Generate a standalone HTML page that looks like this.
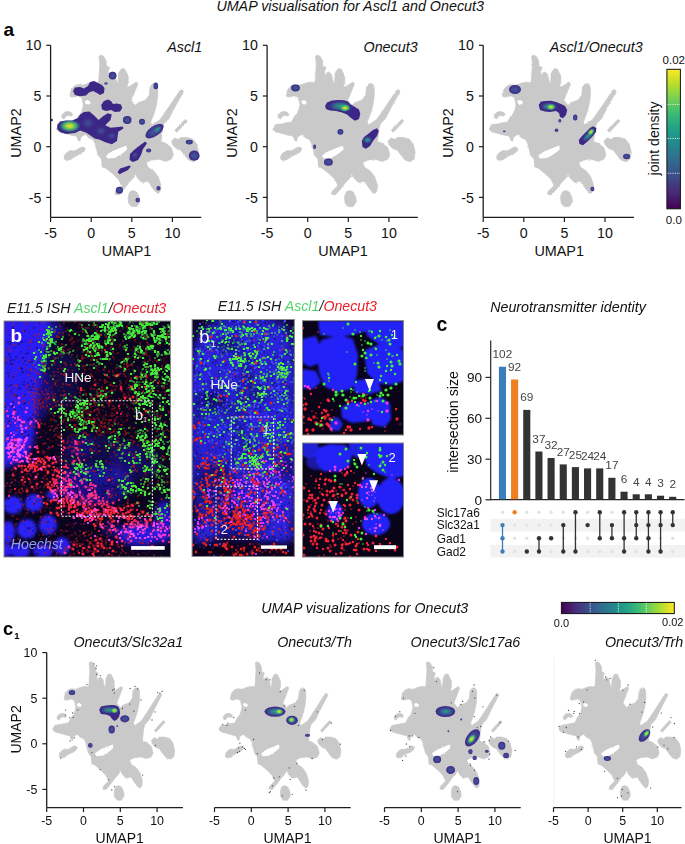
<!DOCTYPE html>
<html><head><meta charset="utf-8"><style>
html,body{margin:0;padding:0;background:#fff;}
svg{display:block;font-family:"Liberation Sans", sans-serif;}
</style></head><body>
<svg width="685" height="844" viewBox="0 0 685 844">
<defs><filter id="rough" x="-5%" y="-5%" width="110%" height="110%"><feTurbulence type="fractalNoise" baseFrequency="0.9" numOctaves="1" seed="4" result="n"/><feDisplacementMap in="SourceGraphic" in2="n" scale="2.2" xChannelSelector="R" yChannelSelector="G"/></filter><g id="umap" filter="url(#rough)"><path d="M286.3,96.2 L287.6,89.6 L291.2,85.7 L295.0,84.6 L300.0,85.3 L304.3,83.5 L309.5,82.2 L314.8,82.6 L315.4,77.8 L316.2,64.7 L315.5,56.2 L317.2,55.2 L319.9,56.2 L322.5,60.8 L322.8,66.0 L325.8,67.3 L325.4,69.7 L324.5,70.6 L324.9,76.5 L326.4,73.2 L328.8,71.9 L331.4,74.2 L332.4,79.2 L333.7,84.4 L334.6,80.5 L335.0,73.2 L338.0,68.7 L340.9,68.9 L344.6,75.9 L344.6,83.1 L342.9,87.0 L346.1,86.4 L352.7,82.1 L354.3,83.8 L350.1,94.3 L347.5,100.2 L351.9,105.4 L354.5,102.8 L361.8,100.2 L365.7,94.9 L366.4,87.0 L369.0,83.8 L372.3,83.8 L374.0,87.0 L374.2,95.0 L373.2,103.0 L371.5,110.0 L369.5,116.0 L367.0,122.0 L368.3,125.0 L376.2,119.9 L385.4,106.8 L396.6,90.3 L398.6,89.7 L399.9,91.6 L390.7,108.1 L385.4,118.6 L380.2,123.8 L378.8,129.1 L377.4,141.7 L381.8,143.1 L387.6,147.5 L389.8,154.8 L387.6,159.2 L381.8,161.4 L375.9,159.2 L368.0,160.0 L362.5,162.5 L364.5,167.5 L370.1,170.9 L374.5,176.7 L377.4,185.5 L376.6,191.3 L374.5,193.5 L371.5,191.3 L367.2,185.5 L364.2,181.1 L358.4,182.6 L354.0,178.2 L351.8,173.8 L349.6,178.2 L345.3,182.6 L340.9,188.4 L335.0,195.0 L331.4,194.2 L332.1,191.3 L338.0,185.5 L335.0,179.6 L329.2,173.8 L321.9,168.0 L318.6,167.0 L317.9,159.2 L314.6,155.2 L312.6,148.0 L311.7,143.9 L309.5,139.6 L305.2,137.8 L301.7,134.3 L297.3,136.9 L296.4,141.3 L294.7,140.4 L292.9,136.1 L288.5,135.2 L281.5,133.4 L275.4,131.7 L272.8,129.0 L275.4,124.7 L281.5,123.8 L285.9,122.9 L291.2,122.0 L292.9,119.4 L294.7,115.9 L297.3,113.3 L299.0,108.9 L299.9,104.5 L299.0,101.0 L298.2,97.5 L294.7,95.8 L288.5,97.1Z M278.0,117.5 L278.5,114.5 L281.0,112.2 L284.5,111.5 L287.5,112.5 L289.0,114.5 L287.5,116.0 L284.5,115.3 L282.0,116.5 L280.5,118.9Z M280.5,159.0 L281.0,155.0 L284.0,152.0 L287.0,150.5 L290.0,151.0 L293.0,150.0 L296.0,148.0 L299.0,147.0 L301.8,148.5 L300.5,151.5 L297.0,154.0 L293.0,155.5 L290.0,157.5 L287.0,159.5 L283.0,160.4Z M344.5,198.0 L346.0,192.0 L349.5,190.6 L353.0,192.0 L355.5,197.0 L356.2,202.0 L353.0,206.6 L348.0,206.6 L345.0,203.0Z M388.0,141.0 L391.0,138.1 L395.0,139.5 L397.2,137.5 L403.0,137.5 L409.0,139.0 L413.0,144.0 L415.0,152.0 L414.0,159.0 L410.0,161.8 L405.0,160.0 L400.0,154.0 L397.0,150.0 L393.0,148.7 L389.0,145.0Z M401.8,119.3 L403.8,121.2 L393.2,132.2 L391.2,130.3Z " fill="#c9c9c9" stroke="#c9c9c9" stroke-width="0.8" stroke-linejoin="round"/><path d="M301.0,101.0 L304.0,100.1 L307.0,102.0 L305.5,104.5 L302.0,104.0Z M322.0,155.5 L328.0,151.5 L334.0,149.0 L339.0,147.0 L343.0,145.5 L343.5,149.5 L339.0,153.2 L335.5,155.6 L331.0,158.0 L324.0,158.6Z " fill="#fff"/></g><linearGradient id="virV" x1="0" y1="1" x2="0" y2="0"><stop offset="0.000" stop-color="#440154"/><stop offset="0.111" stop-color="#482878"/><stop offset="0.222" stop-color="#3e4989"/><stop offset="0.333" stop-color="#31688e"/><stop offset="0.444" stop-color="#26828e"/><stop offset="0.556" stop-color="#1f9e89"/><stop offset="0.667" stop-color="#35b779"/><stop offset="0.778" stop-color="#6ece58"/><stop offset="0.889" stop-color="#b5de2b"/><stop offset="1.000" stop-color="#fde725"/></linearGradient><linearGradient id="virH" x1="0" y1="0" x2="1" y2="0"><stop offset="0.000" stop-color="#440154"/><stop offset="0.111" stop-color="#482878"/><stop offset="0.222" stop-color="#3e4989"/><stop offset="0.333" stop-color="#31688e"/><stop offset="0.444" stop-color="#26828e"/><stop offset="0.556" stop-color="#1f9e89"/><stop offset="0.667" stop-color="#35b779"/><stop offset="0.778" stop-color="#6ece58"/><stop offset="0.889" stop-color="#b5de2b"/><stop offset="1.000" stop-color="#fde725"/></linearGradient><radialGradient id="gP"><stop offset="0" stop-color="#41569a"/><stop offset="0.55" stop-color="#3f4491"/><stop offset="1" stop-color="#3c2787"/></radialGradient>
<radialGradient id="gT"><stop offset="0" stop-color="#2b918b"/><stop offset="0.35" stop-color="#2f738f"/><stop offset="0.7" stop-color="#3e4990"/><stop offset="1" stop-color="#3c2787"/></radialGradient>
<radialGradient id="gY"><stop offset="0" stop-color="#e0e41d"/><stop offset="0.18" stop-color="#a2d93b"/><stop offset="0.38" stop-color="#3cb779"/><stop offset="0.6" stop-color="#2a808e"/><stop offset="0.82" stop-color="#3d4a90"/><stop offset="1" stop-color="#3c2787"/></radialGradient>
<radialGradient id="gI"><stop offset="0" stop-color="#415a9a" stop-opacity="0.9"/><stop offset="1" stop-color="#3f4491" stop-opacity="0"/></radialGradient>
<radialGradient id="gYc"><stop offset="0" stop-color="#e8e41a"/><stop offset="0.3" stop-color="#9ed83f"/><stop offset="0.65" stop-color="#3cb87a" stop-opacity="0.8"/><stop offset="1" stop-color="#2a808e" stop-opacity="0"/></radialGradient>
<radialGradient id="gTc"><stop offset="0" stop-color="#2b9a8a"/><stop offset="0.5" stop-color="#2f7a8f" stop-opacity="0.8"/><stop offset="1" stop-color="#3e4a90" stop-opacity="0"/></radialGradient><filter id="bl1" x="-20%" y="-20%" width="140%" height="140%"><feGaussianBlur stdDeviation="1"/></filter><filter id="bl1.5" x="-20%" y="-20%" width="140%" height="140%"><feGaussianBlur stdDeviation="1.5"/></filter><filter id="bl2" x="-20%" y="-20%" width="140%" height="140%"><feGaussianBlur stdDeviation="2"/></filter><filter id="bl3" x="-20%" y="-20%" width="140%" height="140%"><feGaussianBlur stdDeviation="3"/></filter><filter id="bl4" x="-20%" y="-20%" width="140%" height="140%"><feGaussianBlur stdDeviation="4"/></filter></defs>
<text x="216.4" y="11.1" font-size="14.3" text-anchor="start" font-weight="normal" fill="#111" font-style="italic" >UMAP visualisation for Ascl1 and Onecut3</text>
<text x="3.4" y="35.7" font-size="19" text-anchor="start" font-weight="bold" fill="#000" >a</text>
<use href="#umap" transform="translate(-216.4,0)"/>
<ellipse cx="112.6" cy="75.6" rx="3.9" ry="3.9" fill="url(#gP)"/>
<polygon points="73,91 75,87.5 80,87 84,88.5 88,86 90,82 94,81 98,83 102,85 104.5,88 104,93 100,95 97,93 93,91 89,92.5 86,95.5 80,96.2 75,95" fill="#3c2787"/>
<ellipse cx="106" cy="83.4" rx="1.6" ry="1.2" fill="url(#gP)"/>
<polygon points="101.2,105 104,101 108,99.5 111,101 113,104 117,103.5 121,104.5 122.3,108 120,111.5 115,112 111,110 106,111 102,109.5" fill="#3c2787"/>
<polygon points="57.2,125 60,121.5 66,120.5 72,120.5 78,118 80.2,114.5 84,112 89.4,111.4 94.7,116 98.6,119.9 102.6,116.6 107.8,113.3 111.8,114.6 110.5,119.9 105.2,125.2 110.5,127.8 118,127 122.3,126.6 123.6,128 122.3,129.2 118.3,131.8 117,141 111.8,144.3 105.2,142.3 99.9,139.7 94.7,138.4 86.8,133.1 80.2,130.5 75,133 66,134 60,132 57.2,129" fill="#3c2787"/>
<ellipse cx="88" cy="123" rx="7" ry="6" fill="url(#gI)"/>
<ellipse cx="101" cy="131" rx="6" ry="5" fill="url(#gI)"/>
<ellipse cx="112" cy="136" rx="5" ry="4" fill="url(#gI)"/>
<ellipse cx="69.7" cy="126" rx="11" ry="6.5" fill="url(#gYc)"/>
<ellipse cx="127.2" cy="120" rx="4.3" ry="3.9" fill="url(#gP)"/>
<ellipse cx="142" cy="121.7" rx="3" ry="3" fill="url(#gP)"/>
<ellipse cx="154.5" cy="131.2" rx="10.5" ry="5" fill="url(#gP)" transform="rotate(-34 154.5 131.2)"/>
<ellipse cx="157.5" cy="129.5" rx="5.5" ry="3.2" fill="url(#gTc)" transform="rotate(-34 157.5 129.5)"/>
<polygon points="145.3,141.5 147,143.5 143,149 141,155 138,160 133,162 129.6,160 130,154 134,150 139,146" fill="#3c2787"/>
<ellipse cx="135" cy="155" rx="4" ry="4" fill="url(#gI)"/>
<ellipse cx="148.6" cy="150.5" rx="2.6" ry="2" fill="url(#gP)"/>
<polygon points="117.7,172 120,168.5 125,167 129,165.6 130.9,166.5 128,170 123,172.5 119.5,174.2" fill="#3c2787"/>
<ellipse cx="119.4" cy="190.2" rx="3.6" ry="3.5" fill="url(#gP)"/>
<ellipse cx="158.5" cy="188.3" rx="2" ry="2.3" fill="url(#gP)"/>
<ellipse cx="137.7" cy="200.1" rx="2.3" ry="2.3" fill="url(#gP)"/>
<ellipse cx="194.2" cy="155.7" rx="5.4" ry="5.1" fill="url(#gP)"/>
<ellipse cx="189.3" cy="142.1" rx="3.6" ry="2.3" fill="url(#gP)"/>
<ellipse cx="155.8" cy="85.9" rx="2.3" ry="3.3" fill="url(#gP)"/>
<ellipse cx="51.8" cy="120" rx="1.3" ry="1.3" fill="url(#gP)"/>
<path d="M50.6,45.3 V217.4" stroke="#1e1e1e" stroke-width="1.3" fill="none"/>
<path d="M46.3,45.3 H50.6" stroke="#1e1e1e" stroke-width="1.2"/>
<text x="41.3" y="50.4" font-size="14.2" text-anchor="end" font-weight="normal" fill="#111" >10</text>
<path d="M46.3,96.0 H50.6" stroke="#1e1e1e" stroke-width="1.2"/>
<text x="41.3" y="101.1" font-size="14.2" text-anchor="end" font-weight="normal" fill="#111" >5</text>
<path d="M46.3,146.7 H50.6" stroke="#1e1e1e" stroke-width="1.2"/>
<text x="41.3" y="151.8" font-size="14.2" text-anchor="end" font-weight="normal" fill="#111" >0</text>
<path d="M46.3,197.4 H50.6" stroke="#1e1e1e" stroke-width="1.2"/>
<text x="41.3" y="202.5" font-size="14.2" text-anchor="end" font-weight="normal" fill="#111" >-5</text>
<path d="M50.6,217.4 H201.3" stroke="#1e1e1e" stroke-width="1.2" fill="none"/>
<path d="M50.6,217.4 V221.9" stroke="#1e1e1e" stroke-width="1.2"/>
<text x="50.6" y="237.6" font-size="14.2" text-anchor="middle" font-weight="normal" fill="#111" >-5</text>
<path d="M91.2,217.4 V221.9" stroke="#1e1e1e" stroke-width="1.2"/>
<text x="91.2" y="237.6" font-size="14.2" text-anchor="middle" font-weight="normal" fill="#111" >0</text>
<path d="M131.8,217.4 V221.9" stroke="#1e1e1e" stroke-width="1.2"/>
<text x="131.8" y="237.6" font-size="14.2" text-anchor="middle" font-weight="normal" fill="#111" >5</text>
<path d="M172.4,217.4 V221.9" stroke="#1e1e1e" stroke-width="1.2"/>
<text x="172.4" y="237.6" font-size="14.2" text-anchor="middle" font-weight="normal" fill="#111" >10</text>
<text x="126.6" y="255.6" font-size="14.4" text-anchor="middle" font-weight="normal" fill="#111" >UMAP1</text>
<text x="0.0" y="0.0" font-size="14.4" text-anchor="middle" font-weight="normal" fill="#111" transform="translate(20.6,133) rotate(-90)">UMAP2</text>
<use href="#umap" transform="translate(0.1,0)"/>
<ellipse cx="295.5" cy="88" rx="4.4" ry="3.4" fill="url(#gP)"/>
<polygon points="325.1,106 327,102.5 332,100.5 338,100 344,100.2 348,101.5 350,104 355,107 359,109.5 360.3,114 359,119 355,120.7 351,118 347,114.5 342,112.5 336,111 330,110.5 326,109" fill="#3c2787"/>
<ellipse cx="340" cy="106" rx="12" ry="5.5" fill="url(#gTc)"/>
<ellipse cx="345" cy="108" rx="6" ry="4" fill="url(#gYc)"/>
<ellipse cx="340.4" cy="131.8" rx="3" ry="2.9" fill="url(#gP)"/>
<polygon points="377,128.3 378.8,131 377,136 373,141 370,146 366,148.7 362.5,147 361.8,141 364,137 368,134 373,130" fill="#3c2787"/>
<ellipse cx="367.5" cy="140" rx="5" ry="4" fill="url(#gTc)"/>
<ellipse cx="314.6" cy="146.8" rx="1.5" ry="2.3" fill="url(#gP)"/>
<ellipse cx="328.4" cy="162.2" rx="4.4" ry="3.6" fill="url(#gP)"/>
<path d="M267.1,45.3 V217.4" stroke="#1e1e1e" stroke-width="1.3" fill="none"/>
<path d="M262.8,45.3 H267.1" stroke="#1e1e1e" stroke-width="1.2"/>
<text x="257.8" y="50.4" font-size="14.2" text-anchor="end" font-weight="normal" fill="#111" >10</text>
<path d="M262.8,96.0 H267.1" stroke="#1e1e1e" stroke-width="1.2"/>
<text x="257.8" y="101.1" font-size="14.2" text-anchor="end" font-weight="normal" fill="#111" >5</text>
<path d="M262.8,146.7 H267.1" stroke="#1e1e1e" stroke-width="1.2"/>
<text x="257.8" y="151.8" font-size="14.2" text-anchor="end" font-weight="normal" fill="#111" >0</text>
<path d="M262.8,197.4 H267.1" stroke="#1e1e1e" stroke-width="1.2"/>
<text x="257.8" y="202.5" font-size="14.2" text-anchor="end" font-weight="normal" fill="#111" >-5</text>
<path d="M267.1,217.4 H417.8" stroke="#1e1e1e" stroke-width="1.2" fill="none"/>
<path d="M267.1,217.4 V221.9" stroke="#1e1e1e" stroke-width="1.2"/>
<text x="267.1" y="237.6" font-size="14.2" text-anchor="middle" font-weight="normal" fill="#111" >-5</text>
<path d="M307.7,217.4 V221.9" stroke="#1e1e1e" stroke-width="1.2"/>
<text x="307.7" y="237.6" font-size="14.2" text-anchor="middle" font-weight="normal" fill="#111" >0</text>
<path d="M348.3,217.4 V221.9" stroke="#1e1e1e" stroke-width="1.2"/>
<text x="348.3" y="237.6" font-size="14.2" text-anchor="middle" font-weight="normal" fill="#111" >5</text>
<path d="M388.9,217.4 V221.9" stroke="#1e1e1e" stroke-width="1.2"/>
<text x="388.9" y="237.6" font-size="14.2" text-anchor="middle" font-weight="normal" fill="#111" >10</text>
<text x="343.1" y="255.6" font-size="14.4" text-anchor="middle" font-weight="normal" fill="#111" >UMAP1</text>
<text x="0.0" y="0.0" font-size="14.4" text-anchor="middle" font-weight="normal" fill="#111" transform="translate(237.1,133) rotate(-90)">UMAP2</text>
<use href="#umap" transform="translate(216.2,0)"/>
<ellipse cx="515" cy="89.5" rx="6" ry="4.5" fill="url(#gP)"/>
<polygon points="538.7,105 541,101.5 546,101 551,100.7 556,102 561,104 565,106 567.2,110 566,115 563,118.2 560,117 559,113 556,111 550,112 545,111.5 540,110" fill="#3c2787"/>
<ellipse cx="549" cy="106.5" rx="9" ry="4.5" fill="url(#gTc)"/>
<ellipse cx="551" cy="107" rx="5" ry="3.5" fill="url(#gYc)"/>
<ellipse cx="559.8" cy="120.7" rx="1.5" ry="1.8" fill="url(#gP)"/>
<ellipse cx="575.2" cy="117.4" rx="2.2" ry="3" fill="url(#gP)"/>
<ellipse cx="556.5" cy="130.2" rx="1.8" ry="1.8" fill="url(#gP)"/>
<ellipse cx="504.3" cy="131.3" rx="1.4" ry="0.9" fill="url(#gP)"/>
<polygon points="593,126.2 596.4,128 596,132 592,137 588,141 583,145.2 579.5,144 578.8,140 582,136 586,132 590,128" fill="#3c2787"/>
<ellipse cx="588" cy="136" rx="8" ry="3.5" fill="url(#gTc)" transform="rotate(-45 588 136)"/>
<ellipse cx="591" cy="132" rx="4.5" ry="3" fill="url(#gYc)" transform="rotate(-45 591 132)"/>
<ellipse cx="626.6" cy="156.5" rx="3.5" ry="2.7" fill="url(#gP)"/>
<ellipse cx="592.4" cy="189" rx="2" ry="2.3" fill="url(#gP)"/>
<path d="M483.2,45.3 V217.4" stroke="#1e1e1e" stroke-width="1.3" fill="none"/>
<path d="M478.9,45.3 H483.2" stroke="#1e1e1e" stroke-width="1.2"/>
<text x="473.9" y="50.4" font-size="14.2" text-anchor="end" font-weight="normal" fill="#111" >10</text>
<path d="M478.9,96.0 H483.2" stroke="#1e1e1e" stroke-width="1.2"/>
<text x="473.9" y="101.1" font-size="14.2" text-anchor="end" font-weight="normal" fill="#111" >5</text>
<path d="M478.9,146.7 H483.2" stroke="#1e1e1e" stroke-width="1.2"/>
<text x="473.9" y="151.8" font-size="14.2" text-anchor="end" font-weight="normal" fill="#111" >0</text>
<path d="M478.9,197.4 H483.2" stroke="#1e1e1e" stroke-width="1.2"/>
<text x="473.9" y="202.5" font-size="14.2" text-anchor="end" font-weight="normal" fill="#111" >-5</text>
<path d="M483.2,217.4 H633.9" stroke="#1e1e1e" stroke-width="1.2" fill="none"/>
<path d="M483.2,217.4 V221.9" stroke="#1e1e1e" stroke-width="1.2"/>
<text x="483.2" y="237.6" font-size="14.2" text-anchor="middle" font-weight="normal" fill="#111" >-5</text>
<path d="M523.8,217.4 V221.9" stroke="#1e1e1e" stroke-width="1.2"/>
<text x="523.8" y="237.6" font-size="14.2" text-anchor="middle" font-weight="normal" fill="#111" >0</text>
<path d="M564.4,217.4 V221.9" stroke="#1e1e1e" stroke-width="1.2"/>
<text x="564.4" y="237.6" font-size="14.2" text-anchor="middle" font-weight="normal" fill="#111" >5</text>
<path d="M605.0,217.4 V221.9" stroke="#1e1e1e" stroke-width="1.2"/>
<text x="605.0" y="237.6" font-size="14.2" text-anchor="middle" font-weight="normal" fill="#111" >10</text>
<text x="559.2" y="255.6" font-size="14.4" text-anchor="middle" font-weight="normal" fill="#111" >UMAP1</text>
<text x="0.0" y="0.0" font-size="14.4" text-anchor="middle" font-weight="normal" fill="#111" transform="translate(453.2,133) rotate(-90)">UMAP2</text>
<text x="202.2" y="51.9" font-size="14.3" text-anchor="end" font-weight="normal" fill="#111" font-style="italic" >Ascl1</text>
<text x="417.6" y="51.7" font-size="14.3" text-anchor="end" font-weight="normal" fill="#111" font-style="italic" >Onecut3</text>
<text x="642.7" y="51.9" font-size="14.3" text-anchor="end" font-weight="normal" fill="#111" font-style="italic" >Ascl1/Onecut3</text>
<rect x="666.9" y="69.3" width="13.5" height="139.5" fill="url(#virV)" stroke="#111" stroke-width="1"/>
<path d="M667.5,104.4 H680" stroke="#fff" stroke-width="0.9" stroke-dasharray="1.2,1.2" opacity="0.9"/>
<path d="M667.5,138.5 H680" stroke="#fff" stroke-width="0.9" stroke-dasharray="1.2,1.2" opacity="0.9"/>
<path d="M667.5,173.3 H680" stroke="#fff" stroke-width="0.9" stroke-dasharray="1.2,1.2" opacity="0.9"/>
<text x="673.8" y="63.6" font-size="11.5" text-anchor="middle" font-weight="normal" fill="#111" >0.02</text>
<text x="673.8" y="223.6" font-size="11.5" text-anchor="middle" font-weight="normal" fill="#111" >0.0</text>
<text x="0.0" y="0.0" font-size="14" text-anchor="middle" font-weight="normal" fill="#111" transform="translate(658.5,138.5) rotate(-90)">joint density</text>
<clipPath id="cpb"><rect x="4" y="321" width="166.5" height="236.0"/></clipPath>
<g clip-path="url(#cpb)">
<rect x="4" y="321" width="166.5" height="236.0" fill="#0a0420"/>
<g filter="url(#bl3)"><polygon points="0,318 48,318 52,330 47,350 40,380 37,410 34,440 26,460 0,470" fill="#2a1cf4" opacity="1"/><ellipse cx="50" cy="330" rx="14" ry="10" fill="#2a1cf4" opacity="0.5"/><ellipse cx="40" cy="395" rx="12" ry="25" fill="#2a1cf4" opacity="0.35"/><ellipse cx="60" cy="380" rx="20" ry="30" fill="#2a1cf4" opacity="0.18"/><ellipse cx="100" cy="460" rx="40" ry="25" fill="#2a1cf4" opacity="0.2"/><ellipse cx="95" cy="485" rx="38" ry="20" fill="#2a1cf4" opacity="0.45"/><ellipse cx="135" cy="462" rx="25" ry="18" fill="#2a1cf4" opacity="0.25"/><ellipse cx="80" cy="445" rx="15" ry="12" fill="#2a1cf4" opacity="0.25"/><ellipse cx="140" cy="535" rx="22" ry="11" fill="#2a1cf4" opacity="0.9"/><ellipse cx="164" cy="522" rx="9" ry="22" fill="#2a1cf4" opacity="0.8"/><ellipse cx="112" cy="530" rx="10" ry="6" fill="#2a1cf4" opacity="0.4"/></g>
<g filter="url(#bl1.5)"><ellipse cx="13" cy="505" rx="10" ry="9" fill="#2a20f8" opacity="1"/><ellipse cx="34" cy="503" rx="9" ry="9" fill="#2a20f8" opacity="1"/><ellipse cx="27" cy="529" rx="10" ry="10" fill="#2a20f8" opacity="1"/><ellipse cx="48" cy="525" rx="9" ry="10" fill="#2a20f8" opacity="1"/><ellipse cx="8" cy="532" rx="7" ry="11" fill="#2a20f8" opacity="1"/><ellipse cx="62" cy="546" rx="8" ry="9" fill="#2a20f8" opacity="0.95"/><ellipse cx="43" cy="551" rx="10" ry="7" fill="#2a20f8" opacity="0.95"/><ellipse cx="20" cy="551" rx="10" ry="7" fill="#2a20f8" opacity="0.95"/><ellipse cx="6" cy="550" rx="6" ry="7" fill="#2a20f8" opacity="0.95"/><ellipse cx="52" cy="495" rx="6" ry="5" fill="#2a20f8" opacity="0.8"/></g>
<path d="M15 321h0m24 2h0m-21 1h0m-5 3h0m0 1h0m16 4h0m-14 1h0m-5 2h0m6 5h0m23 1h0m-22 1h0m4 0h0m4 0h0m8 0h0m-4 4h0m-13 1h0m-2 1h0m-7 1h0m34 0h0m3 0h0m-16 1h0m-7 2h0m-11 4h0m0 1h0m14 0h0m23 0h0m-36 1h0m21 2h0m14 0h0m-36 1h0m28 0h0m-27 1h0m9 0h0m10 0h0m7 0h0m-29 2h0m15 0h0m3 1h0m16 2h0m-12 2h0m4 0h0m-24 1h0m16 0h0m-5 1h0m19 0h0m-12 1h0m-2 1h0m4 0h0m-9 1h0m9 0h0m-6 4h0m13 3h0m-10 2h0m-23 1h0m17 0h0m-15 1h0m12 0h0m-9 1h0m21 0h0m15 0h0m-13 1h0m1 0h0m-21 2h0m6 0h0m2 0h0m7 0h0m14 0h0m-12 1h0m4 0h0m-22 1h0m1 2h0m36 4h0m-24 4h0m-11 1h0m6 0h0m26 4h0m-25 1h0m2 2h0m5 2h0m-1 1h0m-8 1h0m-8 3h0m2 0h0m9 0h0m16 0h0m-10 2h0m-7 1h0m21 0h0m-11 1h0m7 0h0m-19 2h0m-4 1h0m26 0h0m14 1h0m-43 1h0m31 2h0m7 1h0m3 3h0m-25 1h0m2 0h0m-11 3h0m10 0h0m5 2h0m6 2h0m-6 1h0m-16 3h0m9 0h0m20 0h0m-34 3h0m-2 1h0m2 0h0m9 0h0m20 2h0m3 0h0m55 0h0m-81 2h0m26 1h0m-29 1h0m58 1h0m29 1h0m-69 2h0m49 0h0m-67 2h0m110 0h0m-41 3h0m-63 1h0m47 0h0m-39 1h0m96 0h0m-82 1h0m63 1h0m-35 1h0m26 0h0m13 0h0m-31 1h0m9 0h0m-55 2h0m41 0h0m36 1h0m33 0h0m-129 1h0m11 0h0m47 0h0m-29 1h0m72 0h0m-25 1h0m9 1h0m8 0h0m-19 1h0m0 0h0m20 0h0m28 0h0m14 0h0m-136 1h0m50 0h0m13 0h0m14 0h0m-61 1h0m79 1h0m10 0h0m1 0h0m-100 1h0m-4 1h0m15 0h0m50 0h0m24 0h0m6 0h0m15 0h0m-98 1h0m26 0h0m62 0h0m-74 1h0m48 0h0m44 0h0m-38 1h0m22 1h0m-41 1h0m35 0h0m-10 1h0m7 0h0m-58 1h0m27 0h0m60 0h0m-27 1h0m15 0h0m-110 1h0m74 0h0m2 0h0m-22 1h0m23 0h0m-41 1h0m60 0h0m-35 1h0m80 0h0m-109 1h0m43 0h0m3 0h0m8 0h0m-93 1h0m124 0h0m-120 1h0m34 0h0m65 0h0m-29 1h0m10 0h0m4 0h0m3 1h0m-51 1h0m20 0h0m56 0h0m16 0h0m-102 1h0m13 0h0m64 0h0m-44 1h0m38 0h0m-85 1h0m67 0h0m-68 1h0m10 0h0m26 0h0m-5 1h0m73 0h0m-1 1h0m-118 1h0m86 0h0m-91 1h0m45 0h0m39 0h0m-53 2h0m65 0h0m-58 1h0m104 0h0m-98 1h0m4 1h0m-21 1h0m73 3h0m-56 1h0m18 0h0m-56 1h0m16 0h0m-9 1h0m2 0h0m11 1h0m3 0h0m7 1h0m24 0h0m-10 1h0m-20 1h0m22 0h0m-49 2h0m11 0h0m7 0h0m100 0h0m-77 1h0m-15 1h0m6 1h0m-11 1h0m7 0h0m-28 1h0m60 0h0m-11 1h0m-31 1h0m-13 1h0m42 1h0m0 0h0m-35 2h0m18 1h0m19 0h0m-49 2h0m7 2h0m8 2h0m18 5h0m11 1h0m1 2h0m-28 6h0" stroke="#000" stroke-width="1.0" stroke-linecap="square" fill="none" opacity="0.55"/><path d="M67 326h0m-16 1h0m-17 1h0m-20 1h0m11 2h0m25 2h0m-42 9h0m3 0h0m11 0h0m-12 2h0m9 0h0m18 4h0m3 3h0m36 0h0m-31 1h0m-17 1h0m-19 1h0m17 0h0m22 1h0m-32 2h0m-11 1h0m18 0h0m-12 2h0m3 0h0m11 1h0m27 0h0m-23 1h0m3 0h0m10 0h0m-37 1h0m6 1h0m2 0h0m8 4h0m1 1h0m1 3h0m-15 1h0m1 3h0m4 1h0m18 4h0m-7 1h0m4 2h0m5 0h0m-22 1h0m13 0h0m31 1h0m-26 1h0m5 0h0m-14 1h0m19 1h0m-8 1h0m5 0h0m4 2h0m1 0h0m-26 3h0m10 0h0m-8 1h0m26 3h0m-2 2h0m-21 2h0m5 0h0m-20 1h0m19 0h0m-11 2h0m0 0h0m-8 1h0m7 0h0m3 3h0m0 4h0m18 1h0m26 1h0m-46 1h0m17 1h0m2 1h0m-4 1h0m-19 1h0m15 3h0m25 0h0m-19 1h0m6 1h0m0 2h0m-1 2h0m-10 2h0m13 1h0m-16 1h0m-14 1h0m21 0h0m-5 2h0m-12 7h0m28 1h0m-29 4h0m1 1h0m20 0h0m-21 4h0m83 5h0m8 1h0m2 0h0m-96 1h0m15 0h0m85 0h0m14 1h0m-102 1h0m84 1h0m-76 1h0m51 0h0m7 0h0m5 0h0m-5 2h0m67 4h0m-142 1h0m87 0h0m13 0h0m29 0h0m-35 1h0m32 1h0m-122 1h0m60 1h0m6 0h0m51 0h0m-79 1h0m29 0h0m52 0h0m-24 1h0m31 0h0m-52 1h0m-18 2h0m28 0h0m12 0h0m-58 1h0m14 0h0m27 0h0m15 0h0m-100 1h0m80 0h0m20 0h0m10 0h0m9 0h0m-53 1h0m14 0h0m14 0h0m-92 1h0m24 0h0m57 0h0m17 0h0m-51 1h0m7 0h0m3 0h0m29 0h0m8 0h0m1 0h0m8 1h0m-69 1h0m7 0h0m8 0h0m18 0h0m-59 2h0m68 0h0m15 0h0m12 0h0m4 0h0m-27 1h0m15 0h0m22 0h0m-94 1h0m22 0h0m48 0h0m-99 1h0m8 0h0m110 0h0m1 0h0m-32 1h0m25 1h0m-14 1h0m50 0h0m-136 1h0m-10 1h0m48 0h0m23 0h0m30 0h0m-99 1h0m21 0h0m61 1h0m32 0h0m17 0h0m-104 1h0m9 0h0m8 0h0m-33 1h0m26 1h0m10 0h0m17 0h0m27 0h0m-66 1h0m16 0h0m49 0h0m-33 1h0m81 0h0m-141 1h0m45 0h0m9 1h0m-2 2h0m9 0h0m-49 1h0m12 0h0m82 0h0m-76 1h0m4 1h0m20 0h0m-20 2h0m2 1h0m-23 3h0m19 1h0m-13 1h0m13 0h0m21 0h0m11 0h0m52 0h0m-104 1h0m-3 1h0m33 0h0m14 0h0m-26 4h0m32 1h0m-40 1h0m2 0h0m24 0h0m8 0h0m-19 2h0m-10 1h0m5 0h0m8 1h0m-10 1h0m5 0h0m17 0h0m-22 1h0m24 0h0m7 0h0m-18 1h0m-13 1h0m18 0h0m16 1h0m-42 1h0m-16 1h0m16 0h0m-16 1h0m29 0h0m9 5h0m-29 3h0m9 1h0m1 1h0m22 3h0m-16 1h0m10 3h0" stroke="#000" stroke-width="1.6" stroke-linecap="square" fill="none" opacity="0.55"/>
<path d="M136 321h0m-68 1h0m47 0h0m-107 1h0m17 0h0m114 0h0m-103 1h0m52 0h0m19 0h0m10 0h0m-21 1h0m31 1h0m-48 1h0m22 0h0m70 0h0m-147 1h0m14 0h0m29 0h0m-60 1h0m38 0h0m1 0h0m-32 1h0m27 0h0m10 0h0m32 0h0m8 0h0m-5 1h0m30 0h0m13 1h0m32 0h0m-153 1h0m94 0h0m13 0h0m-97 1h0m15 1h0m111 0h0m6 0h0m17 0h0m-68 1h0m7 0h0m10 0h0m32 0h0m-76 1h0m-60 1h0m35 0h0m101 0h0m-69 2h0m17 0h0m15 0h0m3 0h0m-76 1h0m39 0h0m5 0h0m12 0h0m5 0h0m60 0h0m-87 1h0m63 0h0m-106 1h0m70 0h0m-83 1h0m83 0h0m14 0h0m-101 1h0m52 0h0m31 0h0m21 0h0m-72 1h0m6 0h0m93 0h0m12 0h0m-146 1h0m63 0h0m47 0h0m-41 1h0m65 0h0m-83 1h0m50 0h0m-68 1h0m35 0h0m54 0h0m2 0h0m-87 1h0m56 0h0m-66 1h0m28 0h0m38 0h0m35 0h0m2 1h0m-81 1h0m57 0h0m56 0h0m-108 1h0m14 0h0m33 0h0m61 0h0m-82 1h0m2 0h0m58 0h0m-95 1h0m17 0h0m16 0h0m10 0h0m43 0h0m10 0h0m16 0h0m-137 1h0m25 0h0m46 0h0m15 0h0m49 0h0m-145 1h0m55 0h0m31 0h0m1 0h0m2 0h0m0 0h0m6 0h0m13 0h0m23 0h0m11 0h0m-108 1h0m26 0h0m4 0h0m13 0h0m23 0h0m26 0h0m10 0h0m9 0h0m-82 1h0m43 0h0m23 0h0m-121 1h0m28 0h0m23 0h0m56 0h0m19 0h0m4 0h0m7 0h0m2 0h0m-124 1h0m22 0h0m36 0h0m-49 1h0m27 0h0m13 0h0m20 0h0m56 0h0m-153 1h0m41 0h0m44 0h0m6 0h0m42 0h0m22 0h0m-126 1h0m17 0h0m36 0h0m23 0h0m13 0h0m1 0h0m-108 1h0m73 0h0m26 0h0m14 0h0m-77 1h0m3 0h0m19 0h0m22 0h0m1 0h0m14 0h0m30 0h0m-105 1h0m17 0h0m27 0h0m8 0h0m32 0h0m9 0h0m23 0h0m8 0h0m-97 1h0m19 0h0m7 0h0m5 0h0m10 0h0m-40 1h0m27 0h0m17 0h0m16 0h0m-117 1h0m80 0h0m14 0h0m-95 1h0m91 0h0m15 0h0m-58 1h0m17 0h0m73 0h0m16 0h0m-114 1h0m94 0h0m10 0h0m-148 1h0m2 0h0m45 0h0m18 0h0m14 0h0m2 0h0m23 0h0m14 0h0m12 0h0m-15 1h0m-87 1h0m4 0h0m109 0h0m16 0h0m2 0h0m-156 1h0m46 0h0m-7 1h0m1 0h0m29 0h0m13 0h0m31 0h0m-71 1h0m2 0h0m27 0h0m29 1h0m12 0h0m18 0h0m1 0h0m25 0h0m-128 1h0m6 0h0m8 0h0m40 0h0m2 0h0m13 0h0m15 0h0m26 0h0m9 0h0m-106 1h0m8 0h0m102 0h0m-32 1h0m-100 1h0m24 0h0m65 0h0m15 0h0m15 0h0m8 0h0m10 0h0m-118 1h0m9 0h0m2 0h0m9 0h0m19 0h0m27 0h0m11 0h0m19 0h0m19 0h0m-127 1h0m9 0h0m66 0h0m13 0h0m-101 1h0m79 0h0m21 0h0m19 0h0m19 0h0m6 0h0m-112 1h0m41 0h0m4 0h0m11 0h0m-99 1h0m25 0h0m64 0h0m-75 1h0m18 0h0m4 0h0m70 0h0m9 0h0m4 0h0m-100 1h0m93 0h0m30 0h0m3 0h0m-124 1h0m6 0h0m5 0h0m4 0h0m23 0h0m80 0h0m15 0h0m-144 1h0m18 0h0m2 0h0m6 0h0m41 0h0m3 0h0m4 0h0m26 0h0m12 0h0m2 0h0m31 0h0m-156 1h0m25 0h0m14 0h0m7 0h0m49 0h0m1 0h0m12 0h0m1 0h0m1 0h0m-112 1h0m41 0h0m2 0h0m43 0h0m31 0h0m30 0h0m-119 1h0m78 0h0m17 0h0m-97 1h0m2 0h0m2 0h0m18 0h0m8 0h0m21 0h0m1 0h0m22 0h0m6 0h0m20 0h0m-125 1h0m11 0h0m6 0h0m13 0h0m2 0h0m19 0h0m3 0h0m7 0h0m66 0h0m-119 1h0m17 0h0m0 0h0m0 0h0m3 0h0m5 0h0m39 0h0m50 0h0m14 0h0m-112 1h0m5 0h0m2 0h0m25 0h0m33 0h0m48 0h0m-110 1h0m40 0h0m8 0h0m45 0h0m19 0h0m13 0h0m-120 1h0m37 0h0m2 0h0m6 0h0m20 0h0m20 0h0m19 0h0m7 0h0m-117 1h0m3 0h0m20 0h0m11 0h0m9 0h0m77 0h0m-100 1h0m33 0h0m46 0h0m-92 1h0m81 0h0m14 0h0m-135 1h0m124 0h0m-85 1h0m42 0h0m10 0h0m13 0h0m-67 1h0m6 0h0m40 0h0m13 0h0m-96 1h0m30 0h0m12 0h0m32 0h0m5 0h0m2 0h0m10 0h0m17 0h0m2 0h0m2 0h0m50 0h0m-159 1h0m80 0h0m2 0h0m14 0h0m16 0h0m18 0h0m15 0h0m1 0h0m-119 1h0m16 0h0m16 0h0m16 0h0m2 0h0m1 0h0m40 0h0m30 0h0m-108 1h0m29 0h0m48 0h0m19 0h0m23 0h0m-116 1h0m23 0h0m4 0h0m31 0h0m18 0h0m27 0h0m-123 1h0m29 0h0m9 0h0m19 0h0m11 0h0m3 0h0m6 0h0m13 0h0m12 0h0m-44 1h0m30 0h0m30 0h0m10 0h0m-153 1h0m43 0h0m25 0h0m20 0h0m7 0h0m1 0h0m49 0h0m-133 1h0m33 0h0m12 0h0m27 0h0m12 0h0m10 0h0m-107 1h0m15 0h0m66 0h0m6 0h0m1 0h0m3 0h0m5 0h0m7 0h0m1 0h0m0 0h0m4 0h0m6 0h0m23 0h0m-107 1h0m31 0h0m22 0h0m1 0h0m11 0h0m41 0h0m-51 1h0m31 0h0m2 0h0m10 0h0m-110 1h0m3 0h0m38 0h0m30 0h0m5 0h0m3 0h0m11 0h0m4 0h0m-86 1h0m58 0h0m3 0h0m8 0h0m2 0h0m6 0h0m-11 1h0m58 0h0m-141 1h0m33 0h0m60 0h0m36 0h0m9 0h0m-120 1h0m17 0h0m5 0h0m42 0h0m9 0h0m-67 1h0m23 0h0m37 0h0m22 0h0m-53 1h0m8 0h0m7 0h0m20 0h0m7 0h0m4 0h0m16 0h0m29 0h0m-109 1h0m21 0h0m11 0h0m11 0h0m21 0h0m47 0h0m-139 1h0m20 0h0m64 0h0m-68 1h0m19 0h0m52 0h0m62 0h0m-126 1h0m14 0h0m33 0h0m11 0h0m3 0h0m28 0h0m-64 1h0m12 0h0m40 0h0m3 0h0m19 0h0m-138 1h0m50 0h0m16 0h0m14 0h0m2 0h0m15 0h0m32 0h0m-67 1h0m2 0h0m-45 1h0m28 0h0m22 0h0m4 0h0m15 0h0m70 0h0m-125 1h0m28 0h0m0 0h0m40 0h0m11 0h0m35 0h0m-140 1h0m59 0h0m22 0h0m64 0h0m-128 1h0m2 0h0m23 0h0m2 0h0m-52 1h0m44 0h0m2 0h0m36 0h0m3 0h0m27 0h0m-13 1h0m30 0h0m24 0h0m-123 1h0m42 0h0m73 0h0m-105 1h0m16 0h0m34 0h0m17 0h0m-55 1h0m3 0h0m17 0h0m16 0h0m38 0h0m-102 1h0m33 0h0m6 1h0m0 0h0m44 0h0m30 0h0m-68 1h0m4 0h0m62 0h0m-63 1h0m8 0h0m10 0h0m63 0h0m-3 1h0m-129 1h0m95 0h0m-95 2h0m15 0h0m55 0h0m-53 1h0m66 0h0m5 0h0m10 0h0m46 0h0m-116 1h0m11 0h0m56 0h0m-112 1h0m7 0h0m98 0h0m-65 1h0m61 0h0m45 0h0m-38 1h0m52 0h0m-128 1h0m23 0h0m-50 1h0m20 0h0m35 0h0m15 0h0m70 0h0m-1 1h0m-93 1h0m68 0h0m32 0h0m-99 1h0m47 0h0m-79 1h0m80 0h0m3 0h0m-88 1h0m44 0h0m48 0h0m3 0h0m-97 1h0m39 0h0m21 0h0m9 0h0m40 1h0m-111 1h0m125 0h0m6 0h0m-32 1h0m18 0h0m-96 1h0m36 0h0m40 0h0m17 0h0m12 0h0m17 0h0m-127 1h0m19 0h0m34 0h0m-75 1h0m116 0h0m32 0h0m-135 1h0m97 0h0m-88 1h0m57 0h0m24 0h0m-93 1h0m54 0h0m67 0h0m10 0h0m-148 1h0m7 0h0m93 0h0m16 0h0m35 0h0m-146 1h0m7 0h0m2 0h0m2 0h0m11 0h0m71 0h0m5 0h0m-59 1h0m33 0h0m28 0h0m32 0h0m-134 1h0m15 0h0m8 0h0m3 0h0m8 0h0m83 0h0m-9 1h0m1 0h0m-104 1h0m32 0h0m45 0h0m17 0h0m57 0h0m-148 1h0m19 0h0m3 0h0m9 0h0m96 0h0m-115 1h0m82 0h0m11 0h0m37 0h0m-138 1h0m7 0h0m21 0h0m20 0h0m96 0h0m-159 1h0m7 0h0m6 0h0m150 0h0m-139 1h0m5 0h0m7 1h0m-28 1h0m10 0h0m18 0h0m85 0h0m24 0h0m-132 1h0m8 0h0m85 0h0m-57 1h0m87 0h0m22 0h0m-138 1h0m8 0h0m76 0h0m-101 1h0m29 0h0m9 0h0m-22 1h0m49 0h0m76 0h0m-70 1h0m48 0h0m13 0h0m-115 1h0m98 0h0m-79 1h0m98 0h0m-17 2h0m-41 1h0m74 0h0m-47 2h0m-58 1h0m-42 1h0m31 0h0m48 0h0m-22 3h0m48 0h0m0 0h0m12 0h0m-90 1h0m84 0h0m-80 1h0m-20 1h0m1 0h0m85 0h0m7 0h0m-62 1h0m51 0h0m3 0h0m24 0h0m-89 1h0m31 0h0m24 0h0m17 0h0m4 0h0m23 0h0m-36 2h0m-88 1h0m-8 2h0m13 0h0m84 0h0m-69 1h0m23 1h0m45 0h0m-89 1h0m84 0h0m8 0h0m-66 1h0m57 0h0m22 3h0m12 0h0m-66 1h0m23 0h0m-88 1h0m10 1h0m58 1h0m50 0h0m-9 1h0m19 0h0m37 0h0m-55 1h0m24 0h0m2 0h0m17 0h0m2 0h0m-53 1h0m18 0h0m-62 1h0m5 0h0m21 0h0m19 0h0m-16 1h0m53 0h0m-53 1h0m19 0h0m-61 1h0m11 0h0m50 0h0m-81 1h0m9 0h0m37 0h0m4 0h0m5 0h0m17 0h0m20 0h0m-54 1h0m2 0h0m9 0h0m29 0h0m10 0h0m-69 1h0m77 0h0m30 0h0m0 0h0m-87 1h0m8 0h0m4 0h0m36 0h0m28 0h0m-44 1h0m1 0h0m-18 1h0m8 0h0m48 0h0m-45 1h0m-81 1h0m87 0h0m8 0h0m18 0h0m-120 1h0m20 0h0m24 0h0m25 0h0m35 0h0m-55 1h0m7 0h0m13 0h0m1 0h0m1 0h0m12 0h0m1 0h0m57 0h0m-112 1h0m70 0h0m10 0h0m5 0h0m33 0h0m-145 1h0m34 0h0m57 0h0m49 0h0m-106 1h0m101 0h0m-138 1h0m47 0h0m8 0h0m6 0h0m1 0h0m3 0h0m1 0h0m93 0h0m-103 1h0m4 0h0m22 0h0m56 0h0m-79 1h0m3 0h0m28 0h0m35 0h0m6 0h0m-85 1h0m80 0h0m-94 1h0m48 0h0m64 0h0m22 0h0m-127 1h0m17 0h0m4 0h0m59 0h0m8 0h0m11 0h0m-74 1h0m24 0h0m8 0h0m45 0h0m-42 1h0m34 0h0m-40 1h0m30 0h0m-68 1h0m22 0h0m2 0h0m2 0h0m62 1h0" stroke="#b81818" stroke-width="0.9" stroke-linecap="square" fill="none"/><path d="M75 322h0m-32 1h0m21 0h0m78 0h0m2 0h0m-117 1h0m53 0h0m-67 1h0m80 0h0m-33 1h0m22 1h0m15 0h0m30 0h0m23 0h0m-62 1h0m63 0h0m-19 1h0m-25 1h0m-84 1h0m43 0h0m31 0h0m23 0h0m42 0h0m-107 1h0m28 0h0m-24 1h0m4 0h0m13 0h0m62 0h0m-99 1h0m9 0h0m51 0h0m36 0h0m3 0h0m14 0h0m15 0h0m1 0h0m-132 1h0m33 0h0m19 0h0m13 0h0m61 0h0m-147 1h0m42 0h0m6 0h0m-6 1h0m2 0h0m47 0h0m6 0h0m32 0h0m3 0h0m-109 1h0m34 0h0m60 0h0m36 0h0m-123 1h0m27 0h0m17 0h0m-58 1h0m39 0h0m21 0h0m44 0h0m-86 1h0m61 0h0m4 0h0m9 0h0m-92 1h0m43 0h0m19 0h0m54 0h0m0 0h0m9 0h0m-117 1h0m50 0h0m51 0h0m20 0h0m-98 1h0m10 0h0m16 0h0m3 0h0m57 0h0m-134 1h0m29 0h0m77 0h0m40 0h0m9 0h0m-63 1h0m41 0h0m-83 1h0m24 0h0m3 0h0m0 0h0m1 0h0m8 0h0m11 0h0m23 0h0m-105 1h0m66 0h0m18 0h0m27 0h0m7 0h0m-139 1h0m62 0h0m13 0h0m13 0h0m28 0h0m-61 1h0m5 0h0m28 0h0m3 0h0m72 0h0m-161 1h0m42 0h0m12 0h0m20 0h0m42 0h0m20 0h0m-92 1h0m33 0h0m8 0h0m18 0h0m46 0h0m-90 1h0m18 0h0m4 0h0m8 0h0m6 0h0m13 0h0m28 0h0m-82 1h0m27 0h0m54 0h0m-96 1h0m11 0h0m12 0h0m75 0h0m-65 1h0m31 1h0m15 0h0m11 0h0m-103 1h0m20 0h0m26 0h0m2 0h0m9 0h0m-87 1h0m76 0h0m42 0h0m11 0h0m-44 1h0m6 0h0m53 0h0m-144 1h0m23 0h0m128 0h0m-12 1h0m-102 1h0m11 0h0m11 0h0m62 0h0m-52 1h0m49 0h0m8 0h0m13 0h0m-112 1h0m12 0h0m21 0h0m5 0h0m22 0h0m34 0h0m3 0h0m-54 1h0m7 0h0m2 0h0m43 0h0m22 0h0m12 0h0m-35 1h0m21 0h0m-129 1h0m29 0h0m68 0h0m8 0h0m39 0h0m-133 1h0m28 0h0m-27 1h0m37 0h0m17 0h0m19 0h0m22 0h0m-92 1h0m75 0h0m16 0h0m33 0h0m1 0h0m-105 1h0m4 0h0m55 0h0m58 0h0m-134 1h0m8 0h0m20 0h0m19 0h0m58 0h0m-103 1h0m22 0h0m30 0h0m29 0h0m4 0h0m-95 1h0m35 0h0m4 0h0m47 0h0m-61 1h0m24 0h0m14 0h0m15 0h0m18 0h0m46 0h0m-104 1h0m42 0h0m28 0h0m3 0h0m2 0h0m16 0h0m-126 1h0m43 0h0m56 0h0m16 0h0m-112 2h0m42 0h0m8 0h0m2 0h0m8 0h0m5 0h0m5 0h0m26 0h0m20 0h0m4 0h0m9 0h0m-119 1h0m60 0h0m49 0h0m5 0h0m-123 1h0m71 0h0m-103 1h0m43 0h0m8 0h0m21 0h0m29 0h0m16 0h0m14 0h0m-72 1h0m3 0h0m-50 1h0m12 0h0m27 0h0m13 0h0m2 0h0m40 0h0m1 0h0m9 0h0m20 0h0m-126 1h0m3 0h0m96 0h0m3 0h0m15 0h0m15 0h0m-119 1h0m75 0h0m5 0h0m24 0h0m33 0h0m-130 1h0m44 0h0m61 0h0m24 0h0m-154 1h0m29 0h0m53 0h0m3 0h0m8 0h0m5 0h0m46 0h0m-117 1h0m10 0h0m38 0h0m13 0h0m15 0h0m23 0h0m-71 1h0m47 0h0m11 0h0m29 0h0m3 0h0m4 0h0m-151 1h0m22 0h0m13 0h0m70 0h0m23 0h0m8 0h0m22 0h0m-132 1h0m3 0h0m44 0h0m19 0h0m2 0h0m48 0h0m-134 1h0m24 0h0m8 0h0m2 0h0m6 0h0m10 0h0m21 0h0m15 0h0m2 0h0m21 0h0m15 0h0m-105 1h0m27 0h0m3 0h0m22 0h0m79 0h0m-161 1h0m8 0h0m11 0h0m8 0h0m35 0h0m5 0h0m9 0h0m24 0h0m33 0h0m-101 1h0m13 0h0m42 0h0m16 0h0m39 0h0m-100 1h0m3 0h0m4 0h0m40 0h0m2 0h0m11 0h0m65 0h0m-138 1h0m15 0h0m6 0h0m71 0h0m38 0h0m-129 1h0m4 0h0m15 0h0m40 0h0m28 0h0m-97 1h0m34 0h0m27 0h0m2 0h0m7 0h0m39 0h0m-117 1h0m19 0h0m19 0h0m2 0h0m32 0h0m21 0h0m28 0h0m9 0h0m-117 1h0m6 0h0m8 0h0m51 0h0m40 0h0m15 0h0m-144 1h0m33 0h0m2 0h0m10 0h0m12 0h0m14 0h0m33 0h0m15 0h0m-90 1h0m22 0h0m5 0h0m6 0h0m18 0h0m5 0h0m5 0h0m3 0h0m1 0h0m4 0h0m-61 1h0m5 0h0m9 0h0m15 0h0m14 0h0m13 0h0m4 0h0m7 0h0m4 0h0m-77 1h0m8 0h0m9 0h0m38 0h0m13 0h0m-70 1h0m4 0h0m0 0h0m3 0h0m35 0h0m11 0h0m28 0h0m4 0h0m42 0h0m0 0h0m-111 1h0m9 0h0m38 0h0m16 0h0m7 0h0m13 0h0m-49 1h0m11 0h0m4 0h0m50 0h0m13 0h0m-147 1h0m20 0h0m31 0h0m6 0h0m22 0h0m-89 1h0m78 0h0m8 0h0m78 0h0m-134 1h0m64 0h0m13 0h0m-47 1h0m15 0h0m3 0h0m5 0h0m1 0h0m1 0h0m-52 1h0m38 0h0m6 0h0m15 0h0m9 0h0m8 0h0m-60 1h0m29 0h0m29 0h0m15 0h0m31 0h0m3 0h0m-102 1h0m19 0h0m4 0h0m35 0h0m18 0h0m-47 1h0m10 0h0m49 0h0m-113 1h0m41 0h0m10 0h0m5 0h0m4 0h0m43 0h0m20 0h0m-141 1h0m24 0h0m11 0h0m3 0h0m10 0h0m7 0h0m2 0h0m3 0h0m30 0h0m3 0h0m18 0h0m-40 1h0m8 0h0m-32 1h0m38 0h0m8 0h0m5 0h0m38 0h0m13 0h0m-155 1h0m31 0h0m50 0h0m3 0h0m7 0h0m1 0h0m3 0h0m48 0h0m-129 1h0m21 0h0m16 0h0m18 0h0m7 0h0m6 0h0m26 0h0m-79 1h0m19 0h0m16 0h0m1 0h0m8 0h0m29 0h0m9 0h0m1 0h0m-91 1h0m21 0h0m43 0h0m6 0h0m4 0h0m-100 1h0m30 0h0m32 0h0m9 0h0m8 0h0m19 0h0m2 0h0m25 0h0m-101 1h0m28 0h0m38 0h0m14 0h0m25 0h0m11 0h0m-90 1h0m18 0h0m2 0h0m24 0h0m9 0h0m54 0h0m-145 1h0m33 0h0m117 0h0m-69 1h0m0 0h0m2 0h0m14 0h0m11 0h0m23 0h0m9 0h0m12 0h0m-65 1h0m9 0h0m-29 1h0m2 0h0m11 0h0m4 0h0m10 0h0m15 0h0m1 0h0m-104 2h0m32 0h0m22 0h0m10 0h0m12 0h0m26 0h0m-65 1h0m2 0h0m19 0h0m50 0h0m-90 1h0m17 0h0m1 0h0m59 0h0m15 0h0m34 0h0m-107 1h0m96 0h0m-148 1h0m8 0h0m32 0h0m92 0h0m-9 1h0m14 0h0m-29 1h0m18 0h0m6 0h0m13 0h0m-139 1h0m58 0h0m6 0h0m1 0h0m74 0h0m-139 1h0m31 0h0m19 0h0m3 0h0m66 0h0m10 0h0m-100 1h0m37 0h0m42 0h0m-99 1h0m36 0h0m35 0h0m15 0h0m29 0h0m-122 1h0m37 0h0m17 0h0m29 0h0m22 0h0m9 0h0m-115 1h0m9 0h0m28 0h0m20 0h0m-60 1h0m56 0h0m38 0h0m12 0h0m-70 1h0m33 0h0m10 0h0m-17 1h0m-31 1h0m29 0h0m20 0h0m2 0h0m5 0h0m1 0h0m8 0h0m37 0h0m-131 1h0m100 0h0m16 0h0m-67 2h0m21 0h0m48 0h0m3 0h0m-53 1h0m-10 1h0m90 0h0m-117 1h0m2 0h0m7 0h0m5 0h0m19 0h0m13 0h0m43 0h0m6 0h0m24 0h0m-124 1h0m95 0h0m12 1h0m18 0h0m-121 1h0m11 0h0m5 0h0m5 1h0m10 0h0m31 0h0m23 1h0m-117 2h0m28 1h0m94 0h0m-84 1h0m52 0h0m31 0h0m-80 1h0m10 0h0m18 0h0m10 0h0m43 0h0m-93 1h0m-19 1h0m137 0h0m-147 1h0m33 0h0m7 0h0m59 0h0m24 0h0m-106 1h0m18 0h0m1 0h0m23 0h0m7 0h0m15 0h0m2 0h0m37 0h0m5 0h0m33 1h0m-40 1h0m15 0h0m-107 1h0m9 0h0m80 1h0m-82 1h0m119 1h0m-136 1h0m15 0h0m16 0h0m-35 1h0m11 0h0m12 0h0m65 0h0m35 0h0m-132 1h0m15 0h0m78 0h0m-46 1h0m90 0h0m6 0h0m-146 1h0m18 0h0m115 0h0m23 0h0m-161 1h0m16 0h0m1 2h0m21 0h0m1 0h0m15 0h0m29 0h0m54 0h0m4 0h0m9 0h0m-152 1h0m5 0h0m108 0h0m41 0h0m-107 1h0m80 0h0m-95 1h0m53 0h0m-68 1h0m12 0h0m16 0h0m45 0h0m52 0h0m-136 1h0m8 0h0m32 0h0m81 0h0m9 0h0m-118 1h0m50 0h0m6 0h0m-60 1h0m22 0h0m19 0h0m106 0h0m-150 1h0m5 0h0m46 1h0m42 0h0m-100 1h0m103 0h0m4 0h0m-59 1h0m34 0h0m5 0h0m42 0h0m-99 1h0m72 0h0m-75 1h0m32 0h0m101 0h0m-148 1h0m59 0h0m82 0h0m-114 1h0m80 0h0m43 0h0m-135 1h0m45 0h0m-40 1h0m5 0h0m13 0h0m23 0h0m-31 1h0m77 0h0m28 0h0m-123 1h0m44 0h0m1 0h0m57 0h0m-112 1h0m62 1h0m62 1h0m22 0h0m3 0h0m-88 1h0m3 0h0m19 0h0m27 1h0m-105 1h0m12 0h0m75 1h0m26 0h0m-100 1h0m39 0h0m24 0h0m38 0h0m-115 1h0m6 0h0m99 1h0m-9 1h0m27 0h0m9 0h0m-146 1h0m50 0h0m-22 1h0m4 0h0m28 1h0m27 0h0m-83 1h0m85 0h0m-79 2h0m32 0h0m46 0h0m27 0h0m23 0h0m8 0h0m-114 1h0m10 0h0m102 0h0m-115 1h0m-26 1h0m58 0h0m26 0h0m41 0h0m-74 1h0m40 1h0m-59 3h0m4 0h0m43 0h0m69 0h0m-103 1h0m48 0h0m45 0h0m-124 1h0m36 0h0m14 0h0m-31 1h0m37 0h0m25 0h0m-36 1h0m32 0h0m45 0h0m-97 1h0m28 0h0m41 0h0m-81 1h0m46 0h0m28 0h0m12 0h0m-44 1h0m46 0h0m-122 1h0m88 0h0m10 0h0m21 0h0m5 0h0m-32 1h0m19 0h0m-102 1h0m23 0h0m35 0h0m42 0h0m-106 1h0m75 0h0m19 0h0m4 0h0m22 0h0m11 0h0m-92 1h0m7 0h0m19 0h0m11 0h0m14 0h0m11 0h0m-42 1h0m3 0h0m16 0h0m40 0h0m9 0h0m-121 1h0m72 0h0m1 0h0m11 0h0m4 0h0m19 0h0m16 0h0m2 0h0m5 0h0m-75 1h0m7 0h0m3 0h0m35 0h0m-96 1h0m55 0h0m5 0h0m11 0h0m10 0h0m7 0h0m2 0h0m-71 1h0m52 0h0m3 0h0m57 0h0m-105 1h0m11 0h0m0 0h0m18 0h0m12 0h0m14 0h0m16 0h0m-54 1h0m20 0h0m9 0h0m7 0h0m6 0h0m-57 1h0m6 0h0m51 0h0m15 0h0m34 0h0m-69 1h0m-23 1h0m14 0h0m4 0h0m41 0h0m-35 1h0m6 0h0m2 0h0m20 0h0m-71 1h0m12 0h0m69 0h0m-52 1h0m64 0h0m-26 1h0m42 0h0m-84 1h0m37 0h0m12 0h0m-29 1h0m71 0h0" stroke="#b81818" stroke-width="1.4" stroke-linecap="square" fill="none"/>
<path d="M118 376h0m-25 1h0m59 9h0m-23 2h0m10 1h0m-24 1h0m28 1h0m-14 4h0m-2 2h0m4 3h0m-112 2h0m88 1h0m13 1h0m7 1h0m-119 3h0m121 1h0m-113 3h0m106 0h0m-102 4h0m74 2h0m-73 1h0m13 0h0m82 0h0m-97 1h0m1 0h0m91 0h0m-98 1h0m102 0h0m-98 1h0m-12 2h0m37 0h0m-22 1h0m1 0h0m-4 1h0m10 0h0m-22 2h0m9 4h0m2 1h0m85 2h0m-63 3h0m108 0h0m-124 2h0m-15 1h0m3 0h0m58 0h0m-47 1h0m-13 1h0m3 0h0m12 0h0m1 1h0m-13 2h0m11 1h0m52 0h0m-56 1h0m2 0h0m1 0h0m29 0h0m-46 1h0m34 0h0m52 1h0m-71 1h0m55 0h0m-66 1h0m2 0h0m8 0h0m6 0h0m21 0h0m29 0h0m-30 1h0m28 0h0m8 0h0m-68 1h0m5 0h0m1 1h0m-8 1h0m47 1h0m-47 1h0m8 0h0m26 1h0m9 1h0m23 0h0m-63 1h0m4 0h0m12 0h0m1 0h0m8 0h0m5 0h0m13 0h0m-44 1h0m4 0h0m2 0h0m13 0h0m2 0h0m5 0h0m-9 1h0m6 0h0m1 0h0m31 0h0m-29 1h0m14 0h0m-19 1h0m5 0h0m10 0h0m-19 1h0m18 0h0m-22 1h0m7 0h0m-5 1h0m33 0h0m-14 1h0m12 0h0m-26 1h0m9 0h0m19 0h0m15 1h0m-21 1h0m-41 1h0m54 0h0m4 0h0m-44 1h0m3 0h0m24 0h0m-17 1h0m21 0h0m3 0h0m7 0h0m-37 1h0m49 0h0m-21 1h0m7 0h0m7 1h0m-16 1h0m-35 1h0m40 0h0m-5 1h0m7 0h0m3 0h0m19 0h0m-22 2h0m10 0h0m-9 2h0m-29 1h0m34 0h0m15 0h0m-52 1h0m7 0h0m12 0h0m10 0h0m15 0h0m2 0h0m5 0h0m-62 1h0m67 0h0m-62 1h0m31 0h0m5 0h0m49 0h0m-57 1h0m2 0h0m3 0h0m21 0h0m-47 1h0m30 0h0m-55 1h0m70 0h0m-37 1h0m33 0h0m-22 1h0m7 0h0m29 0h0m20 0h0m-56 1h0m12 0h0m4 0h0m5 0h0m9 0h0m13 0h0m-23 1h0m-16 1h0m13 0h0m39 0h0m-81 1h0m42 0h0m4 0h0m0 0h0m11 0h0m7 0h0m6 0h0m10 0h0m-55 1h0m12 0h0m0 0h0m3 0h0m-11 1h0m29 0h0m10 0h0m3 0h0m3 0h0m-68 1h0m50 0h0m9 0h0m-10 1h0m-21 1h0m15 0h0m11 0h0m9 0h0m30 0h0m-67 1h0m28 0h0m3 0h0m4 0h0m5 0h0m9 0h0m-30 1h0m10 0h0m14 0h0m21 0h0m-58 1h0m5 0h0m3 0h0m11 0h0m3 0h0m0 0h0m3 0h0m2 0h0m17 0h0m-63 1h0m14 0h0m15 0h0m10 0h0m6 0h0m0 0h0m10 0h0m24 0h0m4 0h0m-80 1h0m12 0h0m33 0h0m18 0h0m5 0h0m-49 1h0m9 0h0m6 0h0m4 0h0m6 0h0m33 0h0m-28 1h0m6 0h0m23 0h0m-62 1h0m19 0h0m18 0h0m2 0h0m-55 1h0m46 0h0m8 0h0m11 0h0m-48 1h0m17 0h0m8 0h0m6 0h0m12 0h0m12 0h0m-60 1h0m40 0h0m41 0h0m-47 1h0m22 0h0m2 0h0m2 0h0m24 0h0m15 0h0m-103 1h0m10 0h0m44 0h0m15 0h0m11 0h0m-89 1h0m52 0h0m33 0h0m31 0h0m-67 1h0m12 0h0m3 0h0m24 0h0m-51 1h0m1 0h0m8 0h0m36 0h0m20 0h0m-41 1h0m1 0h0m2 0h0m34 0h0m-49 1h0m2 0h0m8 0h0m21 0h0m9 0h0m-10 1h0m3 0h0m-34 1h0m4 0h0m9 0h0m24 0h0m2 0h0m15 0h0m-70 1h0m14 0h0m15 0h0m8 0h0m15 0h0m9 0h0m4 0h0m6 0h0m2 0h0m5 0h0m-65 1h0m2 0h0m4 0h0m28 0h0m3 0h0m13 0h0m-21 1h0m6 1h0m6 0h0m20 0h0m9 0h0m-33 1h0m1 0h0m9 0h0m4 0h0m9 1h0m12 0h0m-38 1h0m-4 1h0m32 0h0m12 0h0m-7 1h0m-33 1h0m30 0h0m-67 1h0m-19 1h0m29 0h0m28 0h0m42 1h0m-3 1h0m-74 4h0m12 1h0m23 1h0m-40 1h0m7 0h0m-27 2h0m25 0h0m24 0h0m6 0h0m-15 2h0m-26 2h0m6 1h0m2 0h0m3 0h0m9 1h0m-21 1h0m39 0h0m-65 2h0m36 2h0" stroke="#f01e1e" stroke-width="1.0" stroke-linecap="square" fill="none" style="mix-blend-mode:screen"/><path d="M105 350h0m0 25h0m53 8h0m-37 4h0m24 0h0m-64 1h0m52 1h0m-32 10h0m36 1h0m-126 4h0m108 2h0m0 0h0m-105 1h0m13 1h0m-20 3h0m110 2h0m-104 1h0m108 0h0m20 0h0m-133 2h0m5 1h0m5 0h0m53 0h0m-56 1h0m3 1h0m0 1h0m2 0h0m-5 3h0m23 0h0m-8 1h0m-22 2h0m3 7h0m26 0h0m-23 2h0m-2 2h0m-4 1h0m-1 1h0m1 0h0m10 0h0m2 0h0m-3 1h0m1 1h0m57 0h0m-63 2h0m-3 1h0m4 0h0m62 0h0m2 0h0m-69 1h0m12 0h0m0 0h0m94 0h0m-92 1h0m15 0h0m-27 1h0m2 0h0m52 0h0m-50 1h0m51 0h0m-56 1h0m2 3h0m-1 1h0m-1 1h0m10 0h0m7 0h0m-15 2h0m7 0h0m5 0h0m49 0h0m-34 2h0m40 0h0m-65 1h0m14 0h0m3 0h0m9 0h0m3 0h0m13 0h0m-41 1h0m65 0h0m5 0h0m-61 1h0m15 0h0m2 0h0m4 0h0m18 0h0m-17 1h0m-34 1h0m18 2h0m37 0h0m-41 1h0m8 0h0m-5 1h0m3 0h0m12 0h0m1 0h0m10 0h0m10 0h0m-32 1h0m3 0h0m33 0h0m-52 1h0m10 0h0m4 0h0m9 0h0m-1 1h0m4 0h0m20 0h0m-35 1h0m38 1h0m-17 1h0m11 0h0m4 0h0m7 0h0m-12 3h0m21 0h0m-56 1h0m37 0h0m15 0h0m-12 1h0m-34 1h0m40 0h0m6 0h0m9 0h0m-13 1h0m-5 1h0m14 0h0m2 0h0m-57 1h0m17 0h0m8 0h0m22 0h0m-2 1h0m21 0h0m-36 1h0m16 0h0m19 0h0m-38 1h0m9 0h0m8 0h0m21 0h0m1 0h0m2 0h0m-39 1h0m3 0h0m6 0h0m33 0h0m-30 1h0m-8 1h0m34 0h0m-77 1h0m36 1h0m12 0h0m4 0h0m21 0h0m-35 1h0m13 0h0m29 0h0m-31 2h0m16 0h0m12 0h0m-37 1h0m6 0h0m28 0h0m2 0h0m-34 1h0m18 0h0m2 0h0m3 0h0m-71 1h0m59 0h0m24 0h0m-26 1h0m11 0h0m22 0h0m-41 1h0m14 0h0m22 0h0m2 0h0m7 0h0m-41 1h0m2 0h0m3 0h0m-6 1h0m10 0h0m2 0h0m46 0h0m-49 1h0m4 1h0m4 0h0m11 0h0m-45 1h0m14 0h0m10 0h0m10 0h0m23 0h0m-30 1h0m14 0h0m-16 1h0m9 0h0m5 0h0m2 0h0m-16 1h0m14 0h0m50 0h0m-59 1h0m9 0h0m1 0h0m24 0h0m4 0h0m-23 1h0m27 0h0m4 0h0m4 0h0m-12 1h0m4 0h0m5 0h0m-52 1h0m8 0h0m17 0h0m4 0h0m16 0h0m9 0h0m14 0h0m-48 1h0m3 0h0m2 0h0m18 0h0m5 0h0m-54 1h0m11 0h0m22 0h0m12 0h0m8 0h0m43 0h0m-90 1h0m8 0h0m41 0h0m8 0h0m-47 1h0m11 0h0m7 0h0m11 0h0m-9 1h0m10 0h0m2 0h0m19 0h0m30 0h0m-28 1h0m13 0h0m-35 1h0m12 0h0m29 0h0m-65 1h0m12 0h0m4 0h0m9 0h0m15 0h0m-37 1h0m4 0h0m7 0h0m0 0h0m2 0h0m30 0h0m18 0h0m-65 1h0m2 0h0m9 0h0m39 0h0m10 0h0m6 0h0m20 0h0m-86 1h0m5 0h0m1 0h0m43 0h0m2 0h0m10 0h0m-34 1h0m6 0h0m14 0h0m6 0h0m-44 2h0m6 0h0m3 0h0m0 0h0m22 0h0m2 0h0m3 0h0m1 0h0m7 0h0m-26 1h0m23 0h0m5 0h0m2 0h0m-28 1h0m23 0h0m6 0h0m10 0h0m1 0h0m9 0h0m-51 1h0m54 0h0m-42 1h0m2 1h0m19 0h0m9 1h0m4 0h0m-59 1h0m27 0h0m27 0h0m8 0h0m-34 1h0m13 0h0m-56 1h0m37 0h0m17 1h0m31 1h0m-17 2h0m3 0h0m0 0h0m16 0h0m-80 1h0m37 1h0m29 0h0m-6 2h0m18 1h0m-68 2h0m-21 2h0m22 0h0m20 0h0m30 0h0m-69 2h0m1 0h0m26 0h0m-31 5h0m30 1h0m-15 2h0m33 2h0" stroke="#f01e1e" stroke-width="1.8" stroke-linecap="square" fill="none" style="mix-blend-mode:screen"/><path d="M107 356h0m11 19h0m-2 1h0m30 0h0m-10 1h0m-41 8h0m36 2h0m-10 2h0m-40 1h0m17 6h0m35 1h0m-114 1h0m106 0h0m5 1h0m10 0h0m-30 2h0m-91 2h0m127 8h0m-132 1h0m12 0h0m-12 2h0m128 1h0m-106 6h0m-14 1h0m2 0h0m7 0h0m8 3h0m-18 1h0m18 1h0m-13 1h0m-4 1h0m-10 11h0m3 0h0m4 0h0m0 0h0m2 0h0m5 0h0m37 1h0m-38 1h0m51 0h0m7 0h0m-72 1h0m7 0h0m0 3h0m-9 1h0m14 0h0m7 0h0m-23 1h0m8 0h0m22 0h0m39 0h0m-58 2h0m45 0h0m15 0h0m-64 2h0m11 0h0m13 0h0m-7 2h0m46 0h0m-48 2h0m-20 1h0m17 0h0m21 0h0m-19 1h0m20 0h0m5 0h0m-17 1h0m-19 1h0m32 0h0m25 1h0m-54 1h0m21 0h0m15 0h0m-20 1h0m9 0h0m8 0h0m20 0h0m7 0h0m-47 1h0m11 0h0m-13 1h0m-12 1h0m3 0h0m8 0h0m5 0h0m14 0h0m-12 1h0m8 0h0m21 0h0m-51 1h0m26 0h0m-16 2h0m10 0h0m20 0h0m-20 1h0m22 0h0m-35 1h0m26 0h0m11 0h0m6 0h0m21 0h0m-21 1h0m13 1h0m-65 1h0m40 0h0m4 1h0m11 0h0m-32 1h0m17 2h0m11 0h0m1 0h0m-43 1h0m32 0h0m2 0h0m53 0h0m-40 1h0m-15 1h0m1 0h0m-1 1h0m3 0h0m4 0h0m21 0h0m-45 1h0m11 0h0m20 0h0m2 0h0m2 2h0m23 0h0m-63 1h0m16 0h0m13 0h0m5 0h0m2 0h0m3 0h0m15 0h0m-36 1h0m15 0h0m-14 2h0m4 0h0m10 0h0m-38 1h0m34 0h0m47 0h0m-56 1h0m43 0h0m-40 1h0m15 1h0m21 0h0m18 0h0m-16 1h0m3 0h0m-58 1h0m50 0h0m2 0h0m-47 1h0m33 0h0m6 0h0m14 0h0m-7 1h0m7 0h0m-13 1h0m-29 1h0m2 0h0m15 0h0m3 0h0m-23 1h0m9 0h0m3 0h0m4 0h0m19 0h0m5 0h0m8 0h0m4 0h0m-32 1h0m3 0h0m4 0h0m29 0h0m-43 1h0m8 0h0m41 0h0m25 0h0m-91 1h0m24 0h0m9 0h0m10 0h0m9 0h0m5 0h0m-29 1h0m20 0h0m12 0h0m25 0h0m-71 1h0m3 0h0m38 0h0m26 0h0m-57 1h0m4 0h0m34 0h0m-52 1h0m2 0h0m10 0h0m35 1h0m-13 1h0m6 0h0m11 0h0m2 0h0m5 0h0m6 0h0m10 0h0m-57 1h0m11 0h0m9 0h0m-22 1h0m15 0h0m19 0h0m1 0h0m7 0h0m14 0h0m1 0h0m14 0h0m-92 1h0m6 0h0m26 0h0m4 0h0m3 0h0m21 0h0m3 0h0m-32 1h0m9 0h0m9 0h0m4 0h0m19 0h0m16 0h0m8 0h0m-89 1h0m36 0h0m-16 1h0m3 0h0m3 0h0m33 0h0m7 0h0m-33 1h0m34 0h0m4 0h0m4 0h0m37 0h0m-78 1h0m1 0h0m35 1h0m1 0h0m21 1h0m-36 1h0m33 1h0m14 1h0m-29 1h0m15 0h0m16 0h0m-62 1h0m-6 1h0m17 0h0m29 0h0m5 0h0m-16 1h0m3 0h0m5 0h0m9 0h0m-44 1h0m58 0h0m9 0h0m-55 1h0m-5 1h0m33 0h0m15 0h0m-42 1h0m14 1h0m13 1h0m-10 1h0m18 0h0m8 1h0m4 0h0m2 0h0m-5 1h0m-44 1h0m45 0h0m-61 2h0m-4 1h0m26 1h0m9 0h0m32 0h0m-51 1h0m-14 1h0m14 1h0m-38 1h0m24 1h0m-29 1h0m20 0h0m15 1h0m-31 1h0m22 0h0m3 2h0m15 0h0m-48 2h0m18 1h0m10 0h0m-17 4h0" stroke="#f01e1e" stroke-width="2.6" stroke-linecap="square" fill="none" style="mix-blend-mode:screen"/>
<path d="M25 439h0m-6 3h0m-9 1h0m10 0h0m-11 1h0m3 1h0m-4 2h0m9 0h0m32 0h0m-25 2h0m-12 1h0m8 0h0m-3 1h0m-6 1h0m-1 2h0m16 0h0m-5 1h0m-11 1h0m8 0h0m8 0h0m-10 1h0m12 2h0m4 0h0m-24 1h0m15 2h0m7 2h0m13 2h0m14 2h0m-28 3h0m4 1h0m-22 11h0m45 0h0m19 1h0m2 1h0m-16 3h0m18 1h0m-25 1h0m6 0h0m3 0h0m8 0h0m-18 1h0m4 0h0m8 2h0m6 0h0m-8 2h0m4 0h0m-27 3h0m23 0h0m5 0h0m20 1h0m-4 9h0m-1 2h0m21 1h0m-10 2h0m-25 2h0m23 0h0m5 0h0m10 0h0m41 0h0m-60 1h0m3 0h0m6 0h0m12 0h0m-22 1h0m11 0h0m59 0h0m-16 4h0m13 0h0m-54 1h0m8 0h0m-32 1h0m32 0h0m31 0h0m6 0h0m-61 1h0m26 0h0m-9 1h0m58 0h0m-54 1h0m36 0h0m29 0h0m-70 1h0m11 0h0m7 3h0m4 0h0m15 0h0m22 0h0m-30 2h0m16 0h0m16 0h0m10 0h0m-43 1h0m5 1h0m1 1h0m35 1h0m-20 1h0m4 10h0m5 1h0" stroke="#e632e6" stroke-width="1.2" stroke-linecap="square" fill="none" style="mix-blend-mode:screen"/><path d="M22 432h0m5 6h0m-8 2h0m-7 5h0m4 0h0m8 0h0m-13 2h0m11 0h0m13 0h0m-23 1h0m9 1h0m-8 1h0m7 0h0m-8 2h0m6 0h0m8 0h0m-18 1h0m9 1h0m3 1h0m-6 2h0m6 0h0m34 0h0m-27 1h0m23 0h0m-16 1h0m2 0h0m19 0h0m-39 1h0m6 1h0m5 0h0m1 1h0m5 0h0m8 7h0m-5 8h0m26 6h0m9 2h0m6 1h0m-3 1h0m16 3h0m-19 2h0m9 0h0m-12 1h0m5 0h0m-3 2h0m-13 1h0m-3 1h0m18 0h0m-13 4h0m2 0h0m12 2h0m11 0h0m30 5h0m-28 1h0m9 0h0m63 0h0m-62 1h0m10 0h0m10 1h0m-24 1h0m-15 3h0m3 0h0m2 0h0m8 0h0m14 0h0m1 0h0m47 0h0m-67 2h0m10 0h0m24 0h0m-45 1h0m8 0h0m8 0h0m29 0h0m5 0h0m16 0h0m5 1h0m-53 1h0m75 0h0m-49 1h0m52 0h0m-82 2h0m66 0h0m3 1h0m-3 1h0m-30 1h0m-22 1h0m37 0h0m2 0h0m17 0h0m-20 2h0m29 0h0m-54 1h0m18 1h0m34 0h0m-44 1h0m4 0h0m-6 2h0m12 0h0m-36 2h0m39 0h0m-4 1h0m18 0h0m-28 1h0m16 0h0m4 0h0m5 0h0m-36 2h0m8 2h0m17 5h0" stroke="#e632e6" stroke-width="2.2" stroke-linecap="square" fill="none" style="mix-blend-mode:screen"/>
<path d="M98 321h0m41 0h0m5 0h0m14 0h0m-44 1h0m6 0h0m23 0h0m-10 1h0m12 0h0m5 0h0m-28 1h0m7 0h0m14 0h0m-46 1h0m16 0h0m40 0h0m1 0h0m16 0h0m-76 1h0m69 0h0m-60 1h0m8 0h0m4 0h0m2 0h0m22 0h0m1 0h0m1 0h0m26 0h0m-116 1h0m35 0h0m26 0h0m4 0h0m2 0h0m5 0h0m23 0h0m-37 1h0m4 0h0m18 0h0m8 0h0m2 0h0m9 0h0m-95 1h0m13 0h0m34 0h0m4 0h0m2 0h0m1 0h0m19 0h0m10 0h0m24 0h0m-112 1h0m23 0h0m35 0h0m7 0h0m14 0h0m3 0h0m8 0h0m24 0h0m-110 1h0m51 0h0m4 0h0m18 0h0m13 0h0m21 0h0m7 0h0m-62 1h0m24 0h0m4 0h0m7 0h0m1 0h0m13 0h0m-58 1h0m33 0h0m4 0h0m3 0h0m4 0h0m4 0h0m-48 1h0m4 0h0m4 0h0m9 0h0m10 0h0m4 0h0m1 0h0m35 0h0m-117 1h0m44 0h0m2 0h0m51 0h0m2 0h0m11 0h0m11 0h0m-79 1h0m1 0h0m59 0h0m-39 1h0m16 0h0m20 0h0m-34 1h0m2 0h0m40 0h0m-69 1h0m22 0h0m48 0h0m6 0h0m-105 1h0m57 0h0m44 0h0m3 0h0m2 0h0m7 0h0m-115 1h0m33 0h0m8 0h0m-43 1h0m31 0h0m12 0h0m14 0h0m2 0h0m-14 1h0m13 0h0m55 0h0m-109 1h0m36 0h0m48 0h0m10 0h0m2 0h0m-104 1h0m48 0h0m28 0h0m27 0h0m-93 1h0m33 0h0m7 0h0m2 0h0m23 0h0m14 0h0m-88 1h0m40 0h0m5 0h0m7 0h0m2 0h0m23 0h0m20 0h0m2 0h0m4 0h0m-95 1h0m30 0h0m9 0h0m39 0h0m2 0h0m-63 1h0m19 0h0m4 0h0m5 0h0m9 0h0m37 0h0m3 0h0m2 0h0m13 0h0m4 0h0m1 0h0m-125 1h0m45 0h0m47 0h0m-102 1h0m12 0h0m14 0h0m21 0h0m55 0h0m-77 1h0m6 0h0m2 0h0m20 0h0m7 0h0m44 0h0m-89 1h0m11 0h0m7 0h0m27 0h0m12 0h0m35 0h0m-100 1h0m94 0h0m7 0h0m17 0h0m5 0h0m-125 1h0m92 0h0m6 0h0m-90 1h0m13 0h0m15 0h0m11 0h0m53 0h0m16 0h0m-99 1h0m68 0h0m4 0h0m-84 1h0m9 0h0m45 0h0m-58 1h0m55 0h0m12 0h0m52 0h0m-125 1h0m5 0h0m1 0h0m83 0h0m-80 1h0m98 0h0m5 0h0m-114 1h0m66 0h0m0 0h0m27 0h0m-81 1h0m48 0h0m38 0h0m-91 1h0m37 0h0m12 0h0m27 0h0m49 0h0m-125 1h0m55 0h0m-60 1h0m82 0h0m28 0h0m-102 1h0m1 0h0m4 0h0m107 0h0m-117 1h0m2 0h0m8 0h0m94 0h0m4 0h0m9 0h0m9 0h0m-31 1h0m0 0h0m8 0h0m4 0h0m0 0h0m12 0h0m12 0h0m-127 1h0m106 0h0m2 0h0m15 0h0m-25 1h0m-7 1h0m16 0h0m1 0h0m2 0h0m-49 1h0m39 0h0m2 0h0m-32 1h0m42 0h0m3 0h0m-107 1h0m106 0h0m-18 1h0m6 0h0m13 0h0m4 0h0m7 0h0m-7 1h0m3 0h0m2 0h0m1 0h0m-13 2h0m0 0h0m1 0h0m10 0h0m-46 1h0m48 0h0m-29 1h0m2 0h0m24 0h0m-26 1h0m7 0h0m4 0h0m12 0h0m-18 1h0m4 0h0m17 0h0m2 0h0m-38 1h0m10 0h0m8 1h0m10 0h0m7 0h0m-57 1h0m42 0h0m0 0h0m1 2h0m-20 1h0m18 0h0m22 1h0m-73 1h0m12 0h0m4 0h0m34 0h0m2 0h0m2 0h0m-44 1h0m30 0h0m-53 1h0m6 0h0m7 0h0m39 0h0m5 0h0m3 0h0m9 0h0m-90 2h0m35 0h0m8 0h0m31 0h0m24 0h0m-87 1h0m26 0h0m5 0h0m-40 1h0m16 0h0m56 0h0m9 0h0m9 0h0m-13 1h0m18 0h0m-81 1h0m59 1h0m3 0h0m12 0h0m-77 1h0m24 0h0m37 0h0m7 0h0m23 0h0m-71 1h0m2 0h0m34 0h0m8 0h0m8 0h0m12 0h0m-26 1h0m8 0h0m23 0h0m-5 1h0m10 0h0m-108 1h0m21 0h0m44 1h0m-43 1h0m75 0h0m-78 1h0m-1 1h0m3 0h0m52 0h0m-65 1h0m9 0h0m70 0h0m1 0h0m-72 1h0m57 0h0m16 0h0m3 0h0m-103 1h0m26 0h0m71 0h0m-76 1h0m7 0h0m70 0h0m5 0h0m3 0h0m-87 1h0m96 0h0m-101 1h0m8 0h0m1 0h0m3 0h0m57 0h0m6 0h0m10 0h0m-69 1h0m2 0h0m74 0h0m-79 1h0m60 0h0m21 1h0m-60 1h0m53 0h0m8 0h0m-104 1h0m12 0h0m10 0h0m1 1h0m70 0h0m4 0h0m5 0h0m-76 1h0m10 0h0m-8 1h0m24 0h0m46 0h0m9 1h0m-69 1h0m19 0h0m40 0h0m10 0h0m-7 1h0m3 0h0m-81 1h0m4 0h0m42 0h0m30 1h0m3 0h0m-17 1h0m7 0h0m-93 1h0m20 0h0m6 0h0m61 0h0m6 0h0m17 0h0m-47 1h0m19 0h0m27 0h0m-34 1h0m14 0h0m-28 1h0m27 0h0m2 1h0m15 0h0m-3 1h0m2 0h0m4 0h0m-50 1h0m33 0h0m-22 1h0m-37 1h0m22 0h0m3 0h0m17 1h0m-19 1h0m16 0h0m14 0h0m24 0h0m-70 1h0m16 0h0m9 0h0m27 0h0m7 0h0m14 0h0m-55 1h0m7 0h0m29 0h0m8 0h0m-32 1h0m29 0h0m7 0h0m-48 1h0m16 0h0m-16 1h0m40 0h0m3 0h0m2 0h0m-7 1h0m-72 1h0m47 0h0m3 0h0m18 0h0m5 1h0m14 0h0m-47 1h0m28 0h0m3 0h0m-41 1h0m46 1h0m-24 1h0m22 0h0m15 0h0m-17 1h0m4 0h0m4 0h0m-40 1h0m34 0h0m5 0h0m-18 2h0m1 0h0m10 0h0m6 0h0m-4 1h0m2 0h0m7 0h0m1 0h0m-21 1h0m16 0h0m1 0h0m6 0h0m-83 2h0m16 0h0m25 0h0m31 0h0m0 1h0m-72 1h0m58 0h0m17 0h0m1 0h0m-84 1h0m87 0h0m-86 1h0m81 0h0m6 0h0m1 0h0m-85 2h0m3 0h0m1 0h0m51 0h0m14 0h0m3 0h0m3 0h0m-4 1h0m15 0h0m5 0h0m-22 1h0m2 0h0m3 0h0m15 0h0m2 0h0m-66 2h0m32 0h0m19 0h0m4 0h0m-90 1h0m86 0h0m2 0h0m3 0h0m0 0h0m-84 1h0m93 0h0m-67 1h0m17 0h0m38 0h0m2 0h0m3 2h0m-3 1h0m1 0h0m3 0h0m8 0h0m-25 1h0m-61 1h0m66 0h0m1 0h0m12 0h0m-16 2h0m17 1h0m5 0h0m-37 1h0m20 0h0m15 0h0m-45 1h0m14 0h0m-8 1h0m-7 1h0m2 1h0m4 0h0m8 0h0m22 0h0m-33 1h0m14 0h0m26 0h0m-41 1h0m6 1h0m4 0h0m22 0h0m6 0h0m-23 1h0m2 0h0m3 0h0m4 0h0m-19 1h0m35 0h0m2 0h0m-41 1h0m5 0h0m9 0h0m3 2h0m-13 1h0m44 5h0m-33 1h0m16 3h0m3 2h0m-4 1h0m3 4h0m5 2h0m2 0h0m-7 1h0m-4 3h0m12 0h0m-5 11h0" stroke="#46e83c" stroke-width="0.9" stroke-linecap="square" fill="none"/><path d="M89 321h0m29 0h0m12 1h0m10 0h0m7 0h0m10 0h0m2 0h0m-65 1h0m18 0h0m2 0h0m1 0h0m1 0h0m25 0h0m7 0h0m4 0h0m-38 1h0m5 0h0m24 0h0m3 0h0m9 0h0m-73 1h0m7 0h0m6 0h0m7 0h0m7 0h0m8 0h0m25 0h0m7 0h0m19 0h0m-54 1h0m2 0h0m19 0h0m2 0h0m5 0h0m-86 1h0m55 0h0m2 0h0m51 0h0m-33 1h0m5 0h0m2 0h0m7 0h0m20 0h0m-113 1h0m31 0h0m49 0h0m8 0h0m12 0h0m18 0h0m-121 1h0m36 0h0m18 0h0m33 0h0m7 0h0m0 0h0m-94 1h0m37 0h0m30 0h0m14 0h0m3 0h0m4 0h0m28 0h0m4 0h0m-83 1h0m23 0h0m2 0h0m24 0h0m4 0h0m22 0h0m-74 1h0m9 0h0m14 0h0m21 0h0m7 0h0m8 0h0m8 0h0m-105 1h0m48 0h0m18 0h0m9 0h0m6 0h0m2 0h0m11 0h0m8 0h0m3 0h0m9 0h0m7 0h0m-91 1h0m14 0h0m3 0h0m3 0h0m14 0h0m13 0h0m7 0h0m2 0h0m7 0h0m5 0h0m8 0h0m-106 1h0m38 0h0m6 0h0m4 0h0m34 0h0m1 0h0m20 0h0m-89 1h0m36 0h0m29 0h0m13 0h0m7 0h0m17 0h0m-122 1h0m48 0h0m18 0h0m45 0h0m6 0h0m-77 1h0m8 0h0m17 0h0m36 0h0m2 0h0m-62 1h0m9 0h0m61 0h0m1 0h0m2 0h0m3 0h0m-114 1h0m37 0h0m2 0h0m20 0h0m4 0h0m47 0h0m10 0h0m-110 1h0m30 0h0m73 0h0m-117 1h0m8 0h0m4 0h0m51 0h0m2 0h0m5 0h0m47 0h0m-104 1h0m31 0h0m1 0h0m12 0h0m12 0h0m1 0h0m46 0h0m11 0h0m-103 1h0m16 0h0m12 0h0m1 0h0m32 0h0m-33 1h0m6 0h0m1 0h0m24 0h0m13 0h0m-91 1h0m11 0h0m4 0h0m23 0h0m40 0h0m24 0h0m1 0h0m-60 1h0m3 0h0m3 0h0m6 0h0m25 0h0m9 0h0m17 0h0m-16 1h0m1 0h0m8 0h0m4 0h0m-111 1h0m55 0h0m1 0h0m73 0h0m-117 1h0m10 0h0m12 0h0m15 0h0m-41 1h0m2 0h0m5 0h0m9 0h0m7 0h0m65 0h0m-101 1h0m30 0h0m78 0h0m2 0h0m-37 1h0m3 0h0m47 0h0m2 0h0m6 0h0m2 0h0m1 0h0m2 0h0m0 0h0m-120 1h0m57 0h0m29 0h0m21 0h0m5 0h0m-116 1h0m43 0h0m3 0h0m16 0h0m0 0h0m50 0h0m-52 2h0m37 0h0m12 0h0m-111 1h0m57 0h0m9 0h0m18 0h0m-50 1h0m49 0h0m-81 1h0m5 0h0m73 0h0m3 0h0m-85 1h0m37 0h0m18 0h0m1 0h0m36 0h0m-13 1h0m24 0h0m-46 1h0m47 0h0m-94 1h0m25 0h0m10 0h0m-44 1h0m2 0h0m75 0h0m30 0h0m20 0h0m-127 1h0m62 0h0m16 0h0m24 0h0m1 0h0m2 0h0m3 0h0m4 0h0m13 0h0m1 0h0m-125 1h0m125 0h0m2 0h0m-92 1h0m64 0h0m8 0h0m1 0h0m-111 1h0m110 0h0m2 0h0m4 0h0m9 0h0m-42 1h0m43 0h0m-10 1h0m6 0h0m8 1h0m-30 1h0m5 0h0m8 0h0m-47 1h0m44 0h0m5 0h0m-39 1h0m28 0h0m22 0h0m-26 1h0m2 0h0m13 0h0m2 0h0m8 0h0m-9 1h0m-104 1h0m84 0h0m4 0h0m5 1h0m0 0h0m-16 1h0m2 0h0m37 0h0m-35 1h0m3 0h0m6 0h0m4 0h0m6 0h0m-17 2h0m14 0h0m-3 1h0m-11 1h0m14 0h0m0 0h0m3 0h0m9 0h0m-30 1h0m15 1h0m5 0h0m-53 1h0m53 0h0m-19 1h0m0 0h0m-32 1h0m2 0h0m44 0h0m-12 1h0m4 0h0m3 1h0m3 0h0m6 0h0m-82 1h0m21 0h0m15 0h0m45 0h0m-67 1h0m8 0h0m10 0h0m5 0h0m43 0h0m20 0h0m-69 1h0m48 0h0m-73 1h0m76 0h0m2 0h0m5 0h0m-82 1h0m26 0h0m45 0h0m12 0h0m6 0h0m-101 1h0m14 0h0m9 0h0m43 0h0m14 0h0m4 0h0m-68 1h0m3 0h0m58 0h0m4 0h0m4 0h0m-68 3h0m3 0h0m52 0h0m0 0h0m15 0h0m20 0h0m-81 1h0m1 0h0m-32 1h0m22 0h0m21 0h0m49 0h0m12 2h0m-84 1h0m2 0h0m1 0h0m6 0h0m51 0h0m-80 1h0m27 0h0m74 0h0m3 0h0m-90 1h0m4 0h0m2 0h0m82 0h0m2 0h0m-104 1h0m3 0h0m15 0h0m62 0h0m-65 1h0m1 1h0m2 1h0m0 1h0m-11 1h0m-5 1h0m94 0h0m-87 1h0m6 0h0m3 0h0m83 0h0m-92 1h0m102 0h0m-89 2h0m3 0h0m-23 1h0m20 0h0m3 0h0m2 0h0m8 0h0m42 1h0m25 0h0m-78 1h0m4 0h0m28 0h0m49 0h0m-71 1h0m74 1h0m-83 1h0m2 0h0m8 0h0m-1 1h0m36 0h0m26 0h0m-75 1h0m1 0h0m2 0h0m9 0h0m27 0h0m39 0h0m1 0h0m3 0h0m-22 1h0m1 0h0m-66 1h0m21 0h0m42 0h0m5 0h0m-67 1h0m27 0h0m15 1h0m22 0h0m5 0h0m18 0h0m-43 1h0m18 0h0m-55 1h0m36 0h0m44 0h0m-51 1h0m31 0h0m-60 1h0m57 0h0m7 0h0m18 0h0m-25 1h0m21 0h0m-19 1h0m18 0h0m-36 1h0m0 1h0m19 0h0m4 0h0m1 0h0m10 0h0m12 0h0m-54 1h0m27 0h0m5 0h0m1 0h0m5 0h0m9 0h0m5 0h0m-38 1h0m28 0h0m-68 1h0m74 0h0m-76 1h0m32 0h0m8 0h0m24 0h0m-27 1h0m4 0h0m18 0h0m0 0h0m11 0h0m1 0h0m11 0h0m-1 1h0m-49 1h0m28 0h0m23 0h0m-24 1h0m7 1h0m14 0h0m-60 1h0m28 1h0m11 0h0m2 0h0m19 0h0m-45 1h0m29 0h0m-30 1h0m25 0h0m3 1h0m19 0h0m-22 1h0m6 0h0m1 0h0m0 0h0m3 0h0m-84 1h0m67 0h0m10 0h0m-30 1h0m2 0h0m11 0h0m20 1h0m2 0h0m8 1h0m0 0h0m-97 1h0m31 0h0m56 0h0m1 1h0m-18 1h0m1 0h0m3 0h0m12 0h0m-78 1h0m26 0h0m-22 1h0m8 0h0m10 0h0m7 0h0m49 1h0m7 0h0m4 0h0m-84 1h0m4 0h0m14 0h0m1 0h0m49 0h0m18 0h0m-77 1h0m3 0h0m15 0h0m37 0h0m-62 1h0m22 0h0m65 0h0m-90 1h0m20 0h0m53 0h0m-69 1h0m77 0h0m1 0h0m-72 1h0m0 0h0m71 0h0m-2 3h0m-67 1h0m13 0h0m25 0h0m34 0h0m-36 1h0m26 0h0m7 1h0m-73 1h0m39 0h0m23 0h0m-67 1h0m60 0h0m21 0h0m-43 1h0m29 0h0m-3 1h0m17 0h0m2 0h0m-31 1h0m8 1h0m3 0h0m14 0h0m0 0h0m4 1h0m-44 2h0m39 0h0m7 0h0m-10 1h0m-17 1h0m30 0h0m3 0h0m-39 1h0m34 0h0m-22 1h0m-19 1h0m5 0h0m4 0h0m31 0h0m-57 1h0m24 0h0m19 0h0m12 0h0m5 2h0m0 2h0m-1 1h0m-17 3h0m2 1h0m0 0h0m-14 1h0m30 1h0m-17 1h0m20 0h0m-31 1h0m21 2h0m-1 1h0m-3 3h0m11 0h0m-19 1h0m6 1h0m4 0h0m13 0h0m-6 1h0m-8 2h0m5 1h0" stroke="#46e83c" stroke-width="1.5" stroke-linecap="square" fill="none"/><path d="M111 321h0m1 1h0m8 0h0m-11 1h0m12 0h0m25 0h0m8 0h0m0 0h0m-48 1h0m15 0h0m19 0h0m8 0h0m2 0h0m7 0h0m-54 1h0m5 0h0m12 0h0m22 0h0m5 0h0m0 0h0m4 0h0m1 0h0m-35 1h0m1 0h0m1 0h0m3 0h0m10 0h0m12 0h0m1 0h0m-96 1h0m51 0h0m2 0h0m3 0h0m3 0h0m29 0h0m7 0h0m25 0h0m-60 1h0m5 0h0m1 0h0m14 0h0m14 0h0m-38 1h0m7 0h0m18 0h0m3 0h0m27 0h0m1 0h0m2 0h0m-116 1h0m24 0h0m40 0h0m4 0h0m1 0h0m21 0h0m-88 1h0m21 0h0m31 0h0m4 0h0m7 0h0m1 0h0m21 0h0m5 0h0m5 0h0m2 0h0m8 0h0m9 0h0m-115 1h0m4 0h0m58 0h0m19 0h0m9 0h0m4 0h0m12 0h0m-104 1h0m45 0h0m21 0h0m12 0h0m5 0h0m6 0h0m6 0h0m19 0h0m0 0h0m-117 1h0m1 0h0m27 0h0m33 0h0m24 0h0m33 0h0m-121 1h0m7 0h0m59 0h0m22 0h0m20 0h0m10 0h0m-74 1h0m0 0h0m4 0h0m6 0h0m37 0h0m18 0h0m5 0h0m2 0h0m3 0h0m-114 1h0m46 0h0m1 0h0m0 0h0m3 0h0m10 0h0m16 0h0m5 0h0m4 0h0m28 0h0m2 0h0m2 0h0m3 0h0m-74 1h0m3 0h0m31 0h0m14 0h0m0 0h0m11 0h0m3 0h0m8 0h0m-118 1h0m4 0h0m1 0h0m10 0h0m27 0h0m4 0h0m2 0h0m1 0h0m2 0h0m28 0h0m33 0h0m7 0h0m-122 1h0m6 0h0m2 0h0m35 0h0m2 0h0m21 0h0m5 0h0m-26 1h0m2 0h0m17 0h0m47 0h0m-116 1h0m12 0h0m1 0h0m103 0h0m-107 1h0m45 0h0m15 0h0m52 0h0m7 0h0m-117 1h0m35 0h0m12 0h0m9 0h0m6 0h0m58 0h0m-120 1h0m41 0h0m-41 1h0m32 0h0m8 0h0m4 0h0m4 0h0m1 0h0m52 0h0m2 0h0m-51 1h0m38 0h0m8 0h0m-87 1h0m26 0h0m6 0h0m6 0h0m41 0h0m12 0h0m-105 1h0m12 0h0m2 0h0m25 0h0m1 0h0m26 0h0m36 0h0m-90 1h0m25 0h0m42 0h0m10 0h0m5 0h0m-46 1h0m47 0h0m13 0h0m-114 1h0m49 0h0m16 0h0m1 0h0m34 0h0m14 0h0m3 0h0m7 0h0m5 0h0m-136 1h0m20 0h0m3 0h0m41 0h0m12 0h0m56 0h0m4 0h0m1 0h0m-116 1h0m56 0h0m17 0h0m7 0h0m-89 1h0m3 0h0m37 0h0m11 0h0m2 0h0m0 0h0m8 0h0m-63 1h0m0 0h0m45 0h0m6 0h0m12 0h0m-71 1h0m10 0h0m89 0h0m0 0h0m-92 1h0m1 0h0m94 0h0m5 0h0m-108 1h0m68 0h0m2 0h0m2 0h0m19 0h0m-32 1h0m65 0h0m-115 1h0m9 0h0m27 0h0m-19 1h0m61 0h0m-20 2h0m45 0h0m24 0h0m-132 1h0m105 0h0m11 0h0m13 0h0m-89 1h0m72 0h0m4 0h0m12 0h0m-1 1h0m0 0h0m-72 1h0m64 0h0m10 0h0m-123 1h0m20 0h0m60 0h0m30 0h0m6 0h0m8 0h0m-127 1h0m3 0h0m107 0h0m3 0h0m4 0h0m-115 1h0m20 0h0m71 0h0m18 0h0m3 0h0m11 0h0m-20 1h0m5 1h0m3 0h0m2 0h0m-26 1h0m20 0h0m1 0h0m1 0h0m4 0h0m8 0h0m-23 1h0m-60 1h0m-42 1h0m115 0h0m13 0h0m-33 1h0m28 1h0m7 0h0m-5 1h0m-19 2h0m-32 1h0m37 0h0m13 0h0m-19 1h0m-10 1h0m2 0h0m-2 1h0m2 0h0m10 0h0m1 0h0m4 0h0m-10 1h0m-35 1h0m28 0h0m19 0h0m-22 1h0m14 0h0m22 1h0m1 0h0m-20 1h0m4 0h0m14 0h0m1 0h0m-32 1h0m11 0h0m-35 1h0m23 0h0m-29 1h0m32 0h0m1 0h0m15 0h0m-16 1h0m18 0h0m4 0h0m-57 1h0m40 0h0m6 0h0m-8 1h0m10 0h0m-85 1h0m77 0h0m2 0h0m18 0h0m-69 1h0m7 0h0m38 0h0m-85 1h0m85 0h0m-54 1h0m2 0h0m61 0h0m20 0h0m-90 1h0m67 0h0m1 0h0m17 0h0m4 0h0m-84 1h0m2 0h0m65 0h0m-70 1h0m1 0h0m6 0h0m52 0h0m4 0h0m2 0h0m24 0h0m-92 1h0m7 0h0m15 0h0m41 0h0m7 0h0m-69 1h0m72 0h0m10 0h0m-84 1h0m11 0h0m-25 1h0m16 0h0m9 0h0m49 0h0m3 0h0m-88 1h0m9 0h0m4 0h0m80 0h0m19 0h0m0 1h0m-101 1h0m95 0h0m-99 1h0m13 0h0m1 0h0m1 0h0m6 0h0m3 0h0m66 0h0m-93 1h0m9 0h0m2 1h0m4 0h0m3 0h0m-3 1h0m12 0h0m8 0h0m76 0h0m-91 1h0m62 0h0m-66 1h0m8 0h0m-18 1h0m19 1h0m75 0h0m3 0h0m-90 1h0m14 0h0m67 0h0m6 0h0m-66 1h0m3 1h0m1 0h0m49 0h0m-53 1h0m66 0h0m-75 1h0m81 0h0m-91 1h0m11 0h0m75 0h0m5 0h0m4 0h0m-5 1h0m-88 1h0m90 0h0m-78 1h0m0 0h0m2 0h0m11 0h0m-22 1h0m5 0h0m30 0h0m11 0h0m24 0h0m-81 1h0m15 0h0m13 1h0m-14 1h0m41 0h0m42 2h0m-15 1h0m-66 1h0m35 0h0m23 0h0m4 0h0m4 0h0m-61 1h0m25 0h0m31 0h0m24 0h0m-86 1h0m30 0h0m28 0h0m8 0h0m-30 1h0m26 1h0m2 0h0m13 0h0m5 0h0m-6 1h0m-41 1h0m-28 1h0m43 0h0m18 0h0m12 0h0m-67 1h0m37 0h0m15 0h0m12 0h0m1 0h0m-8 1h0m1 0h0m-44 1h0m37 0h0m2 0h0m10 0h0m3 0h0m5 1h0m-54 1h0m16 0h0m26 0h0m1 0h0m9 0h0m3 0h0m5 0h0m-20 1h0m14 0h0m-81 1h0m37 0h0m25 0h0m8 0h0m-1 2h0m-59 1h0m48 1h0m6 0h0m21 0h0m-38 1h0m8 0h0m1 0h0m9 2h0m5 2h0m18 0h0m-30 1h0m-39 1h0m24 0h0m8 0h0m22 0h0m-55 1h0m57 0h0m-28 1h0m5 0h0m20 0h0m-77 1h0m5 0h0m14 0h0m6 0h0m-23 1h0m3 0h0m14 1h0m49 0h0m-64 1h0m21 0h0m1 0h0m57 0h0m-85 1h0m2 0h0m70 0h0m-71 1h0m10 0h0m44 1h0m16 0h0m3 0h0m9 0h0m6 0h0m2 0h0m-22 1h0m1 0h0m20 0h0m-91 1h0m7 0h0m50 0h0m-47 1h0m20 0h0m-28 1h0m10 0h0m81 0h0m-67 2h0m46 3h0m-59 1h0m3 0h0m29 0h0m3 1h0m1 0h0m5 2h0m3 0h0m-4 1h0m-56 1h0m51 0h0m37 0h0m-27 1h0m1 0h0m2 0h0m-12 1h0m1 0h0m12 0h0m7 0h0m-17 1h0m22 0h0m12 0h0m-35 1h0m6 0h0m8 0h0m16 0h0m5 0h0m-29 1h0m2 0h0m6 0h0m2 0h0m23 0h0m4 0h0m2 0h0m-42 1h0m8 0h0m9 1h0m20 0h0m-24 1h0m4 0h0m-21 1h0m25 0h0m-4 1h0m-19 2h0m-1 1h0m44 0h0m-16 4h0m18 0h0m-19 3h0m-4 1h0m19 0h0m-17 2h0m15 0h0m-5 1h0m0 2h0m-4 3h0m6 0h0m-2 4h0m2 0h0m-4 1h0m4 2h0" stroke="#46e83c" stroke-width="2.2" stroke-linecap="square" fill="none"/>
</g>
<rect x="4" y="321" width="166.5" height="236.0" fill="none" stroke="#8a8a8a" stroke-width="1"/>
<clipPath id="cpb1"><rect x="192.1" y="319.5" width="102.3" height="237.0"/></clipPath>
<g clip-path="url(#cpb1)">
<rect x="192.1" y="319.5" width="102.3" height="237.0" fill="#0e0630"/>
<g filter="url(#bl4)"><ellipse cx="243" cy="430" rx="60" ry="125" fill="#2b22e4" opacity="0.7"/><ellipse cx="215" cy="370" rx="25" ry="45" fill="#2b22e4" opacity="0.85"/><ellipse cx="275" cy="360" rx="22" ry="40" fill="#2b22e4" opacity="0.8"/><ellipse cx="250" cy="335" rx="30" ry="15" fill="#2b22e4" opacity="0.75"/><ellipse cx="270" cy="420" rx="25" ry="30" fill="#2b22e4" opacity="0.85"/><ellipse cx="215" cy="440" rx="20" ry="25" fill="#2b22e4" opacity="0.75"/><ellipse cx="283" cy="500" rx="14" ry="30" fill="#2b22e4" opacity="0.9"/><ellipse cx="255" cy="470" rx="25" ry="15" fill="#2b22e4" opacity="0.7"/><ellipse cx="203" cy="533" rx="11" ry="11" fill="#2b22e4" opacity="0.9"/><ellipse cx="280" cy="533" rx="15" ry="11" fill="#2b22e4" opacity="0.9"/><ellipse cx="245" cy="497" rx="18" ry="15" fill="#2b22e4" opacity="0.55"/></g>
<g filter="url(#bl3)"><ellipse cx="212" cy="400" rx="14" ry="10" fill="#0a0318" opacity="0.5"/><ellipse cx="228" cy="345" rx="12" ry="8" fill="#0a0318" opacity="0.4"/><ellipse cx="260" cy="395" rx="10" ry="8" fill="#0a0318" opacity="0.3"/><ellipse cx="243" cy="551" rx="55" ry="8" fill="#0a0318" opacity="0.95"/><ellipse cx="237" cy="541" rx="22" ry="7" fill="#0a0318" opacity="0.7"/><ellipse cx="215" cy="485" rx="20" ry="22" fill="#0a0318" opacity="0.3"/><ellipse cx="235" cy="515" rx="18" ry="12" fill="#0a0318" opacity="0.35"/><ellipse cx="285" cy="470" rx="8" ry="12" fill="#0a0318" opacity="0.35"/></g>
<path d="M207 321h0m23 1h0m22 0h0m-32 1h0m16 0h0m21 0h0m-8 2h0m-47 2h0m21 1h0m70 0h0m-31 1h0m-60 1h0m-7 2h0m56 1h0m-48 1h0m87 0h0m-74 1h0m19 0h0m8 1h0m17 0h0m27 1h0m-61 1h0m-11 2h0m14 0h0m27 1h0m25 0h0m-78 1h0m35 0h0m-27 3h0m32 2h0m17 0h0m5 0h0m4 0h0m-72 1h0m23 0h0m64 0h0m-58 2h0m39 0h0m-57 1h0m15 0h0m57 0h0m-75 3h0m12 0h0m14 0h0m10 1h0m11 4h0m1 1h0m35 1h0m-65 1h0m15 0h0m25 0h0m16 1h0m-81 1h0m11 0h0m73 1h0m-40 1h0m-35 1h0m-7 1h0m35 0h0m6 0h0m13 0h0m-45 1h0m12 0h0m4 2h0m-17 1h0m76 0h0m-84 2h0m14 0h0m35 0h0m-18 2h0m6 0h0m-2 1h0m-39 1h0m30 0h0m-34 1h0m12 0h0m74 0h0m-70 2h0m3 0h0m2 0h0m26 0h0m12 0h0m-38 1h0m47 0h0m-60 1h0m17 0h0m16 0h0m4 1h0m4 0h0m44 0h0m-86 2h0m37 0h0m34 0h0m12 0h0m-87 2h0m51 0h0m44 0h0m-87 1h0m3 0h0m2 0h0m7 0h0m37 0h0m2 0h0m5 0h0m2 0h0m2 0h0m5 0h0m-50 1h0m22 0h0m11 0h0m30 0h0m5 0h0m-43 1h0m5 0h0m34 0h0m-39 1h0m32 0h0m-27 1h0m4 0h0m29 0h0m-78 1h0m17 0h0m47 0h0m-69 1h0m17 0h0m-6 1h0m39 0h0m4 0h0m23 0h0m-40 2h0m17 0h0m6 0h0m3 0h0m-60 1h0m75 0h0m-55 1h0m40 0h0m-48 1h0m13 0h0m5 0h0m6 0h0m16 0h0m-48 1h0m29 0h0m27 0h0m-51 1h0m8 0h0m-23 1h0m34 0h0m-4 1h0m8 0h0m10 0h0m-2 1h0m42 0h0m-14 1h0m-48 1h0m16 0h0m35 1h0m-65 1h0m59 0h0m5 0h0m21 0h0m2 0h0m-45 1h0m11 0h0m20 0h0m-53 1h0m39 1h0m-32 1h0m28 0h0m16 0h0m-12 1h0m-38 1h0m21 0h0m-29 1h0m37 0h0m-63 1h0m8 0h0m20 0h0m14 0h0m24 0h0m-63 1h0m10 0h0m40 0h0m16 0h0m-67 1h0m19 0h0m50 0h0m-31 1h0m20 0h0m35 0h0m-45 1h0m-18 1h0m16 0h0m46 1h0m-94 1h0m53 0h0m5 0h0m10 0h0m16 0h0m2 0h0m-24 1h0m-40 1h0m14 0h0m62 1h0m-99 1h0m59 0h0m-10 1h0m-42 1h0m43 1h0m31 0h0m-62 1h0m21 0h0m9 0h0m4 1h0m34 0h0m-7 1h0m-20 1h0m26 0h0m-82 2h0m31 0h0m56 2h0m-87 1h0m16 0h0m9 0h0m28 0h0m3 1h0m-41 1h0m15 0h0m11 0h0m31 0h0m8 0h0m-66 2h0m24 2h0m-4 1h0m36 0h0m-36 1h0m-20 1h0m43 0h0m17 0h0m-48 1h0m6 0h0m14 0h0m30 0h0m20 0h0m-12 1h0m-87 1h0m47 0h0m53 0h0m-83 1h0m27 1h0m21 0h0m19 1h0m-71 1h0m62 0h0m-44 1h0m16 1h0m2 0h0m31 0h0m-38 1h0m-34 1h0m9 0h0m14 0h0m-2 1h0m29 0h0m28 0h0m5 0h0m5 1h0m-54 1h0m44 0h0m-57 1h0m22 0h0m22 0h0m-3 1h0m-61 1h0m64 0h0m24 0h0m-96 2h0m39 0h0m26 0h0m34 0h0m-32 1h0m-69 1h0m87 1h0m5 0h0m8 0h0m-82 3h0m55 0h0m24 0h0m-82 1h0m35 0h0m-23 1h0m25 0h0m30 0h0m-24 1h0m29 1h0m-69 2h0m9 1h0m17 0h0m8 1h0m-24 1h0m13 0h0m43 0h0m6 0h0m-80 1h0m7 1h0m45 0h0m-31 2h0m36 2h0m2 0h0m12 0h0m2 0h0m-49 1h0m20 1h0m-33 1h0m5 0h0m33 0h0m-52 4h0m38 1h0m20 1h0m19 0h0m6 0h0m-9 1h0m3 0h0m-43 1h0m-31 2h0m54 1h0m21 1h0m-64 2h0m13 0h0m-2 1h0m50 0h0m-74 1h0m66 0h0m-47 2h0m71 0h0m-92 1h0m19 0h0m8 1h0m67 0h0m-5 2h0m-31 2h0m24 0h0m-42 1h0m12 1h0m-34 1h0m58 1h0m-22 2h0m7 0h0m25 0h0m-64 1h0m42 2h0m-22 1h0m-33 2h0m9 0h0m68 0h0m-44 1h0m17 1h0m-13 1h0m-34 2h0m82 1h0m-31 3h0m22 0h0m-16 1h0m-62 1h0m5 1h0m-15 2h0m21 3h0m-17 1h0m4 1h0m9 0h0m52 2h0m-15 2h0m4 1h0m-2 3h0m17 1h0" stroke="#4040ff" stroke-width="1.2" stroke-linecap="square" fill="none"/><path d="M245 320h0m18 0h0m-33 1h0m55 0h0m-47 1h0m18 1h0m-56 1h0m57 1h0m-18 1h0m-13 1h0m-25 1h0m9 3h0m21 0h0m49 0h0m-65 2h0m60 0h0m-28 1h0m18 0h0m-39 1h0m15 0h0m6 0h0m35 1h0m-20 1h0m-62 2h0m42 1h0m16 0h0m-8 1h0m-4 1h0m-26 1h0m51 0h0m-32 1h0m29 1h0m-10 1h0m6 0h0m-29 1h0m-23 1h0m15 0h0m-31 1h0m14 1h0m7 0h0m31 0h0m32 0h0m-41 1h0m-21 1h0m38 0h0m-20 1h0m8 0h0m-17 1h0m63 0h0m-10 1h0m-58 1h0m15 0h0m26 1h0m-3 1h0m7 0h0m-68 1h0m10 0h0m62 2h0m-66 1h0m67 0h0m-79 1h0m15 0h0m30 0h0m38 0h0m-72 1h0m46 0h0m14 0h0m9 0h0m-21 1h0m9 0h0m-15 1h0m10 1h0m2 0h0m12 0h0m-15 1h0m8 0h0m1 0h0m-54 1h0m22 0h0m-4 1h0m2 1h0m21 0h0m-18 1h0m39 0h0m-63 1h0m28 0h0m50 0h0m-60 1h0m16 0h0m2 0h0m-2 1h0m39 0h0m-26 1h0m11 0h0m-42 2h0m-9 1h0m13 0h0m2 0h0m12 0h0m51 0h0m-99 1h0m28 0h0m32 0h0m24 2h0m12 0h0m-30 1h0m-15 1h0m-34 1h0m28 1h0m-12 1h0m5 0h0m3 0h0m21 0h0m4 0h0m8 0h0m10 0h0m-36 1h0m29 0h0m5 0h0m-45 1h0m40 0h0m-72 1h0m33 0h0m-38 1h0m13 0h0m57 0h0m-50 1h0m3 1h0m44 0h0m-51 1h0m51 0h0m-38 1h0m18 0h0m52 0h0m-76 1h0m46 0h0m16 0h0m-78 1h0m43 0h0m26 0h0m-29 2h0m-23 1h0m8 0h0m61 0h0m-35 2h0m3 0h0m32 0h0m-86 1h0m57 0h0m-50 1h0m18 0h0m39 0h0m-12 1h0m4 1h0m-52 1h0m12 0h0m23 0h0m9 0h0m4 0h0m-51 1h0m38 0h0m41 0h0m-81 1h0m28 0h0m15 0h0m30 0h0m12 0h0m-67 1h0m59 0h0m-39 1h0m17 0h0m-6 2h0m41 0h0m-85 1h0m3 2h0m42 0h0m17 0h0m19 0h0m-53 2h0m25 0h0m-8 1h0m-40 1h0m29 0h0m21 0h0m6 0h0m-36 1h0m15 0h0m12 0h0m-55 1h0m72 1h0m-75 2h0m47 0h0m-43 1h0m27 0h0m19 0h0m21 0h0m-45 1h0m12 0h0m16 0h0m8 0h0m-63 1h0m21 0h0m17 0h0m31 0h0m6 0h0m-52 2h0m26 0h0m14 0h0m-28 1h0m-23 1h0m8 0h0m6 0h0m-27 1h0m13 0h0m18 1h0m44 0h0m20 0h0m-9 1h0m-71 1h0m51 0h0m-71 1h0m59 0h0m3 0h0m40 1h0m-46 1h0m-11 1h0m16 0h0m18 0h0m14 0h0m-77 1h0m11 0h0m6 0h0m20 0h0m46 1h0m-75 1h0m33 0h0m15 0h0m9 0h0m-39 1h0m18 0h0m-14 1h0m16 1h0m4 2h0m4 0h0m2 0h0m-30 2h0m-11 1h0m15 1h0m14 0h0m-41 3h0m35 0h0m29 0h0m-81 1h0m23 0h0m0 2h0m21 0h0m11 0h0m5 0h0m-13 1h0m11 0h0m7 1h0m-55 1h0m10 1h0m31 0h0m10 0h0m19 0h0m-74 2h0m2 0h0m46 0h0m-40 1h0m31 0h0m30 0h0m-14 1h0m-34 1h0m8 0h0m-31 1h0m32 0h0m4 0h0m-5 4h0m3 0h0m22 1h0m3 0h0m-60 1h0m59 0h0m4 0h0m1 1h0m-69 1h0m85 1h0m-16 1h0m-56 2h0m21 0h0m4 1h0m58 0h0m-82 1h0m63 0h0m-75 1h0m26 1h0m17 0h0m46 0h0m-76 1h0m22 0h0m11 0h0m14 0h0m15 1h0m12 0h0m-2 1h0m6 0h0m-25 1h0m21 0h0m-74 1h0m41 0h0m-47 2h0m7 2h0m31 0h0m9 0h0m10 0h0m-64 1h0m21 0h0m-7 1h0m16 0h0m-11 1h0m5 2h0m15 0h0m15 0h0m-31 1h0m40 1h0m-20 1h0m-37 3h0m20 0h0m59 0h0m-54 1h0m12 0h0m4 0h0m2 1h0m-27 4h0m53 0h0m-78 1h0m47 2h0m1 0h0m-14 1h0m17 0h0m-41 2h0m38 1h0m-45 3h0m83 0h0m-70 1h0m64 0h0m-57 1h0m6 0h0m-15 1h0m62 1h0m-43 1h0m18 1h0m-21 1h0m42 1h0m-66 1h0m48 0h0m-10 1h0m36 2h0m-33 2h0m6 1h0m14 5h0m18 0h0m-57 4h0m-10 1h0m15 2h0m63 4h0m-74 5h0m8 1h0" stroke="#4040ff" stroke-width="2.0" stroke-linecap="square" fill="none"/>
<path d="M218 320h0m10 0h0m32 0h0m7 0h0m-35 1h0m-12 1h0m33 0h0m-43 1h0m27 0h0m20 0h0m-51 1h0m11 0h0m4 0h0m44 0h0m3 0h0m18 0h0m4 0h0m-38 1h0m23 0h0m-3 1h0m18 0h0m-13 1h0m-63 1h0m29 0h0m44 0h0m-80 2h0m21 0h0m13 0h0m11 0h0m-30 1h0m43 0h0m4 0h0m-68 1h0m51 0h0m-54 1h0m51 0h0m24 0h0m-66 1h0m8 1h0m76 0h0m-98 1h0m8 1h0m16 0h0m35 1h0m16 1h0m-72 1h0m41 0h0m13 0h0m4 0h0m-27 1h0m6 0h0m9 0h0m26 0h0m-9 1h0m1 0h0m-59 1h0m23 0h0m-11 1h0m26 0h0m2 0h0m3 0h0m6 0h0m30 0h0m-63 1h0m-22 2h0m5 0h0m48 0h0m-39 1h0m77 0h0m-78 1h0m-3 1h0m39 1h0m40 0h0m-58 1h0m59 0h0m-44 1h0m27 1h0m6 0h0m-22 1h0m22 0h0m-80 1h0m83 0h0m12 0h0m-52 1h0m41 0h0m15 1h0m-76 1h0m5 0h0m30 0h0m9 0h0m-48 1h0m36 0h0m19 0h0m-20 1h0m40 0h0m-73 1h0m70 0h0m-92 1h0m24 0h0m7 0h0m35 0h0m-7 1h0m7 0h0m3 0h0m-44 1h0m45 1h0m22 0h0m-77 1h0m27 0h0m52 0h0m-52 1h0m6 0h0m2 0h0m5 0h0m17 0h0m-40 1h0m10 1h0m29 0h0m21 0h0m-80 1h0m25 0h0m-35 1h0m86 0h0m-79 1h0m27 0h0m20 0h0m29 0h0m5 1h0m-82 1h0m35 1h0m9 0h0m1 0h0m-36 1h0m6 0h0m2 0h0m18 0h0m3 0h0m4 0h0m26 0h0m-45 1h0m5 0h0m8 1h0m-40 1h0m28 0h0m3 0h0m40 2h0m-72 1h0m4 0h0m30 0h0m31 0h0m12 0h0m-25 2h0m12 0h0m-50 1h0m57 0h0m14 0h0m7 0h0m-74 1h0m5 0h0m19 2h0m52 0h0m-67 1h0m29 0h0m-47 1h0m39 0h0m33 0h0m-61 1h0m17 0h0m52 0h0m-76 2h0m0 0h0m11 0h0m45 0h0m-65 1h0m52 0h0m2 0h0m-58 1h0m34 0h0m45 0h0m1 0h0m19 0h0m-97 1h0m60 0h0m-62 1h0m68 0h0m8 0h0m4 0h0m-46 1h0m48 1h0m-60 1h0m35 0h0m42 0h0m-98 1h0m86 0h0m-79 1h0m37 0h0m44 0h0m-30 1h0m19 0h0m-17 2h0m-34 1h0m29 0h0m9 0h0m6 0h0m28 0h0m-89 1h0m14 0h0m-25 1h0m8 0h0m47 0h0m12 0h0m-54 1h0m4 0h0m5 0h0m9 0h0m69 0h0m-91 1h0m34 0h0m30 0h0m-75 1h0m43 0h0m15 0h0m-50 1h0m8 0h0m31 0h0m38 0h0m-79 1h0m22 0h0m23 0h0m-37 1h0m-4 1h0m15 0h0m27 0h0m1 0h0m-1 1h0m-45 1h0m80 0h0m-76 1h0m15 0h0m39 0h0m21 0h0m4 0h0m-86 1h0m49 0h0m13 0h0m29 0h0m-88 1h0m17 0h0m-20 1h0m5 0h0m73 1h0m-80 1h0m36 0h0m13 0h0m6 0h0m39 0h0m4 1h0m-89 1h0m9 0h0m3 0h0m79 0h0m-28 1h0m16 1h0m-56 1h0m24 0h0m36 0h0m-76 1h0m58 0h0m-55 1h0m52 0h0m16 0h0m7 0h0m6 0h0m-98 2h0m2 1h0m-6 1h0m19 0h0m44 0h0m-33 1h0m18 0h0m22 0h0m-67 1h0m21 0h0m33 0h0m30 0h0m2 0h0m-81 1h0m75 0h0m-11 1h0m24 0h0m-67 1h0m10 1h0m28 0h0m-5 1h0m25 0h0m-39 2h0m42 0h0m6 0h0m-79 1h0m2 0h0m-4 1h0m47 0h0m10 0h0m20 0h0m-73 1h0m19 0h0m30 0h0m-11 1h0m36 0h0m-70 1h0m4 0h0m-24 1h0m43 0h0m38 0h0m-62 1h0m65 0h0m-70 1h0m6 0h0m42 0h0m3 1h0m11 1h0m11 0h0m-70 1h0m37 1h0m25 1h0m-80 1h0m45 0h0m28 0h0m26 0h0m-48 1h0m9 0h0m20 0h0m15 0h0m3 0h0m-45 1h0m-49 1h0m17 0h0m21 0h0m54 0h0m-62 2h0m34 1h0m15 0h0m6 0h0m10 0h0m-89 1h0m17 1h0m2 0h0m14 0h0m-38 1h0m28 0h0m8 0h0m58 0h0m-64 1h0m7 0h0m-23 1h0m24 0h0m-25 1h0m39 0h0m-6 2h0m43 0h0m2 0h0m-68 1h0m19 0h0m43 0h0m-76 1h0m7 0h0m44 0h0m6 0h0m-54 1h0m5 0h0m35 0h0m-49 1h0m16 0h0m4 0h0m37 1h0m28 0h0m-40 1h0m-48 1h0m63 0h0m25 0h0m-68 1h0m27 0h0m-45 2h0m25 0h0m27 0h0m9 0h0m24 0h0m4 0h0m-85 1h0m24 0h0m38 0h0m4 0h0m23 0h0m-100 1h0m43 0h0m1 0h0m-43 1h0m72 0h0m23 0h0m-69 1h0m37 0h0m34 0h0m-62 1h0m61 1h0m-80 1h0m-18 1h0m33 0h0m26 0h0m4 0h0m-41 1h0m2 0h0m28 0h0m-4 1h0m-32 1h0m55 0h0m4 0h0m-56 1h0m16 0h0m1 0h0m4 0h0m-17 1h0m-2 1h0m8 0h0m15 1h0m11 0h0m35 0h0m-24 1h0m18 0h0m5 0h0m-54 1h0m5 0h0m11 0h0m26 0h0m-76 1h0m19 0h0m-12 1h0m16 0h0m17 0h0m6 0h0m9 0h0m16 0h0m-39 1h0m16 0h0m3 0h0m30 0h0m-75 1h0m80 0h0m-63 2h0m25 0h0m7 0h0m34 0h0m8 0h0m-91 1h0m21 0h0m0 1h0m42 0h0m-55 1h0m35 0h0m-6 1h0m17 0h0m3 0h0m30 0h0m-46 1h0m28 0h0m14 0h0m-86 1h0m4 0h0m4 0h0m58 0h0m0 0h0m21 0h0m-25 1h0m34 0h0m1 1h0m-75 1h0m27 0h0m17 0h0m9 0h0m-72 1h0m46 0h0m-38 1h0m22 0h0m-6 1h0m12 0h0m4 0h0m49 1h0m-38 1h0m26 0h0m-69 1h0m19 0h0m-24 1h0m6 0h0m29 0h0m33 0h0m-56 1h0m22 0h0m14 0h0m12 0h0m-59 1h0m29 0h0m5 0h0m16 0h0m14 0h0m-50 1h0m42 0h0m13 0h0m-70 1h0m4 0h0m23 0h0m27 0h0m-46 1h0m22 0h0m3 0h0m26 0h0m-39 1h0m14 0h0m16 0h0m27 0h0m14 0h0m-64 1h0m-30 1h0m9 0h0m20 0h0m49 0h0m3 0h0m4 0h0m-75 1h0m8 0h0m37 1h0m26 0h0m-78 1h0m33 0h0m41 0h0m10 0h0m-61 1h0m35 1h0m-37 1h0m-9 1h0m5 0h0m-16 2h0m21 0h0m29 0h0m20 0h0m8 0h0m8 0h0m-94 1h0m26 0h0m29 0h0m5 0h0m24 0h0m-67 1h0m9 0h0m37 0h0m3 1h0m6 0h0m4 0h0m15 0h0m-95 1h0m34 1h0m18 0h0m7 0h0m-35 2h0m30 0h0m13 0h0m29 0h0m-78 1h0m24 0h0m5 0h0m-28 1h0m68 0h0m-79 1h0m44 0h0m13 0h0m2 0h0m15 0h0m-21 1h0m-21 1h0m46 0h0m-62 1h0m3 1h0m6 0h0m37 0h0m-27 1h0m55 0h0m-13 1h0m-78 1h0m39 0h0m27 0h0m-72 1h0m19 0h0m35 0h0m3 0h0" stroke="#000" stroke-width="1.0" stroke-linecap="square" fill="none" opacity="0.45"/><path d="M197 321h0m16 1h0m21 0h0m10 0h0m11 0h0m32 0h0m-22 1h0m-67 1h0m4 0h0m14 0h0m7 0h0m54 0h0m-35 1h0m19 0h0m-16 1h0m1 0h0m11 1h0m-45 1h0m56 1h0m21 0h0m-92 2h0m39 1h0m6 1h0m1 0h0m-35 1h0m9 0h0m72 0h0m-19 1h0m4 0h0m-79 1h0m44 1h0m24 0h0m-60 1h0m55 0h0m-51 1h0m68 0h0m-82 1h0m69 0h0m26 0h0m-78 1h0m33 0h0m15 0h0m32 0h0m-75 2h0m7 0h0m18 0h0m12 0h0m15 0h0m-53 3h0m9 0h0m25 0h0m8 0h0m4 0h0m-57 1h0m28 0h0m25 0h0m7 0h0m27 0h0m-94 1h0m38 0h0m2 0h0m13 0h0m-14 1h0m-39 3h0m68 0h0m-41 1h0m15 0h0m17 0h0m18 1h0m-58 1h0m8 0h0m14 0h0m50 0h0m-41 1h0m10 0h0m-54 1h0m57 0h0m0 0h0m-14 1h0m30 0h0m-27 1h0m35 0h0m-80 1h0m37 0h0m6 0h0m9 0h0m-39 1h0m42 0h0m12 0h0m14 0h0m7 0h0m1 0h0m-97 1h0m49 0h0m50 0h0m-86 1h0m5 0h0m37 0h0m32 0h0m-13 1h0m12 0h0m-65 1h0m10 0h0m46 0h0m6 0h0m5 0h0m12 0h0m-101 1h0m8 0h0m4 0h0m52 0h0m29 0h0m-93 2h0m58 0h0m6 0h0m-39 3h0m14 0h0m-39 1h0m5 0h0m71 1h0m2 0h0m-73 1h0m15 0h0m5 0h0m61 0h0m-38 1h0m14 0h0m4 0h0m-9 1h0m-25 1h0m9 0h0m17 0h0m21 0h0m-74 1h0m50 0h0m18 0h0m-75 2h0m22 0h0m18 0h0m36 0h0m4 0h0m-68 1h0m4 0h0m13 0h0m0 1h0m64 0h0m-81 1h0m6 0h0m9 0h0m32 0h0m24 0h0m-50 1h0m14 0h0m43 0h0m-9 1h0m-13 1h0m4 0h0m12 0h0m10 0h0m-62 1h0m26 0h0m39 0h0m-72 2h0m41 0h0m-37 1h0m19 0h0m43 3h0m-84 1h0m3 0h0m14 0h0m64 0h0m-69 1h0m26 0h0m21 0h0m31 0h0m-84 1h0m17 0h0m48 0h0m-20 2h0m45 0h0m-86 1h0m6 0h0m25 0h0m9 0h0m-25 1h0m18 0h0m3 0h0m14 0h0m-34 1h0m-11 1h0m1 0h0m77 0h0m-93 1h0m19 0h0m10 0h0m3 0h0m1 0h0m-35 1h0m56 0h0m-32 1h0m7 0h0m2 1h0m56 0h0m-26 2h0m10 0h0m-55 1h0m10 0h0m20 0h0m11 0h0m-48 1h0m21 0h0m37 0h0m24 0h0m-92 1h0m16 0h0m41 0h0m5 0h0m12 0h0m-57 1h0m46 0h0m-15 1h0m31 0h0m-52 1h0m45 0h0m22 0h0m-44 1h0m38 0h0m-87 1h0m33 0h0m44 0h0m-79 1h0m7 1h0m11 0h0m-20 1h0m78 0h0m9 0h0m-57 1h0m66 0h0m-41 1h0m21 0h0m17 0h0m5 0h0m-71 1h0m62 0h0m10 0h0m-84 1h0m8 2h0m18 0h0m46 0h0m-74 1h0m52 0h0m9 0h0m-73 1h0m44 0h0m35 0h0m4 0h0m16 0h0m-90 1h0m61 0h0m-57 1h0m33 0h0m14 0h0m-28 1h0m9 0h0m-15 1h0m4 1h0m18 1h0m17 0h0m12 0h0m7 0h0m-9 1h0m-69 1h0m77 0h0m-56 1h0m17 0h0m15 0h0m22 0h0m-80 1h0m15 0h0m22 0h0m56 0h0m-57 1h0m17 0h0m-31 1h0m13 0h0m40 1h0m-52 1h0m5 0h0m55 1h0m-45 1h0m36 0h0m6 0h0m16 0h0m-69 1h0m46 0h0m25 0h0m-80 1h0m33 0h0m31 0h0m-30 1h0m-51 1h0m22 0h0m44 0h0m23 0h0m1 1h0m5 0h0m-49 1h0m-35 1h0m3 0h0m14 0h0m9 0h0m20 0h0m-31 2h0m23 0h0m35 0h0m3 0h0m-88 1h0m88 1h0m-84 1h0m31 0h0m11 1h0m8 0h0m4 0h0m26 0h0m-87 1h0m24 0h0m6 0h0m48 0h0m-59 1h0m8 1h0m39 0h0m-67 1h0m22 0h0m19 0h0m-27 1h0m55 0h0m-53 1h0m19 0h0m25 0h0m6 0h0m-24 1h0m37 0h0m-65 1h0m48 0h0m35 0h0m2 0h0m-2 1h0m-79 1h0m43 0h0m25 0h0m-10 1h0m-71 2h0m21 0h0m6 0h0m9 0h0m9 0h0m13 0h0m-60 1h0m50 0h0m3 0h0m18 1h0m16 0h0m-58 1h0m58 0h0m9 0h0m-81 1h0m38 0h0m10 0h0m1 0h0m16 0h0m-36 1h0m29 0h0m25 0h0m-80 1h0m66 0h0m-86 1h0m23 0h0m4 0h0m59 0h0m-64 1h0m-12 1h0m18 0h0m13 0h0m-39 1h0m94 1h0m-77 1h0m47 0h0m5 0h0m-34 1h0m17 1h0m26 0h0m-29 1h0m26 0h0m-66 1h0m36 1h0m-8 1h0m7 0h0m-17 1h0m17 0h0m-15 1h0m62 0h0m-91 1h0m16 0h0m39 0h0m8 0h0m-46 1h0m31 1h0m19 0h0m21 1h0m10 0h0m-75 2h0m62 0h0m-82 1h0m62 0h0m20 0h0m-73 1h0m64 0h0m-76 1h0m18 0h0m36 0h0m-19 3h0m24 0h0m-30 1h0m34 1h0m30 0h0m-74 1h0m57 0h0m-24 1h0m27 0h0m-79 1h0m41 0h0m21 0h0m3 0h0m21 0h0m-65 1h0m2 0h0m-19 1h0m5 0h0m5 1h0m12 0h0m60 0h0m-86 1h0m1 0h0m77 0h0m1 1h0m16 0h0m-69 1h0m-4 1h0m14 0h0m6 0h0m23 0h0m-66 1h0m14 0h0m20 0h0m28 0h0m-55 1h0m29 0h0m31 0h0m9 0h0m-73 1h0m19 0h0m15 0h0m2 1h0m-31 1h0m66 0h0m10 0h0m-85 3h0m82 0h0m10 0h0m-77 2h0m7 1h0m2 0h0m15 0h0m-17 2h0m75 0h0m-68 1h0m45 0h0m21 1h0m-94 1h0m73 0h0m22 0h0m-17 1h0m-79 1h0m9 0h0m17 0h0m5 0h0m14 1h0m-45 1h0m7 0h0m35 0h0m27 1h0m-22 1h0m40 0h0m-86 1h0m11 0h0m3 1h0m60 0h0m4 0h0m1 0h0m13 0h0m-80 1h0m7 0h0m15 1h0m20 0h0m-2 1h0m-15 1h0m14 1h0m45 0h0m-60 1h0m25 1h0m2 0h0m-49 2h0m-1 1h0m-14 1h0m37 0h0m31 0h0m32 0h0m-74 1h0m1 0h0m25 1h0m-48 1h0m1 0h0m4 0h0m40 0h0m38 0h0m6 0h0m8 0h0m-81 1h0m9 0h0m49 0h0m1 1h0m-51 1h0m65 0h0m-90 1h0m2 0h0m21 1h0m1 0h0m40 0h0m3 0h0m-52 1h0" stroke="#000" stroke-width="1.5" stroke-linecap="square" fill="none" opacity="0.45"/>
<path d="M203 322h0m46 15h0m-49 3h0m69 4h0m-41 1h0m-20 5h0m74 0h0m-73 4h0m-16 6h0m62 2h0m-2 6h0m-4 7h0m-23 1h0m6 0h0m13 23h0m20 22h0m-72 4h0m10 0h0m59 6h0m-5 6h0m-3 3h0m23 0h0m-67 2h0m63 2h0m-52 2h0m31 1h0m9 2h0m6 0h0m11 5h0m-62 2h0m4 0h0m18 4h0m-31 1h0m66 0h0m-29 1h0m38 0h0m-1 1h0m-36 1h0m34 0h0m-66 1h0m2 0h0m-21 1h0m21 0h0m43 0h0m-62 1h0m12 0h0m5 0h0m3 0h0m56 0h0m7 0h0m-43 1h0m40 0h0m-69 1h0m16 0h0m37 0h0m32 0h0m-71 1h0m-3 1h0m21 0h0m18 0h0m7 0h0m-13 2h0m-44 1h0m57 0h0m12 0h0m-68 1h0m7 0h0m14 0h0m31 0h0m-44 1h0m11 0h0m24 1h0m11 0h0m7 0h0m4 0h0m-4 1h0m-53 1h0m15 1h0m4 0h0m35 1h0m-52 1h0m10 0h0m41 0h0m19 0h0m4 0h0m-95 1h0m14 0h0m37 0h0m13 0h0m-53 1h0m9 0h0m6 0h0m31 0h0m-31 1h0m1 0h0m37 0h0m-67 1h0m13 0h0m-14 1h0m6 0h0m5 0h0m32 0h0m25 1h0m7 0h0m-75 1h0m3 0h0m4 1h0m48 0h0m45 0h0m-83 1h0m7 1h0m-12 1h0m-1 1h0m29 1h0m-40 1h0m14 0h0m5 0h0m19 0h0m18 0h0m-8 1h0m36 0h0m-72 1h0m19 1h0m-16 1h0m49 0h0m27 0h0m6 0h0m-85 1h0m47 0h0m-31 1h0m50 0h0m-53 1h0m50 0h0m-5 1h0m31 0h0m-92 1h0m20 0h0m21 0h0m34 0h0m-74 1h0m-3 1h0m14 0h0m46 0h0m15 0h0m-72 1h0m0 0h0m7 0h0m4 0h0m24 0h0m13 0h0m36 0h0m-82 1h0m-9 1h0m65 0h0m8 0h0m11 0h0m-45 1h0m37 0h0m10 0h0m-74 1h0m11 0h0m26 0h0m5 0h0m-9 1h0m-8 1h0m25 0h0m-17 1h0m-38 1h0m37 0h0m1 0h0m3 0h0m-44 1h0m27 0h0m6 0h0m36 0h0m-61 1h0m26 0h0m7 0h0m3 0h0m3 0h0m6 1h0m3 0h0m11 0h0m-55 1h0m23 0h0m22 0h0m2 0h0m25 0h0m-75 1h0m12 0h0m1 0h0m8 0h0m2 0h0m8 0h0m-21 1h0m22 0h0m4 0h0m-41 1h0m11 0h0m-8 1h0m-15 1h0m66 0h0m-62 1h0m-3 1h0m54 1h0m10 0h0m24 2h0m-25 1h0m17 0h0m-21 1h0m-2 1h0m-8 2h0m-12 1h0m-29 2h0m14 0h0m-4 2h0m82 1h0m-65 1h0m-3 2h0m28 0h0m5 0h0m2 1h0m-31 1h0m9 0h0m28 1h0m-13 2h0m5 1h0m8 1h0m-3 1h0m14 0h0m-44 1h0m3 0h0m26 0h0m-52 1h0m13 0h0m20 1h0m31 0h0m-66 1h0m40 0h0m39 1h0" stroke="#e82020" stroke-width="1.0" stroke-linecap="square" fill="none"/><path d="M209 330h0m78 6h0m-33 4h0m10 0h0m19 9h0m-25 1h0m-46 1h0m52 7h0m-21 4h0m-14 10h0m6 2h0m9 1h0m16 1h0m-44 2h0m29 1h0m41 5h0m-39 4h0m-29 10h0m27 0h0m-25 3h0m-17 9h0m40 0h0m3 2h0m12 2h0m9 6h0m25 0h0m-87 5h0m55 6h0m-55 3h0m0 3h0m57 6h0m-46 1h0m55 0h0m-6 1h0m20 0h0m-72 2h0m74 1h0m-59 2h0m25 0h0m-46 3h0m42 0h0m25 1h0m17 0h0m-30 1h0m21 0h0m-7 1h0m4 1h0m-87 2h0m32 0h0m37 0h0m-39 2h0m5 0h0m52 2h0m-62 1h0m4 0h0m62 1h0m-82 1h0m46 0h0m-48 2h0m10 0h0m37 0h0m11 0h0m-33 1h0m23 0h0m-30 1h0m15 0h0m37 1h0m6 0h0m12 0h0m-50 2h0m22 0h0m-4 1h0m-39 1h0m28 0h0m-33 1h0m13 0h0m-3 1h0m0 0h0m23 0h0m36 0h0m-71 1h0m21 0h0m-28 1h0m13 0h0m6 1h0m18 0h0m16 1h0m-54 1h0m12 0h0m1 0h0m10 1h0m44 0h0m-10 2h0m-39 1h0m36 0h0m16 0h0m-64 1h0m34 1h0m2 0h0m38 0h0m-71 2h0m15 0h0m42 0h0m15 0h0m-89 1h0m39 0h0m-29 1h0m22 0h0m5 1h0m18 1h0m2 0h0m36 0h0m-80 1h0m22 2h0m4 0h0m62 1h0m-101 1h0m46 0h0m17 0h0m11 0h0m-35 1h0m4 0h0m19 0h0m-63 1h0m17 0h0m35 0h0m23 0h0m-44 1h0m3 0h0m18 0h0m3 0h0m17 0h0m-30 1h0m-5 1h0m6 0h0m6 0h0m10 0h0m-56 2h0m29 0h0m2 1h0m26 0h0m-56 1h0m25 0h0m18 0h0m4 0h0m-36 1h0m2 0h0m2 0h0m11 0h0m4 0h0m10 0h0m52 0h0m-90 1h0m48 0h0m3 0h0m15 0h0m-46 1h0m9 0h0m8 0h0m8 0h0m-36 1h0m46 0h0m-29 2h0m11 1h0m2 0h0m1 0h0m10 0h0m3 0h0m13 0h0m-58 1h0m32 0h0m8 0h0m-28 1h0m34 0h0m7 0h0m14 0h0m-49 1h0m3 0h0m12 0h0m6 0h0m-29 1h0m43 0h0m-56 1h0m5 0h0m36 0h0m3 0h0m14 0h0m26 0h0m-40 1h0m21 0h0m-31 1h0m17 0h0m35 0h0m-63 1h0m8 0h0m24 0h0m1 0h0m-61 1h0m20 0h0m7 0h0m14 0h0m4 0h0m11 0h0m-31 1h0m14 0h0m9 0h0m5 0h0m14 1h0m-44 1h0m39 0h0m-5 1h0m10 0h0m-14 1h0m28 0h0m-37 1h0m15 0h0m7 0h0m9 1h0m-34 2h0m2 0h0m45 0h0m-29 1h0m16 0h0m-13 2h0m-4 1h0m2 2h0m-55 4h0m2 0h0m22 0h0m68 0h0m-91 1h0m46 0h0m24 2h0m-15 2h0m4 0h0m-19 1h0m-8 1h0m8 1h0m8 0h0m8 0h0m-51 1h0m2 0h0m27 0h0m32 0h0m-18 1h0m0 1h0m-31 2h0m22 0h0m-7 1h0" stroke="#e82020" stroke-width="1.7" stroke-linecap="square" fill="none"/><path d="M244 322h0m12 0h0m-1 9h0m11 3h0m-30 2h0m-25 1h0m27 20h0m-14 4h0m-23 2h0m55 0h0m-13 18h0m10 1h0m16 6h0m-26 3h0m16 3h0m-38 2h0m6 0h0m44 7h0m-16 9h0m2 1h0m-15 4h0m18 3h0m-61 3h0m-5 3h0m1 2h0m67 0h0m-10 1h0m11 1h0m25 4h0m-88 4h0m-3 1h0m-2 1h0m-3 2h0m9 1h0m66 1h0m0 2h0m-4 1h0m15 0h0m-3 2h0m-16 1h0m9 0h0m12 3h0m-29 1h0m36 0h0m2 0h0m-25 8h0m-6 1h0m17 1h0m-32 1h0m12 0h0m-50 3h0m16 0h0m2 3h0m12 0h0m-19 1h0m60 0h0m-70 2h0m18 0h0m6 0h0m27 0h0m10 0h0m-53 1h0m35 0h0m-39 1h0m-4 2h0m25 0h0m-6 1h0m28 0h0m-46 1h0m9 0h0m36 0h0m-28 1h0m1 0h0m4 1h0m25 0h0m-47 1h0m18 0h0m33 0h0m6 0h0m-67 1h0m59 0h0m-54 1h0m7 0h0m5 0h0m64 0h0m-78 2h0m28 0h0m44 1h0m-71 1h0m29 1h0m-5 1h0m2 0h0m36 0h0m20 0h0m-89 1h0m10 0h0m16 0h0m31 0h0m4 1h0m26 0h0m-53 2h0m20 0h0m-54 2h0m9 0h0m23 0h0m13 0h0m-32 1h0m11 0h0m8 1h0m31 1h0m2 0h0m-52 1h0m-1 1h0m4 0h0m1 0h0m31 0h0m-32 1h0m18 0h0m27 0h0m-30 1h0m39 0h0m-64 1h0m19 1h0m22 0h0m21 0h0m12 0h0m-54 1h0m17 0h0m4 0h0m-34 1h0m17 0h0m45 0h0m3 0h0m-6 1h0m-54 1h0m5 0h0m26 0h0m5 0h0m-56 1h0m5 0h0m13 0h0m35 0h0m-33 1h0m58 0h0m-61 1h0m14 0h0m15 0h0m26 0h0m2 0h0m1 0h0m-67 1h0m25 0h0m2 0h0m8 0h0m4 0h0m33 0h0m-70 1h0m4 0h0m7 0h0m34 0h0m5 0h0m31 0h0m-81 1h0m64 0h0m11 0h0m-78 1h0m48 0h0m2 0h0m9 0h0m19 0h0m-41 1h0m2 0h0m10 0h0m13 0h0m7 0h0m17 0h0m-34 1h0m-41 1h0m28 0h0m21 0h0m-45 1h0m5 0h0m13 0h0m-27 1h0m34 0h0m29 0h0m-23 1h0m-3 1h0m-30 1h0m-10 1h0m47 0h0m11 0h0m-21 2h0m24 1h0m29 0h0m-33 1h0m-47 1h0m7 1h0m35 0h0m-57 2h0m51 1h0m10 0h0m-4 1h0m-20 1h0m-18 1h0m-9 2h0m17 4h0m50 0h0m-81 1h0m13 0h0m9 0h0m2 0h0m9 0h0m-3 1h0m1 0h0m8 1h0m23 0h0m-29 1h0m18 0h0m-17 1h0m14 0h0m31 0h0m4 0h0m5 0h0m-24 1h0m-61 2h0m87 0h0m-30 1h0m33 0h0m-50 1h0m11 0h0m-13 1h0m6 0h0m1 0h0" stroke="#e82020" stroke-width="2.4" stroke-linecap="square" fill="none"/>
<path d="M211 454h0m-8 5h0m4 0h0m5 1h0m2 2h0m3 0h0m-12 1h0m1 0h0m-1 1h0m0 0h0m4 0h0m0 1h0m-4 2h0m3 2h0m16 16h0m11 0h0m-1 1h0m0 2h0m-3 4h0m6 17h0m-4 2h0m4 0h0m2 1h0m-12 3h0m-2 3h0m16 0h0m-4 1h0m5 0h0m-18 1h0m16 0h0m18 0h0m-37 1h0m22 0h0m5 1h0m-4 1h0m6 0h0m8 0h0m-32 1h0m26 0h0m5 0h0m-17 1h0m10 1h0m-20 1h0m20 1h0m5 0h0m-6 1h0m13 0h0m-9 4h0m-14 1h0m26 0h0m-19 1h0m3 0h0m1 2h0m9 0h0" stroke="#f02020" stroke-width="1.4" stroke-linecap="square" fill="none"/><path d="M214 457h0m-11 1h0m4 0h0m8 0h0m6 3h0m-18 2h0m-1 1h0m5 1h0m-9 1h0m8 2h0m27 15h0m-13 2h0m8 0h0m-4 3h0m2 0h0m1 2h0m2 3h0m5 19h0m10 1h0m-4 1h0m-6 2h0m2 0h0m7 0h0m-4 1h0m11 0h0m-20 1h0m6 0h0m1 0h0m-5 1h0m12 2h0m-12 1h0m5 0h0m-11 1h0m3 0h0m8 0h0m-4 1h0m2 0h0m6 0h0m1 0h0m-11 1h0m5 0h0m10 0h0m1 0h0m2 0h0m1 1h0m2 0h0m-9 1h0m8 0h0m-23 1h0m11 0h0m3 0h0m-9 1h0m24 0h0m-3 1h0m-8 1h0m10 0h0m-8 4h0m10 1h0" stroke="#f02020" stroke-width="2.2" stroke-linecap="square" fill="none"/>
<path d="M237 458h0m32 1h0m-28 2h0m37 0h0m6 1h0m2 0h0m5 0h0m-52 1h0m43 2h0m5 0h0m-3 3h0m-1 2h0m-48 2h0m40 0h0m-17 1h0m21 0h0m-25 1h0m30 1h0m6 0h0m-27 1h0m13 1h0m-29 1h0m3 0h0m19 0h0m5 0h0m-30 1h0m36 0h0m-30 1h0m13 1h0m29 0h0m1 0h0m-67 1h0m12 0h0m6 0h0m4 0h0m7 0h0m5 0h0m-1 1h0m8 0h0m6 0h0m-20 1h0m33 0h0m-47 2h0m6 0h0m14 0h0m-18 1h0m-1 1h0m20 0h0m7 0h0m-37 1h0m33 0h0m-12 1h0m1 0h0m9 1h0m5 0h0m6 0h0m-34 1h0m18 0h0m24 0h0m-37 1h0m3 0h0m38 0h0m-64 1h0m2 0h0m33 0h0m24 0h0m12 0h0m-64 1h0m5 0h0m28 0h0m11 0h0m12 0h0m1 1h0m-79 1h0m7 0h0m17 0h0m11 0h0m10 0h0m8 0h0m2 0h0m-50 1h0m12 0h0m13 0h0m10 0h0m6 0h0m13 0h0m-43 1h0m20 0h0m17 0h0m3 0h0m6 0h0m-45 1h0m13 0h0m16 0h0m21 0h0m-48 1h0m25 0h0m-35 1h0m10 1h0m2 0h0m12 0h0m16 0h0m23 1h0m-63 1h0m18 0h0m47 0h0m-54 1h0m25 1h0m13 0h0m7 0h0m4 0h0m20 0h0m-73 1h0m24 0h0m3 0h0m27 0h0m-50 1h0m36 0h0m5 0h0m-68 1h0m25 1h0m27 0h0m19 0h0m-39 1h0m-14 1h0m41 0h0m8 0h0m9 0h0m9 0h0m-21 1h0m15 0h0m-6 1h0m-18 1h0m-20 1h0m27 0h0m23 0h0m-10 1h0m-48 1h0m49 0h0m7 0h0m-12 1h0m6 0h0m5 0h0m-35 3h0m19 0h0m-65 1h0m50 1h0m-41 1h0m66 1h0m11 0h0m-86 3h0m65 5h0m-59 3h0m58 0h0m-19 1h0" stroke="#d020e0" stroke-width="1.2" stroke-linecap="square" fill="none" style="mix-blend-mode:screen"/><path d="M244 449h0m26 6h0m-9 3h0m20 0h0m11 2h0m-36 1h0m7 0h0m3 0h0m16 0h0m-23 4h0m18 0h0m9 1h0m-17 1h0m3 0h0m19 0h0m-21 2h0m-13 1h0m25 0h0m-9 1h0m-24 1h0m30 0h0m-8 1h0m-18 1h0m20 0h0m-13 1h0m20 0h0m-35 1h0m9 1h0m39 0h0m-27 1h0m-9 1h0m37 0h0m-75 1h0m14 0h0m4 0h0m4 0h0m26 0h0m-52 1h0m43 0h0m-23 1h0m11 0h0m5 0h0m13 0h0m5 0h0m12 0h0m-41 1h0m6 0h0m30 0h0m-50 1h0m12 0h0m26 0h0m3 0h0m9 0h0m3 0h0m-44 1h0m4 0h0m3 0h0m12 0h0m-4 1h0m7 0h0m8 0h0m-37 1h0m8 0h0m31 0h0m8 0h0m18 0h0m-39 1h0m18 0h0m-23 1h0m7 0h0m2 0h0m14 0h0m-62 1h0m-2 1h0m6 0h0m2 0h0m18 0h0m8 0h0m-13 1h0m38 0h0m3 0h0m6 0h0m9 0h0m-43 1h0m27 0h0m-30 1h0m27 0h0m-58 1h0m16 0h0m11 0h0m11 1h0m1 0h0m18 0h0m8 0h0m2 0h0m-66 1h0m40 0h0m18 0h0m1 0h0m-30 1h0m6 0h0m8 0h0m26 0h0m-50 1h0m40 0h0m-41 1h0m34 0h0m-29 1h0m13 0h0m5 0h0m6 0h0m16 0h0m-38 1h0m23 0h0m16 0h0m8 0h0m-46 1h0m18 0h0m6 0h0m7 0h0m8 0h0m-23 1h0m22 0h0m-36 1h0m26 0h0m1 0h0m9 0h0m2 0h0m-50 1h0m22 0h0m3 0h0m3 0h0m3 0h0m1 0h0m13 0h0m-57 1h0m19 0h0m29 0h0m-38 1h0m4 0h0m42 0h0m9 0h0m8 0h0m-57 1h0m26 0h0m7 0h0m2 0h0m8 0h0m-24 1h0m20 0h0m9 0h0m-52 1h0m32 0h0m20 0h0m-37 1h0m43 0h0m-57 1h0m28 1h0m-9 1h0m-5 1h0m40 0h0m-51 1h0m34 0h0m10 0h0m-71 1h0m63 0h0m21 0h0m-87 1h0m47 0h0m9 0h0m-48 1h0m54 0h0m23 1h0m-86 1h0m0 0h0m33 0h0m36 0h0m11 0h0m-17 1h0m2 0h0m-65 1h0m8 2h0m56 0h0m-64 1h0m5 0h0m-4 1h0m3 0h0m-7 1h0m64 0h0m-13 2h0m-51 1h0m60 5h0m12 0h0m4 9h0m-15 8h0" stroke="#d020e0" stroke-width="2.0" stroke-linecap="square" fill="none" style="mix-blend-mode:screen"/>
<path d="M229 320h0m27 0h0m-36 1h0m1 1h0m63 0h0m-78 1h0m39 0h0m29 1h0m-65 2h0m16 1h0m7 0h0m47 0h0m14 0h0m-50 1h0m2 0h0m2 0h0m23 0h0m-26 1h0m49 0h0m-77 1h0m27 0h0m25 0h0m-59 1h0m16 1h0m4 0h0m2 0h0m-32 1h0m50 0h0m15 0h0m11 0h0m4 0h0m-32 1h0m12 0h0m8 0h0m2 0h0m-57 1h0m9 0h0m56 0h0m-56 1h0m18 0h0m14 0h0m21 0h0m18 0h0m-74 1h0m40 1h0m-36 2h0m1 0h0m11 0h0m15 0h0m-2 1h0m-33 1h0m14 0h0m6 0h0m3 0h0m2 0h0m5 0h0m-38 1h0m34 0h0m-30 2h0m-4 1h0m18 0h0m58 0h0m-72 1h0m12 0h0m10 0h0m-32 2h0m24 0h0m7 0h0m20 0h0m-35 1h0m7 0h0m3 1h0m33 0h0m31 0h0m-88 1h0m24 0h0m36 0h0m25 0h0m-35 1h0m4 0h0m-35 1h0m52 0h0m-74 1h0m24 0h0m71 0h0m-51 1h0m-25 1h0m4 0h0m23 0h0m-29 1h0m37 0h0m29 0h0m13 0h0m-33 1h0m17 0h0m-79 1h0m0 1h0m53 1h0m-21 1h0m28 0h0m16 0h0m14 1h0m-73 1h0m60 0h0m11 0h0m-42 2h0m-50 1h0m9 0h0m19 2h0m20 0h0m23 0h0m7 2h0m-31 1h0m-16 1h0m-30 1h0m13 0h0m46 0h0m21 0h0m-82 1h0m7 0h0m47 0h0m-22 1h0m50 0h0m17 1h0m-47 1h0m12 0h0m-28 1h0m12 0h0m9 0h0m33 0h0m1 0h0m-63 1h0m17 0h0m22 0h0m4 1h0m11 0h0m16 0h0m-91 3h0m9 1h0m42 0h0m11 0h0m0 0h0m-10 1h0m1 0h0m7 0h0m-17 1h0m7 2h0m27 0h0m-38 1h0m2 0h0m-15 1h0m0 1h0m26 0h0m23 0h0m-70 1h0m71 0h0m-59 1h0m49 0h0m20 1h0m-22 1h0m6 0h0m5 0h0m3 0h0m1 2h0m-42 1h0m10 0h0m41 0h0m-68 1h0m71 0h0m-49 2h0m16 0h0m14 0h0m-62 1h0m43 0h0m-32 1h0m28 1h0m36 0h0m-29 1h0m-50 1h0m36 0h0m-46 1h0m86 0h0m-19 1h0m-43 1h0m29 0h0m36 0h0m-69 1h0m8 0h0m-7 2h0m25 2h0m-9 1h0m-30 1h0m0 0h0m15 0h0m-11 1h0m1 0h0m34 0h0m45 0h0m-50 1h0m22 2h0m8 0h0m-47 2h0m3 1h0m13 1h0m32 0h0m-21 1h0m7 0h0m21 0h0m3 1h0m5 0h0m-68 1h0m35 0h0m25 0h0m5 0h0m-65 1h0m1 1h0m19 0h0m2 1h0m26 0h0m-28 1h0m42 0h0m-73 1h0m11 0h0m12 0h0m39 0h0m24 0h0m-47 1h0m24 0h0m7 0h0m6 0h0m-40 1h0m13 0h0m-8 1h0m7 0h0m11 0h0m6 0h0m8 0h0m11 0h0m1 0h0m-3 1h0m-11 1h0m4 0h0m-69 1h0m43 0h0m22 0h0m16 0h0m-34 1h0m13 0h0m7 0h0m-50 1h0m17 0h0m35 0h0m-37 1h0m26 0h0m22 0h0m-66 1h0m52 0h0m-50 1h0m16 2h0m10 0h0m10 0h0m-18 1h0m17 0h0m10 0h0m-25 1h0m39 1h0m-43 1h0m25 0h0m14 1h0m3 0h0m-40 2h0m8 0h0m15 0h0m-49 1h0m18 0h0m30 0h0m9 0h0m-6 1h0m12 1h0m-69 1h0m39 1h0m-18 1h0m5 0h0m-19 1h0m28 0h0m9 1h0m19 3h0m-39 1h0m19 0h0m-20 1h0m42 0h0m-40 1h0m13 1h0m-1 1h0m-7 2h0m14 2h0m-11 1h0m-28 4h0m-4 2h0m32 0h0m44 7h0m-79 3h0m15 2h0m40 0h0m-40 3h0m43 2h0m-65 1h0m23 0h0m40 4h0m-20 3h0m-13 1h0m36 5h0m-33 2h0m45 2h0m-9 4h0" stroke="#46ee44" stroke-width="1.0" stroke-linecap="square" fill="none"/><path d="M240 320h0m-28 1h0m46 4h0m15 0h0m14 0h0m-63 1h0m19 0h0m26 0h0m4 0h0m-52 1h0m15 0h0m48 0h0m-85 1h0m12 0h0m28 0h0m21 0h0m-53 1h0m11 0h0m28 0h0m22 0h0m14 0h0m-53 1h0m20 0h0m30 0h0m-82 1h0m60 0h0m-50 1h0m2 0h0m5 0h0m26 0h0m39 0h0m-51 1h0m14 0h0m0 0h0m15 0h0m15 0h0m14 0h0m7 0h0m-67 1h0m25 0h0m3 0h0m-22 2h0m0 0h0m10 0h0m5 0h0m4 0h0m-34 1h0m24 0h0m-12 1h0m34 1h0m4 0h0m21 0h0m-28 1h0m-53 1h0m16 0h0m59 0h0m-53 1h0m36 0h0m-46 1h0m6 0h0m8 0h0m5 0h0m21 0h0m-17 1h0m4 0h0m22 0h0m-40 1h0m12 0h0m14 0h0m-36 2h0m20 0h0m-10 1h0m-18 1h0m19 0h0m35 0h0m-64 2h0m55 1h0m19 0h0m13 0h0m-88 1h0m45 0h0m6 0h0m23 2h0m18 0h0m-75 1h0m66 0h0m-41 1h0m10 1h0m4 0h0m8 0h0m2 0h0m-35 1h0m5 0h0m36 0h0m5 1h0m-45 1h0m8 0h0m5 0h0m2 0h0m3 0h0m12 1h0m4 0h0m23 0h0m-34 2h0m-33 1h0m58 0h0m-82 1h0m36 0h0m13 0h0m-36 2h0m35 0h0m42 1h0m-1 2h0m-66 1h0m10 0h0m40 0h0m18 0h0m2 0h0m-13 1h0m-76 1h0m63 0h0m3 0h0m21 0h0m-88 1h0m82 0h0m5 0h0m-27 1h0m7 0h0m-41 1h0m40 0h0m-45 1h0m64 0h0m-22 1h0m-43 1h0m44 1h0m-16 1h0m35 0h0m-11 1h0m-66 1h0m7 0h0m0 0h0m6 1h0m2 1h0m17 0h0m27 1h0m-31 1h0m0 0h0m11 0h0m16 0h0m-58 1h0m33 1h0m52 1h0m-82 2h0m34 0h0m31 0h0m-10 1h0m-54 1h0m47 0h0m7 0h0m14 0h0m7 0h0m4 0h0m-79 1h0m77 0h0m-38 1h0m-38 1h0m33 0h0m46 0h0m-9 1h0m8 0h0m-4 1h0m-65 1h0m-9 1h0m46 0h0m7 0h0m26 1h0m-22 2h0m-57 1h0m40 0h0m-17 1h0m-30 2h0m14 0h0m-11 1h0m2 0h0m21 0h0m41 0h0m12 0h0m-44 1h0m-21 1h0m-2 1h0m12 0h0m-16 1h0m7 0h0m-22 1h0m81 1h0m-38 2h0m38 1h0m-52 3h0m9 0h0m53 0h0m-14 1h0m-63 2h0m22 0h0m33 0h0m-11 1h0m7 0h0m6 1h0m3 0h0m12 0h0m-13 3h0m-3 1h0m-61 1h0m69 1h0m-63 1h0m48 0h0m-18 1h0m13 0h0m12 1h0m-47 1h0m54 1h0m20 0h0m-46 1h0m9 0h0m-7 1h0m3 0h0m5 1h0m15 0h0m-44 1h0m-21 1h0m54 0h0m-24 1h0m12 0h0m9 1h0m21 0h0m-45 1h0m-8 1h0m8 0h0m18 1h0m15 0h0m9 0h0m-26 1h0m-2 1h0m19 0h0m-34 2h0m-6 2h0m19 0h0m19 0h0m4 0h0m-18 2h0m-26 1h0m29 0h0m6 0h0m5 0h0m-17 1h0m-11 1h0m57 1h0m-55 2h0m-11 1h0m10 0h0m37 0h0m-37 1h0m25 1h0m-7 1h0m4 2h0m5 5h0m-9 2h0m19 0h0m-10 1h0m7 0h0m-2 8h0m4 1h0m3 1h0m-44 1h0m37 0h0m-28 1h0m41 0h0m-60 5h0m69 4h0m-51 2h0" stroke="#46ee44" stroke-width="1.6" stroke-linecap="square" fill="none"/><path d="M207 320h0m6 1h0m37 1h0m-28 2h0m-20 3h0m42 0h0m-29 1h0m5 0h0m9 0h0m19 0h0m4 0h0m12 0h0m-61 1h0m6 0h0m12 0h0m10 0h0m5 0h0m4 0h0m10 0h0m5 0h0m11 0h0m-41 1h0m1 0h0m5 0h0m16 0h0m7 0h0m30 0h0m-51 1h0m14 0h0m1 0h0m4 0h0m11 0h0m28 0h0m-58 1h0m-20 1h0m-12 1h0m22 0h0m23 0h0m16 0h0m-19 1h0m-50 1h0m97 0h0m-63 1h0m65 0h0m-62 1h0m36 0h0m2 0h0m19 0h0m-61 1h0m0 0h0m40 1h0m21 0h0m-78 1h0m3 0h0m75 0h0m-65 1h0m4 0h0m19 2h0m27 0h0m20 0h0m1 0h0m-85 3h0m47 0h0m-8 1h0m1 0h0m20 0h0m27 0h0m-63 1h0m12 0h0m-8 1h0m50 0h0m-88 1h0m57 0h0m2 1h0m-54 2h0m33 0h0m0 0h0m13 0h0m4 0h0m4 0h0m28 0h0m-40 1h0m-31 1h0m36 0h0m1 0h0m5 0h0m12 1h0m-53 1h0m40 0h0m-62 1h0m8 0h0m33 0h0m7 0h0m4 0h0m26 0h0m-41 1h0m30 0h0m34 0h0m-86 1h0m49 0h0m0 0h0m-34 1h0m21 0h0m-12 1h0m20 0h0m29 0h0m-40 1h0m21 0h0m4 0h0m-25 2h0m18 1h0m28 0h0m4 0h0m-85 2h0m-1 1h0m42 2h0m1 0h0m13 0h0m13 2h0m-3 2h0m-8 1h0m20 0h0m3 0h0m-74 1h0m44 0h0m5 0h0m-61 1h0m65 1h0m-14 1h0m4 2h0m-52 1h0m22 2h0m1 0h0m32 1h0m10 0h0m16 0h0m-63 1h0m6 0h0m33 1h0m5 0h0m-39 2h0m48 0h0m12 0h0m-79 1h0m35 1h0m16 0h0m27 0h0m-89 1h0m33 0h0m8 1h0m23 0h0m2 2h0m-56 2h0m8 0h0m34 0h0m-32 1h0m39 1h0m-9 1h0m32 0h0m-84 2h0m90 0h0m-77 1h0m42 0h0m18 3h0m-57 2h0m35 0h0m24 0h0m13 1h0m-27 2h0m-53 1h0m4 0h0m22 4h0m6 1h0m51 0h0m-63 1h0m72 0h0m-49 1h0m35 1h0m12 0h0m-58 1h0m26 0h0m7 0h0m6 0h0m5 0h0m-27 1h0m-42 1h0m9 0h0m49 0h0m13 0h0m3 0h0m-68 2h0m63 1h0m-48 1h0m40 1h0m-36 1h0m8 0h0m-18 1h0m60 0h0m-42 1h0m49 0h0m-40 1h0m19 0h0m20 0h0m-70 1h0m46 0h0m13 0h0m1 0h0m6 0h0m-72 1h0m43 0h0m15 0h0m-64 1h0m76 0h0m1 0h0m-42 1h0m25 0h0m-32 2h0m38 0h0m-73 1h0m69 0h0m18 0h0m-38 1h0m-21 2h0m39 0h0m6 0h0m-28 2h0m8 0h0m-10 1h0m5 4h0m6 0h0m12 1h0m14 0h0m4 1h0m-42 1h0m2 0h0m11 1h0m12 0h0m-26 1h0m7 0h0m13 0h0m-7 1h0m6 0h0m-20 1h0m1 0h0m3 0h0m5 0h0m10 0h0m-21 1h0m14 0h0m4 0h0m13 0h0m2 0h0m19 0h0m-72 2h0m34 0h0m28 0h0m-27 1h0m1 0h0m7 0h0m-24 1h0m7 0h0m8 1h0m-34 1h0m37 0h0m-33 1h0m27 0h0m26 0h0m8 2h0m-36 1h0m23 0h0m-50 1h0m44 2h0m-53 3h0m38 0h0m-27 3h0m24 0h0m-25 4h0m-18 8h0m24 2h0m28 10h0m-49 4h0m62 2h0m18 1h0m-72 9h0" stroke="#46ee44" stroke-width="2.2" stroke-linecap="square" fill="none"/>
<path d="M245 353h0m-12 6h0m8 1h0m-3 1h0m2 0h0m-1 3h0m-3 4h0m44 0h0m-1 1h0m2 0h0m1 0h0m1 0h0m-7 1h0m6 0h0m2 0h0m1 0h0m-4 3h0m3 0h0m-4 1h0m1 0h0m-2 1h0m2 1h0m3 0h0m-3 2h0m-4 1h0m-14 15h0m-5 1h0m6 0h0m-7 2h0m5 0h0m-30 6h0m6 0h0m4 0h0m-7 1h0m9 2h0m-6 1h0m8 0h0m-4 1h0m2 1h0m-4 1h0m12 50h0m4 0h0m-6 1h0m2 0h0m6 1h0m6 1h0m-11 1h0m3 0h0" stroke="#50f048" stroke-width="1.4" stroke-linecap="square" fill="none"/><path d="M234 356h0m2 1h0m3 1h0m-9 1h0m3 0h0m3 0h0m1 0h0m4 2h0m2 0h0m-12 2h0m48 1h0m4 0h0m-50 1h0m6 1h0m39 1h0m3 0h0m1 0h0m0 1h0m2 0h0m-2 2h0m4 0h0m-7 2h0m3 1h0m5 0h0m-2 1h0m-7 3h0m-19 11h0m5 4h0m0 1h0m-2 1h0m4 0h0m-4 6h0m-24 1h0m2 1h0m1 2h0m-4 4h0m2 2h0m13 47h0m1 1h0m2 2h0m0 1h0m-5 1h0m-4 1h0m6 1h0m4 0h0m2 0h0m1 0h0m0 0h0m-2 3h0m4 0h0" stroke="#50f048" stroke-width="2.2" stroke-linecap="square" fill="none"/>
</g>
<rect x="192.1" y="319.5" width="102.3" height="237.0" fill="none" stroke="#8a8a8a" stroke-width="1"/>
<clipPath id="cpi1"><rect x="302.5" y="320.6" width="101.0" height="114.4"/></clipPath>
<g clip-path="url(#cpi1)">
<rect x="302.5" y="320.6" width="101.0" height="114.4" fill="#0a0418"/>
<g filter="url(#bl1)"><polygon points="318,321 366,321 368,331 352,335 336,337 320,335" fill="#2424f8" opacity="1"/><polygon points="364,321 404,321 404,347 390,349 377,343 367,336" fill="#2424f8" opacity="1"/><polygon points="321,340 340,335 353,339 358,355 357,376 351,389 338,392 325,387 319,372 317,355" fill="#2424f8" opacity="1"/><polygon points="302,339 316,336 321,348 319,363 310,367 302,363" fill="#2424f8" opacity="1"/><polygon points="302,369 316,371 321,382 313,389 302,388" fill="#2424f8" opacity="1"/><polygon points="365,350 380,344 396,345 404,351 404,381 392,385 377,383 367,373 365,360" fill="#2424f8" opacity="1"/><polygon points="352,381 365,379 379,382 381,391 370,394 355,393" fill="#2424f8" opacity="1"/><polygon points="341,407 352,402 367,403 373,412 369,421 352,423 342,418" fill="#2424f8" opacity="1"/><polygon points="369,401 380,397 390,403 391,419 385,427 373,425 368,414" fill="#2424f8" opacity="1"/><polygon points="330,419 338,417 343,424 339,431 330,430" fill="#2424f8" opacity="0.9"/></g>
<path d="M318 332h0m-2 56h0m51 7h0m-63 3h0m57 0h0m5 0h0m-61 1h0m16 4h0m47 1h0m4 5h0m-40 1h0m72 0h0m-92 1h0m66 0h0m-15 1h0m-47 1h0m51 2h0m-33 2h0m-17 1h0m-13 5h0m15 0h0m9 1h0m72 0h0m-15 3h0m-62 2h0m-17 2h0m26 0h0m53 0h0" stroke="#f01c1c" stroke-width="1.6" stroke-linecap="round" fill="none" style="mix-blend-mode:screen"/><path d="M303 328h0m2 58h0m5 3h0m23 1h0m-22 4h0m52 0h0m0 6h0m-34 1h0m23 0h0m25 0h0m-16 2h0m-58 2h0m54 0h0m-38 2h0m77 2h0m-72 1h0m44 1h0m-46 2h0m1 4h0m-12 3h0m10 1h0m-1 5h0m30 1h0m22 0h0m-12 2h0m-14 1h0m-2 3h0m-36 1h0" stroke="#f01c1c" stroke-width="2.4" stroke-linecap="round" fill="none" style="mix-blend-mode:screen"/><path d="M308 387h0m20 13h0m37 1h0m-17 1h0m39 1h0m-81 1h0m-1 5h0m21 2h0m61 0h0m-59 4h0m-25 2h0m11 0h0m11 0h0m0 1h0m-16 1h0m21 0h0m67 0h0m-29 1h0m-52 3h0m20 0h0m-9 1h0m-5 1h0m7 1h0m19 1h0m21 1h0m-38 1h0m-24 1h0m6 0h0m38 0h0" stroke="#f01c1c" stroke-width="3.4" stroke-linecap="round" fill="none" style="mix-blend-mode:screen"/>
<path d="M343 328h0m12 2h0m35 0h0m-21 1h0m2 0h0m-11 1h0m-36 2h0m52 3h0m-15 3h0m21 0h0m-17 1h0m22 0h0m-25 4h0m13 3h0m11 2h0m-39 2h0m30 3h0m15 1h0m1 0h0m-26 2h0m20 1h0m-13 4h0m-9 5h0m0 3h0m-37 2h0m0 1h0m1 1h0m0 6h0m24 9h0m-2 2h0m6 0h0m-19 2h0m4 1h0m35 0h0m-17 1h0m-10 1h0m2 3h0m-18 1h0m41 0h0m-7 2h0m-9 3h0" stroke="#40f03c" stroke-width="1.6" stroke-linecap="round" fill="none"/><path d="M380 331h0m-8 1h0m20 3h0m-31 1h0m25 1h0m-11 1h0m19 0h0m-18 11h0m-13 1h0m34 5h0m-31 3h0m21 8h0m4 4h0m-5 1h0m9 3h0m-14 2h0m-52 2h0m51 2h0m-24 2h0m30 1h0m-35 6h0m19 1h0m-1 1h0m14 4h0m-24 1h0m-3 2h0m-23 1h0m71 2h0m-49 1h0m16 0h0m-23 2h0m17 0h0m-25 2h0m42 6h0m-60 6h0m10 2h0" stroke="#40f03c" stroke-width="2.4" stroke-linecap="round" fill="none"/><path d="M348 324h0m5 10h0m26 2h0m10 4h0m-21 3h0m3 1h0m19 0h0m-25 9h0m24 1h0m-18 1h0m-9 1h0m37 5h0m-8 1h0m-13 1h0m-23 1h0m45 0h0m-8 2h0m-13 1h0m-55 17h0m72 0h0m-5 4h0m-5 2h0m-44 1h0m-6 1h0m45 1h0m-45 2h0m7 0h0m21 0h0m24 0h0m-25 1h0m17 0h0m-26 2h0m16 0h0m-24 2h0m37 1h0m-37 7h0m-29 16h0m4 1h0" stroke="#40f03c" stroke-width="3.2" stroke-linecap="round" fill="none"/>
</g>
<rect x="302.5" y="320.6" width="101.0" height="114.4" fill="none" stroke="#8a8a8a" stroke-width="1"/>
<clipPath id="cpi2"><rect x="302.5" y="443" width="101.0" height="114.0"/></clipPath>
<g clip-path="url(#cpi2)">
<rect x="302.5" y="443" width="101.0" height="114.0" fill="#0a0418"/>
<g filter="url(#bl1)"><polygon points="317,448 330,444 346,445 352,455 349,467 338,472 323,471 316,462" fill="#2424f8" opacity="1"/><polygon points="302,442 318,442 318,456 308,458 302,456" fill="#2424f8" opacity="0.85"/><polygon points="349,442 366,442 367,452 357,458 349,453" fill="#2424f8" opacity="0.9"/><polygon points="364,442 404,442 404,476 392,479 377,473 367,466 364,455" fill="#2424f8" opacity="1"/><ellipse cx="391" cy="496" rx="14" ry="18" fill="#2424f8" opacity="1"/><ellipse cx="369" cy="493" rx="11" ry="15" fill="#2424f8" opacity="1"/><ellipse cx="376" cy="524" rx="14" ry="11" fill="#2424f8" opacity="1"/><ellipse cx="335" cy="512" rx="8" ry="10" fill="#2424f8" opacity="0.95"/><ellipse cx="318" cy="462" rx="12" ry="8" fill="#2424f8" opacity="0.6"/></g>
<path d="M366 473h0m26 2h0m-23 17h0m6 0h0m-6 3h0m3 0h0m3 3h0m-13 2h0m12 1h0m-37 8h0m1 3h0m38 6h0m-44 2h0m44 4h0m-2 4h0m-4 1h0m13 1h0" stroke="#d830e8" stroke-width="1.6" stroke-linecap="round" fill="none" style="mix-blend-mode:screen"/><path d="M363 478h0m36 2h0m-32 4h0m-1 3h0m5 1h0m1 3h0m-5 2h0m0 5h0m-32 11h0m40 1h0m-46 1h0m55 4h0m-9 1h0m-42 1h0m46 1h0m-14 1h0m2 0h0m5 0h0m8 7h0m-21 2h0m17 0h0m-1 3h0m-9 3h0" stroke="#d830e8" stroke-width="2.4" stroke-linecap="round" fill="none" style="mix-blend-mode:screen"/>
<path d="M342 473h0m12 0h0m-43 3h0m5 3h0m46 0h0m-56 5h0m47 2h0m-50 1h0m36 0h0m-24 1h0m19 0h0m-12 1h0m20 1h0m-6 1h0m-16 1h0m18 5h0m-8 2h0m5 0h0m-31 1h0m9 1h0m-2 4h0m4 2h0m36 2h0m-16 1h0m10 0h0m-19 1h0m6 0h0m-21 1h0m-3 1h0m16 0h0m7 0h0m5 0h0m-33 3h0m10 1h0m21 0h0m22 0h0m-49 1h0m41 0h0m-45 1h0m41 0h0m2 1h0m-18 1h0m28 1h0m-38 2h0m20 0h0m15 0h0m-8 1h0m-24 2h0m-7 1h0m4 0h0m30 2h0m-38 1h0m37 0h0m19 3h0m-22 2h0m-23 1h0m12 0h0m-11 1h0m19 0h0m-23 1h0m20 0h0m7 3h0m14 1h0m-16 1h0m-13 1h0m1 2h0m59 2h0m-46 1h0m-20 5h0m-5 1h0m36 1h0" stroke="#f01c1c" stroke-width="1.6" stroke-linecap="round" fill="none" style="mix-blend-mode:screen"/><path d="M345 469h0m0 0h0m-10 1h0m6 0h0m-11 1h0m10 0h0m11 0h0m-4 1h0m-26 2h0m-1 5h0m6 0h0m-1 1h0m-9 1h0m39 2h0m-36 2h0m29 0h0m10 0h0m4 2h0m-43 1h0m31 1h0m-6 1h0m-35 1h0m24 0h0m-3 1h0m-8 2h0m16 0h0m-28 1h0m13 0h0m19 1h0m16 7h0m-23 2h0m9 0h0m-29 1h0m17 0h0m13 0h0m23 2h0m-60 2h0m13 0h0m-1 3h0m19 0h0m4 0h0m-2 2h0m-29 1h0m-3 1h0m26 0h0m30 0h0m-28 2h0m-6 2h0m7 0h0m5 2h0m-7 1h0m-23 2h0m25 0h0m-9 2h0m-15 3h0m25 0h0m-23 1h0m27 1h0m-21 1h0m14 0h0m-3 1h0m-13 3h0m38 1h0m28 0h0m-53 1h0m10 0h0m-17 1h0m27 1h0m-3 1h0m17 0h0m23 0h0m-42 1h0m9 0h0m23 0h0m-12 1h0m-51 3h0m6 1h0m44 0h0m-13 1h0m22 1h0m-40 3h0m21 0h0" stroke="#f01c1c" stroke-width="2.4" stroke-linecap="round" fill="none" style="mix-blend-mode:screen"/><path d="M335 467h0m13 0h0m-1 6h0m-2 2h0m-16 5h0m2 1h0m4 0h0m-10 3h0m35 1h0m-20 2h0m-36 1h0m30 0h0m-7 3h0m5 0h0m14 2h0m6 1h0m-40 1h0m15 0h0m7 0h0m8 0h0m15 0h0m-24 1h0m18 1h0m-42 1h0m3 0h0m6 0h0m32 0h0m7 0h0m-42 2h0m9 0h0m29 0h0m-46 1h0m22 1h0m-13 1h0m6 2h0m28 0h0m-41 2h0m5 2h0m26 0h0m19 1h0m-44 1h0m-4 3h0m15 0h0m-23 1h0m36 1h0m-9 1h0m-13 1h0m28 0h0m1 3h0m-41 3h0m5 0h0m11 1h0m59 0h0m-38 2h0m-19 2h0m22 1h0m13 2h0m-39 1h0m27 0h0m-43 2h0m48 0h0m-37 1h0m62 0h0m-65 1h0m5 0h0m-1 2h0m11 0h0m-15 2h0m4 0h0m13 0h0m5 0h0m40 2h0m-60 1h0m4 0h0m29 0h0m-11 1h0m7 0h0m14 1h0m22 1h0m19 0h0m-93 1h0m24 0h0m14 0h0m22 1h0m-8 1h0m13 0h0m26 0h0m-65 1h0m11 2h0m-37 2h0m46 2h0" stroke="#f01c1c" stroke-width="3.0" stroke-linecap="round" fill="none" style="mix-blend-mode:screen"/>
<path d="M354 463h0m27 1h0m-12 1h0m16 7h0m-22 7h0m-23 5h0m2 0h0m-5 10h0m14 3h0m6 4h0m8 6h0m2 4h0m7 2h0m3 1h0m-16 7h0m-20 10h0m-8 2h0m30 11h0" stroke="#40f03c" stroke-width="1.6" stroke-linecap="round" fill="none"/><path d="M380 448h0m-13 5h0m12 2h0m8 1h0m-7 1h0m-26 3h0m31 5h0m-11 9h0m-39 6h0m12 20h0m4 18h0m-18 4h0m-5 4h0m17 1h0m10 8h0m1 2h0" stroke="#40f03c" stroke-width="2.4" stroke-linecap="round" fill="none"/><path d="M361 448h0m-15 1h0m34 1h0m-40 4h0m41 2h0m-15 1h0m-18 4h0m35 1h0m-28 2h0m25 2h0m-23 1h0m26 3h0m-48 6h0m34 34h0m4 1h0m-33 7h0m3 6h0m-22 2h0m41 7h0m-1 6h0" stroke="#40f03c" stroke-width="3.0" stroke-linecap="round" fill="none"/>
</g>
<rect x="302.5" y="443" width="101.0" height="114.0" fill="none" stroke="#8a8a8a" stroke-width="1"/>
<rect x="61.4" y="400.8" width="91.0" height="115.4" fill="none" stroke="#e8e8e8" stroke-width="1.1" stroke-dasharray="2,1.6"/>
<text x="10.6" y="342.3" font-size="19" font-weight="bold" fill="#fff">b</text>
<text x="64.4" y="382.1" font-size="13.6" fill="#f0f0f0">HNe</text>
<text x="135.1" y="419.7" font-size="14.5" fill="#f0f0f0">b</text><text x="143.2" y="421.6" font-size="6.5" fill="#f0f0f0">1</text>
<text x="10.7" y="549.4" font-size="14.2" font-style="italic" fill="#8ca0ff">Hoechst</text>
<rect x="131.1" y="546.1" width="33.6" height="3.7" fill="#fff"/>
<rect x="231.3" y="417" width="42.3" height="51.9" fill="none" stroke="#e8e8e8" stroke-width="1.1" stroke-dasharray="2,1.6"/>
<rect x="216" y="486.2" width="41.5" height="53.2" fill="none" stroke="#e8e8e8" stroke-width="1.1" stroke-dasharray="2,1.6"/>
<text x="199.3" y="342.5" font-size="18.5" fill="#fff">b</text><text x="210.9" y="346.5" font-size="9" fill="#fff">1</text>
<text x="210.6" y="389.2" font-size="13.6" fill="#f0f0f0">HNe</text>
<text x="262.6" y="434" font-size="12.5" fill="#f0f0f0">1</text>
<text x="220.8" y="534.3" font-size="13" fill="#f0f0f0">2</text>
<rect x="260.9" y="545.4" width="26.1" height="3.4" fill="#fff"/>
<text x="390.8" y="339" font-size="13" fill="#f4f4f4">1</text>
<polygon points="365,379.1 374,379.1 369.5,390.7" fill="#fff"/>
<text x="388.5" y="461.7" font-size="13" fill="#f4f4f4">2</text>
<polygon points="357.3,453.9 366.5,453.9 361.9,465.5" fill="#fff"/>
<polygon points="369.2,480.2 378.1,480.2 373.6,491.8" fill="#fff"/>
<polygon points="328.6,501.1 337.9,501.1 333.2,512.7" fill="#fff"/>
<rect x="374" y="545.2" width="22" height="3.9" fill="#fff"/>
<text x="6.9" y="313.2" font-size="14.2" font-style="italic" fill="#1a1a1a">E11.5 ISH <tspan fill="#52d36b">Ascl1</tspan>/<tspan fill="#e8202a">Onecut3</tspan></text>
<text x="217.7" y="310.9" font-size="14.2" font-style="italic" fill="#1a1a1a">E11.5 ISH <tspan fill="#52d36b">Ascl1</tspan>/<tspan fill="#e8202a">Onecut3</tspan></text>
<text x="568.0" y="311.6" font-size="14.3" text-anchor="middle" font-weight="normal" fill="#111" font-style="italic" >Neurotransmitter identity</text>
<text x="436.6" y="330.8" font-size="19.5" text-anchor="start" font-weight="bold" fill="#000" >c</text>
<path d="M490.7,340.5 V500" stroke="#262626" stroke-width="1.2" fill="none"/>
<path d="M490.1,499.6 H684.5" stroke="#262626" stroke-width="1.2" fill="none"/>
<path d="M485.5,499.8 H490.7" stroke="#262626" stroke-width="1.2"/>
<text x="482.0" y="504.6" font-size="13.6" text-anchor="end" font-weight="normal" fill="#111" >0</text>
<path d="M485.5,459.2 H490.7" stroke="#262626" stroke-width="1.2"/>
<text x="482.0" y="464.0" font-size="13.6" text-anchor="end" font-weight="normal" fill="#111" >30</text>
<path d="M485.5,418.3 H490.7" stroke="#262626" stroke-width="1.2"/>
<text x="482.0" y="423.1" font-size="13.6" text-anchor="end" font-weight="normal" fill="#111" >60</text>
<path d="M485.5,377.4 H490.7" stroke="#262626" stroke-width="1.2"/>
<text x="482.0" y="382.2" font-size="13.6" text-anchor="end" font-weight="normal" fill="#111" >90</text>
<text x="0.0" y="0.0" font-size="14.2" text-anchor="middle" font-weight="normal" fill="#111" transform="translate(457.5,422) rotate(-90)">intersection size</text>
<rect x="498.90" y="366.7" width="7.1" height="132.5" fill="#3b7ebc"/>
<text x="502.4" y="358.1" font-size="11.8" text-anchor="middle" font-weight="normal" fill="#444" >102</text>
<rect x="511.06" y="379.5" width="7.1" height="119.7" fill="#f07f22"/>
<text x="514.6" y="370.9" font-size="11.8" text-anchor="middle" font-weight="normal" fill="#444" >92</text>
<rect x="523.22" y="409.9" width="7.1" height="89.3" fill="#333"/>
<text x="526.8" y="401.3" font-size="11.8" text-anchor="middle" font-weight="normal" fill="#444" >69</text>
<rect x="535.38" y="451.5" width="7.1" height="47.7" fill="#333"/>
<text x="538.9" y="442.9" font-size="11.8" text-anchor="middle" font-weight="normal" fill="#444" >37</text>
<rect x="547.54" y="458" width="7.1" height="41.2" fill="#333"/>
<text x="551.1" y="449.4" font-size="11.8" text-anchor="middle" font-weight="normal" fill="#444" >32</text>
<rect x="559.70" y="464.4" width="7.1" height="34.8" fill="#333"/>
<text x="563.2" y="455.8" font-size="11.8" text-anchor="middle" font-weight="normal" fill="#444" >27</text>
<rect x="571.86" y="467.1" width="7.1" height="32.1" fill="#333"/>
<text x="575.4" y="458.5" font-size="11.8" text-anchor="middle" font-weight="normal" fill="#444" >25</text>
<rect x="584.02" y="468.4" width="7.1" height="30.8" fill="#333"/>
<text x="587.6" y="459.8" font-size="11.8" text-anchor="middle" font-weight="normal" fill="#444" >24</text>
<rect x="596.18" y="468.4" width="7.1" height="30.8" fill="#333"/>
<text x="599.7" y="459.8" font-size="11.8" text-anchor="middle" font-weight="normal" fill="#444" >24</text>
<rect x="608.34" y="477.8" width="7.1" height="21.4" fill="#333"/>
<text x="611.9" y="469.2" font-size="11.8" text-anchor="middle" font-weight="normal" fill="#444" >17</text>
<rect x="620.50" y="491.7" width="7.1" height="7.5" fill="#333"/>
<text x="624.0" y="483.1" font-size="11.8" text-anchor="middle" font-weight="normal" fill="#444" >6</text>
<rect x="632.66" y="494.3" width="7.1" height="4.9" fill="#333"/>
<text x="636.2" y="485.7" font-size="11.8" text-anchor="middle" font-weight="normal" fill="#444" >4</text>
<rect x="644.82" y="494.3" width="7.1" height="4.9" fill="#333"/>
<text x="648.4" y="485.7" font-size="11.8" text-anchor="middle" font-weight="normal" fill="#444" >4</text>
<rect x="656.98" y="495.7" width="7.1" height="3.5" fill="#333"/>
<text x="660.5" y="487.1" font-size="11.8" text-anchor="middle" font-weight="normal" fill="#444" >3</text>
<rect x="669.14" y="496.8" width="7.1" height="2.4" fill="#333"/>
<text x="672.7" y="488.2" font-size="11.8" text-anchor="middle" font-weight="normal" fill="#444" >2</text>
<rect x="490.5" y="518.8" width="194.5" height="12.9" fill="#f2f2f2"/>
<rect x="490.5" y="545" width="194.5" height="12.6" fill="#f2f2f2"/>
<text x="436.8" y="516.6" font-size="11.9" text-anchor="start" font-weight="normal" fill="#111" >Slc17a6</text>
<text x="436.8" y="529.4" font-size="11.9" text-anchor="start" font-weight="normal" fill="#111" >Slc32a1</text>
<text x="436.8" y="542.5" font-size="11.9" text-anchor="start" font-weight="normal" fill="#111" >Gad1</text>
<text x="436.8" y="555.8" font-size="11.9" text-anchor="start" font-weight="normal" fill="#111" >Gad2</text>
<circle cx="502.50" cy="512.3" r="1.7" fill="#e2e2e2"/>
<path d="M502.50,525.1 V551.5" stroke="#3b7ebc" stroke-width="1.3"/>
<circle cx="502.50" cy="525.1" r="2.2" fill="#3b7ebc"/>
<circle cx="502.50" cy="538.2" r="2.2" fill="#3b7ebc"/>
<circle cx="502.50" cy="551.5" r="2.2" fill="#3b7ebc"/>
<circle cx="514.66" cy="525.1" r="1.7" fill="#e2e2e2"/>
<circle cx="514.66" cy="538.2" r="1.7" fill="#e2e2e2"/>
<circle cx="514.66" cy="551.5" r="1.7" fill="#e2e2e2"/>
<circle cx="514.66" cy="512.3" r="2.2" fill="#f07f22"/>
<circle cx="526.82" cy="512.3" r="1.7" fill="#e2e2e2"/>
<circle cx="526.82" cy="525.1" r="1.7" fill="#e2e2e2"/>
<circle cx="526.82" cy="538.2" r="1.7" fill="#e2e2e2"/>
<circle cx="526.82" cy="551.5" r="2.2" fill="#333"/>
<circle cx="538.98" cy="512.3" r="1.7" fill="#e2e2e2"/>
<circle cx="538.98" cy="525.1" r="1.7" fill="#e2e2e2"/>
<path d="M538.98,538.2 V551.5" stroke="#333" stroke-width="1.3"/>
<circle cx="538.98" cy="538.2" r="2.2" fill="#333"/>
<circle cx="538.98" cy="551.5" r="2.2" fill="#333"/>
<circle cx="551.14" cy="512.3" r="1.7" fill="#e2e2e2"/>
<circle cx="551.14" cy="525.1" r="1.7" fill="#e2e2e2"/>
<circle cx="551.14" cy="551.5" r="1.7" fill="#e2e2e2"/>
<circle cx="551.14" cy="538.2" r="2.2" fill="#333"/>
<circle cx="563.30" cy="512.3" r="1.7" fill="#e2e2e2"/>
<circle cx="563.30" cy="538.2" r="1.7" fill="#e2e2e2"/>
<path d="M563.30,525.1 V551.5" stroke="#333" stroke-width="1.3"/>
<circle cx="563.30" cy="525.1" r="2.2" fill="#333"/>
<circle cx="563.30" cy="551.5" r="2.2" fill="#333"/>
<circle cx="575.46" cy="525.1" r="1.7" fill="#e2e2e2"/>
<circle cx="575.46" cy="538.2" r="1.7" fill="#e2e2e2"/>
<path d="M575.46,512.3 V551.5" stroke="#333" stroke-width="1.3"/>
<circle cx="575.46" cy="512.3" r="2.2" fill="#333"/>
<circle cx="575.46" cy="551.5" r="2.2" fill="#333"/>
<circle cx="587.62" cy="512.3" r="1.7" fill="#e2e2e2"/>
<circle cx="587.62" cy="538.2" r="1.7" fill="#e2e2e2"/>
<circle cx="587.62" cy="551.5" r="1.7" fill="#e2e2e2"/>
<circle cx="587.62" cy="525.1" r="2.2" fill="#333"/>
<circle cx="599.78" cy="525.1" r="1.7" fill="#e2e2e2"/>
<circle cx="599.78" cy="551.5" r="1.7" fill="#e2e2e2"/>
<path d="M599.78,512.3 V538.2" stroke="#333" stroke-width="1.3"/>
<circle cx="599.78" cy="512.3" r="2.2" fill="#333"/>
<circle cx="599.78" cy="538.2" r="2.2" fill="#333"/>
<circle cx="611.94" cy="512.3" r="1.7" fill="#e2e2e2"/>
<circle cx="611.94" cy="551.5" r="1.7" fill="#e2e2e2"/>
<path d="M611.94,525.1 V538.2" stroke="#333" stroke-width="1.3"/>
<circle cx="611.94" cy="525.1" r="2.2" fill="#333"/>
<circle cx="611.94" cy="538.2" r="2.2" fill="#333"/>
<circle cx="624.10" cy="525.1" r="1.7" fill="#e2e2e2"/>
<path d="M624.10,512.3 V551.5" stroke="#333" stroke-width="1.3"/>
<circle cx="624.10" cy="512.3" r="2.2" fill="#333"/>
<circle cx="624.10" cy="538.2" r="2.2" fill="#333"/>
<circle cx="624.10" cy="551.5" r="2.2" fill="#333"/>
<circle cx="636.26" cy="551.5" r="1.7" fill="#e2e2e2"/>
<path d="M636.26,512.3 V538.2" stroke="#333" stroke-width="1.3"/>
<circle cx="636.26" cy="512.3" r="2.2" fill="#333"/>
<circle cx="636.26" cy="525.1" r="2.2" fill="#333"/>
<circle cx="636.26" cy="538.2" r="2.2" fill="#333"/>
<path d="M648.42,512.3 V551.5" stroke="#333" stroke-width="1.3"/>
<circle cx="648.42" cy="512.3" r="2.2" fill="#333"/>
<circle cx="648.42" cy="525.1" r="2.2" fill="#333"/>
<circle cx="648.42" cy="538.2" r="2.2" fill="#333"/>
<circle cx="648.42" cy="551.5" r="2.2" fill="#333"/>
<circle cx="660.58" cy="538.2" r="1.7" fill="#e2e2e2"/>
<path d="M660.58,512.3 V551.5" stroke="#333" stroke-width="1.3"/>
<circle cx="660.58" cy="512.3" r="2.2" fill="#333"/>
<circle cx="660.58" cy="525.1" r="2.2" fill="#333"/>
<circle cx="660.58" cy="551.5" r="2.2" fill="#333"/>
<circle cx="672.74" cy="538.2" r="1.7" fill="#e2e2e2"/>
<circle cx="672.74" cy="551.5" r="1.7" fill="#e2e2e2"/>
<path d="M672.74,512.3 V525.1" stroke="#333" stroke-width="1.3"/>
<circle cx="672.74" cy="512.3" r="2.2" fill="#333"/>
<circle cx="672.74" cy="525.1" r="2.2" fill="#333"/>
<text x="364.8" y="612.6" font-size="14.2" text-anchor="middle" font-weight="normal" fill="#111" font-style="italic" >UMAP visualizations for Onecut3</text>
<text x="3.0" y="635.2" font-size="18.5" text-anchor="start" font-weight="bold" fill="#000" >c</text>
<text x="14.2" y="638.6" font-size="9.5" text-anchor="start" font-weight="bold" fill="#000" >1</text>
<rect x="561.4" y="602.4" width="112.9" height="11.2" fill="url(#virH)" stroke="#111" stroke-width="1"/>
<path d="M590.2,603 V613" stroke="#fff" stroke-width="0.9" stroke-dasharray="1.2,1.2" opacity="0.9"/>
<path d="M618.3,603 V613" stroke="#fff" stroke-width="0.9" stroke-dasharray="1.2,1.2" opacity="0.9"/>
<path d="M646.3,603 V613" stroke="#fff" stroke-width="0.9" stroke-dasharray="1.2,1.2" opacity="0.9"/>
<text x="561.5" y="627.0" font-size="11" text-anchor="middle" font-weight="normal" fill="#111" >0.0</text>
<text x="672.8" y="626.0" font-size="11" text-anchor="middle" font-weight="normal" fill="#111" >0.02</text>
<use href="#umap" transform="matrix(0.859,0,0,0.914,-181.8,611.4)"/>
<ellipse cx="72" cy="692.5" rx="3.2" ry="2.6" fill="url(#gP)"/>
<polygon points="99.1,710 101,706.5 106,705.6 111,705.1 115,705.3 118,706.5 119.5,709 120.1,713 119,717 117,719.5 114.5,720.9 112,719 110,716 106,714.6 101,714" fill="#3c2787"/>
<ellipse cx="109" cy="710" rx="9" ry="4" fill="url(#gTc)"/>
<ellipse cx="114.5" cy="710.5" rx="4" ry="3.2" fill="url(#gYc)"/>
<ellipse cx="124.8" cy="718.8" rx="4.6" ry="3.6" fill="url(#gP)"/>
<ellipse cx="111.7" cy="729.6" rx="3.2" ry="4" fill="url(#gP)"/>
<ellipse cx="90.3" cy="745.4" rx="2.3" ry="2.4" fill="url(#gP)"/>
<ellipse cx="117.2" cy="726.1" rx="0.9" ry="0.9" fill="url(#gP)"/>
<path d="M122.4 708.5h0M141.1 699.9h0M69.8 717.8h0M112.6 690.1h0M94.1 663.8h0M157.7 692.6h0M162.1 691.4h0M100.1 769.6h0M159.9 693.1h0M142.7 775.1h0M137.7 689.0h0M133.9 711.2h0M111.8 790.0h0M87.0 684.7h0M77.9 709.9h0M70.2 740.9h0M96.0 668.5h0M60.6 758.1h0M108.7 779.8h0M91.9 752.6h0M100.3 675.6h0M155.3 745.5h0M73.2 717.4h0M65.4 715.1h0M96.7 674.3h0M134.9 686.4h0M114.3 692.9h0M152.0 720.0h0M154.9 711.9h0M114.4 786.6h0M114.0 689.6h0M114.3 688.9h0M74.4 737.8h0M129.8 704.1h0M65.6 710.1h0M72.7 713.0h0M96.5 665.8h0M130.1 688.4h0" stroke="#2a2a55" stroke-width="1.3" stroke-linecap="round" opacity="0.85"/>
<path d="M46.7,652.6 V807.6" stroke="#1e1e1e" stroke-width="1.3" fill="none"/>
<path d="M42.4,652.6 H46.7" stroke="#1e1e1e" stroke-width="1.2"/>
<text x="37.4" y="657.1" font-size="12.4" text-anchor="end" font-weight="normal" fill="#111" >10</text>
<path d="M42.4,698.2 H46.7" stroke="#1e1e1e" stroke-width="1.2"/>
<text x="37.4" y="702.7" font-size="12.4" text-anchor="end" font-weight="normal" fill="#111" >5</text>
<path d="M42.4,743.8 H46.7" stroke="#1e1e1e" stroke-width="1.2"/>
<text x="37.4" y="748.3" font-size="12.4" text-anchor="end" font-weight="normal" fill="#111" >0</text>
<path d="M42.4,789.4 H46.7" stroke="#1e1e1e" stroke-width="1.2"/>
<text x="37.4" y="793.9" font-size="12.4" text-anchor="end" font-weight="normal" fill="#111" >-5</text>
<path d="M46.7,807.6 H182.9" stroke="#1e1e1e" stroke-width="1.2" fill="none"/>
<path d="M46.7,807.6 V812.1" stroke="#1e1e1e" stroke-width="1.2"/>
<text x="46.7" y="824.8" font-size="12.4" text-anchor="middle" font-weight="normal" fill="#111" >-5</text>
<path d="M83.5,807.6 V812.1" stroke="#1e1e1e" stroke-width="1.2"/>
<text x="83.5" y="824.8" font-size="12.4" text-anchor="middle" font-weight="normal" fill="#111" >0</text>
<path d="M120.3,807.6 V812.1" stroke="#1e1e1e" stroke-width="1.2"/>
<text x="120.3" y="824.8" font-size="12.4" text-anchor="middle" font-weight="normal" fill="#111" >5</text>
<path d="M157.1,807.6 V812.1" stroke="#1e1e1e" stroke-width="1.2"/>
<text x="157.1" y="824.8" font-size="12.4" text-anchor="middle" font-weight="normal" fill="#111" >10</text>
<text x="119.7" y="842.5" font-size="14" text-anchor="middle" font-weight="normal" fill="#111" >UMAP1</text>
<text x="183.2" y="647.4" font-size="14.3" text-anchor="end" font-weight="normal" fill="#111" font-style="italic" >Onecut3/Slc32a1</text>
<use href="#umap" transform="matrix(0.859,0,0,0.914,-15.6,611.4)"/>
<ellipse cx="275" cy="711.6" rx="10.5" ry="5.2" fill="url(#gP)"/>
<ellipse cx="275" cy="711.6" rx="9" ry="4.2" fill="url(#gTc)"/>
<ellipse cx="279.2" cy="711.6" rx="4.5" ry="3.2" fill="url(#gYc)"/>
<ellipse cx="292" cy="720.3" rx="5.8" ry="4.6" fill="url(#gP)"/>
<ellipse cx="291.5" cy="719.8" rx="3.8" ry="3.2" fill="url(#gYc)"/>
<ellipse cx="307.5" cy="735.2" rx="2.6" ry="1.5" fill="url(#gP)"/>
<path d="M292.2 794.3h0M245.5 749.6h0M331.3 722.9h0M306.0 790.2h0M272.4 785.9h0M298.4 725.3h0M242.7 746.9h0M270.3 791.7h0M227.9 723.2h0M290.2 779.4h0M340.4 744.2h0M296.8 763.6h0M227.0 725.4h0M222.8 724.3h0M238.4 747.8h0M253.6 739.5h0M282.6 795.8h0M233.8 717.5h0M294.5 706.4h0M257.4 753.7h0M304.2 690.6h0M289.2 768.0h0M239.9 743.2h0M266.0 679.7h0M244.4 748.4h0M280.2 691.7h0M322.4 739.7h0M284.2 706.0h0M317.1 711.8h0M245.3 710.2h0M270.0 679.8h0M273.9 777.9h0M237.4 752.5h0M259.5 673.0h0M269.3 792.7h0M312.1 758.4h0M239.5 751.3h0M279.2 776.8h0" stroke="#2a2a55" stroke-width="1.3" stroke-linecap="round" opacity="0.85"/>
<path d="M214.5,807.6 H350.7" stroke="#1e1e1e" stroke-width="1.2" fill="none"/>
<path d="M214.5,807.6 V812.1" stroke="#1e1e1e" stroke-width="1.2"/>
<text x="214.5" y="824.8" font-size="12.4" text-anchor="middle" font-weight="normal" fill="#111" >-5</text>
<path d="M251.3,807.6 V812.1" stroke="#1e1e1e" stroke-width="1.2"/>
<text x="251.3" y="824.8" font-size="12.4" text-anchor="middle" font-weight="normal" fill="#111" >0</text>
<path d="M288.1,807.6 V812.1" stroke="#1e1e1e" stroke-width="1.2"/>
<text x="288.1" y="824.8" font-size="12.4" text-anchor="middle" font-weight="normal" fill="#111" >5</text>
<path d="M324.9,807.6 V812.1" stroke="#1e1e1e" stroke-width="1.2"/>
<text x="324.9" y="824.8" font-size="12.4" text-anchor="middle" font-weight="normal" fill="#111" >10</text>
<text x="287.5" y="842.5" font-size="14" text-anchor="middle" font-weight="normal" fill="#111" >UMAP1</text>
<text x="351.9" y="647.4" font-size="14.3" text-anchor="end" font-weight="normal" fill="#111" font-style="italic" >Onecut3/Th</text>
<use href="#umap" transform="matrix(0.859,0,0,0.914,155.3,611.4)"/>
<ellipse cx="445.4" cy="711.5" rx="9.8" ry="5.6" fill="url(#gP)"/>
<ellipse cx="446" cy="711.5" rx="8" ry="4" fill="url(#gTc)"/>
<ellipse cx="472.5" cy="737.8" rx="10" ry="5.5" fill="url(#gP)" transform="rotate(-52 472.5 737.8)"/>
<ellipse cx="471.5" cy="739" rx="6" ry="3.5" fill="url(#gYc)" transform="rotate(-52 471.5 739)"/>
<ellipse cx="470.4" cy="751.6" rx="2.2" ry="2.6" fill="url(#gP)"/>
<ellipse cx="474.7" cy="757.9" rx="2.2" ry="2.2" fill="url(#gP)"/>
<ellipse cx="437.1" cy="759.4" rx="4" ry="3.7" fill="url(#gP)"/>
<ellipse cx="450.6" cy="769.9" rx="4.4" ry="4" fill="url(#gP)"/>
<ellipse cx="476.2" cy="780.9" rx="2.9" ry="4" fill="url(#gP)"/>
<ellipse cx="501.8" cy="745.8" rx="3.6" ry="4" fill="url(#gP)"/>
<ellipse cx="506.1" cy="755.4" rx="2.9" ry="2.6" fill="url(#gP)"/>
<ellipse cx="486.8" cy="751.3" rx="1.8" ry="1.5" fill="url(#gP)"/>
<ellipse cx="461.2" cy="719.6" rx="1" ry="1" fill="url(#gP)"/>
<ellipse cx="448.4" cy="731.2" rx="0.9" ry="1" fill="url(#gP)"/>
<path d="M461.0 704.4h0M405.9 756.1h0M409.2 736.0h0M457.5 791.7h0M508.4 741.1h0M474.3 716.6h0M480.8 726.5h0M433.7 667.7h0M414.9 713.3h0M409.7 746.6h0M390.5 730.5h0M489.0 759.2h0M418.8 737.4h0M490.7 736.9h0M474.1 685.0h0M484.2 741.7h0M402.6 760.4h0M470.7 765.5h0M395.5 716.3h0M515.2 750.4h0M496.9 695.1h0M489.2 740.6h0M472.5 691.3h0M406.4 744.0h0M399.8 711.7h0M436.3 681.5h0M412.3 735.9h0M474.7 697.9h0M499.8 722.3h0M451.3 702.8h0M477.3 727.6h0M474.5 770.2h0M462.6 701.4h0M470.0 763.9h0M489.6 754.2h0M483.0 706.8h0M403.6 698.1h0M479.0 732.5h0" stroke="#2a2a55" stroke-width="1.3" stroke-linecap="round" opacity="0.85"/>
<path d="M384.5,807.6 H520.7" stroke="#1e1e1e" stroke-width="1.2" fill="none"/>
<path d="M384.5,807.6 V812.1" stroke="#1e1e1e" stroke-width="1.2"/>
<text x="384.5" y="824.8" font-size="12.4" text-anchor="middle" font-weight="normal" fill="#111" >-5</text>
<path d="M421.3,807.6 V812.1" stroke="#1e1e1e" stroke-width="1.2"/>
<text x="421.3" y="824.8" font-size="12.4" text-anchor="middle" font-weight="normal" fill="#111" >0</text>
<path d="M458.1,807.6 V812.1" stroke="#1e1e1e" stroke-width="1.2"/>
<text x="458.1" y="824.8" font-size="12.4" text-anchor="middle" font-weight="normal" fill="#111" >5</text>
<path d="M494.9,807.6 V812.1" stroke="#1e1e1e" stroke-width="1.2"/>
<text x="494.9" y="824.8" font-size="12.4" text-anchor="middle" font-weight="normal" fill="#111" >10</text>
<text x="457.5" y="842.5" font-size="14" text-anchor="middle" font-weight="normal" fill="#111" >UMAP1</text>
<text x="520.3" y="647.4" font-size="14.3" text-anchor="end" font-weight="normal" fill="#111" font-style="italic" >Onecut3/Slc17a6</text>
<use href="#umap" transform="matrix(0.859,0,0,0.914,324.4,611.4)"/>
<ellipse cx="644.5" cy="735.5" rx="7.5" ry="4.2" fill="url(#gP)" transform="rotate(-50 644.5 735.5)"/>
<ellipse cx="646.5" cy="733.5" rx="4.5" ry="2.6" fill="url(#gYc)" transform="rotate(-50 646.5 733.5)"/>
<ellipse cx="607.4" cy="758.5" rx="3.6" ry="2.4" fill="url(#gP)"/>
<path d="M583.6 701.9h0M661.3 713.1h0M622.8 690.1h0M617.3 778.3h0M606.5 679.8h0M587.1 689.8h0M628.1 685.0h0M563.5 732.3h0M559.1 726.5h0M674.0 737.5h0M627.8 792.8h0M565.6 751.3h0M650.7 788.1h0M581.4 749.4h0M576.5 746.8h0M595.3 660.3h0M566.3 727.5h0M574.3 711.4h0M670.9 717.6h0M573.8 713.4h0M622.2 789.5h0M578.3 736.9h0M621.6 796.1h0M579.6 713.7h0M644.6 702.4h0M664.0 745.1h0M657.8 747.1h0M652.8 727.0h0M610.1 678.4h0M568.5 710.4h0M630.1 704.2h0M667.9 748.8h0M579.2 703.5h0M641.9 712.1h0M617.5 797.7h0M674.4 723.5h0M604.6 771.3h0M605.6 676.8h0" stroke="#2a2a55" stroke-width="1.3" stroke-linecap="round" opacity="0.85"/>
<path d="M553.5,807.6 H681.5" stroke="#1e1e1e" stroke-width="1.2" fill="none"/>
<path d="M553.5,807.6 V812.1" stroke="#1e1e1e" stroke-width="1.2"/>
<text x="553.5" y="824.8" font-size="12.4" text-anchor="middle" font-weight="normal" fill="#111" >-5</text>
<path d="M588.1,807.6 V812.1" stroke="#1e1e1e" stroke-width="1.2"/>
<text x="588.1" y="824.8" font-size="12.4" text-anchor="middle" font-weight="normal" fill="#111" >0</text>
<path d="M622.7,807.6 V812.1" stroke="#1e1e1e" stroke-width="1.2"/>
<text x="622.7" y="824.8" font-size="12.4" text-anchor="middle" font-weight="normal" fill="#111" >5</text>
<path d="M657.3,807.6 V812.1" stroke="#1e1e1e" stroke-width="1.2"/>
<text x="657.3" y="824.8" font-size="12.4" text-anchor="middle" font-weight="normal" fill="#111" >10</text>
<text x="627.5" y="842.5" font-size="14" text-anchor="middle" font-weight="normal" fill="#111" >UMAP1</text>
<text x="683.3" y="647.4" font-size="14.3" text-anchor="end" font-weight="normal" fill="#111" font-style="italic" >Onecut3/Trh</text>
<text x="0.0" y="0.0" font-size="14" text-anchor="middle" font-weight="normal" fill="#111" transform="translate(20.5,729.4) rotate(-90)">UMAP2</text>
<path d="M553.8,658 V807" stroke="#efefef" stroke-width="0.8"/>
</svg></body></html>
